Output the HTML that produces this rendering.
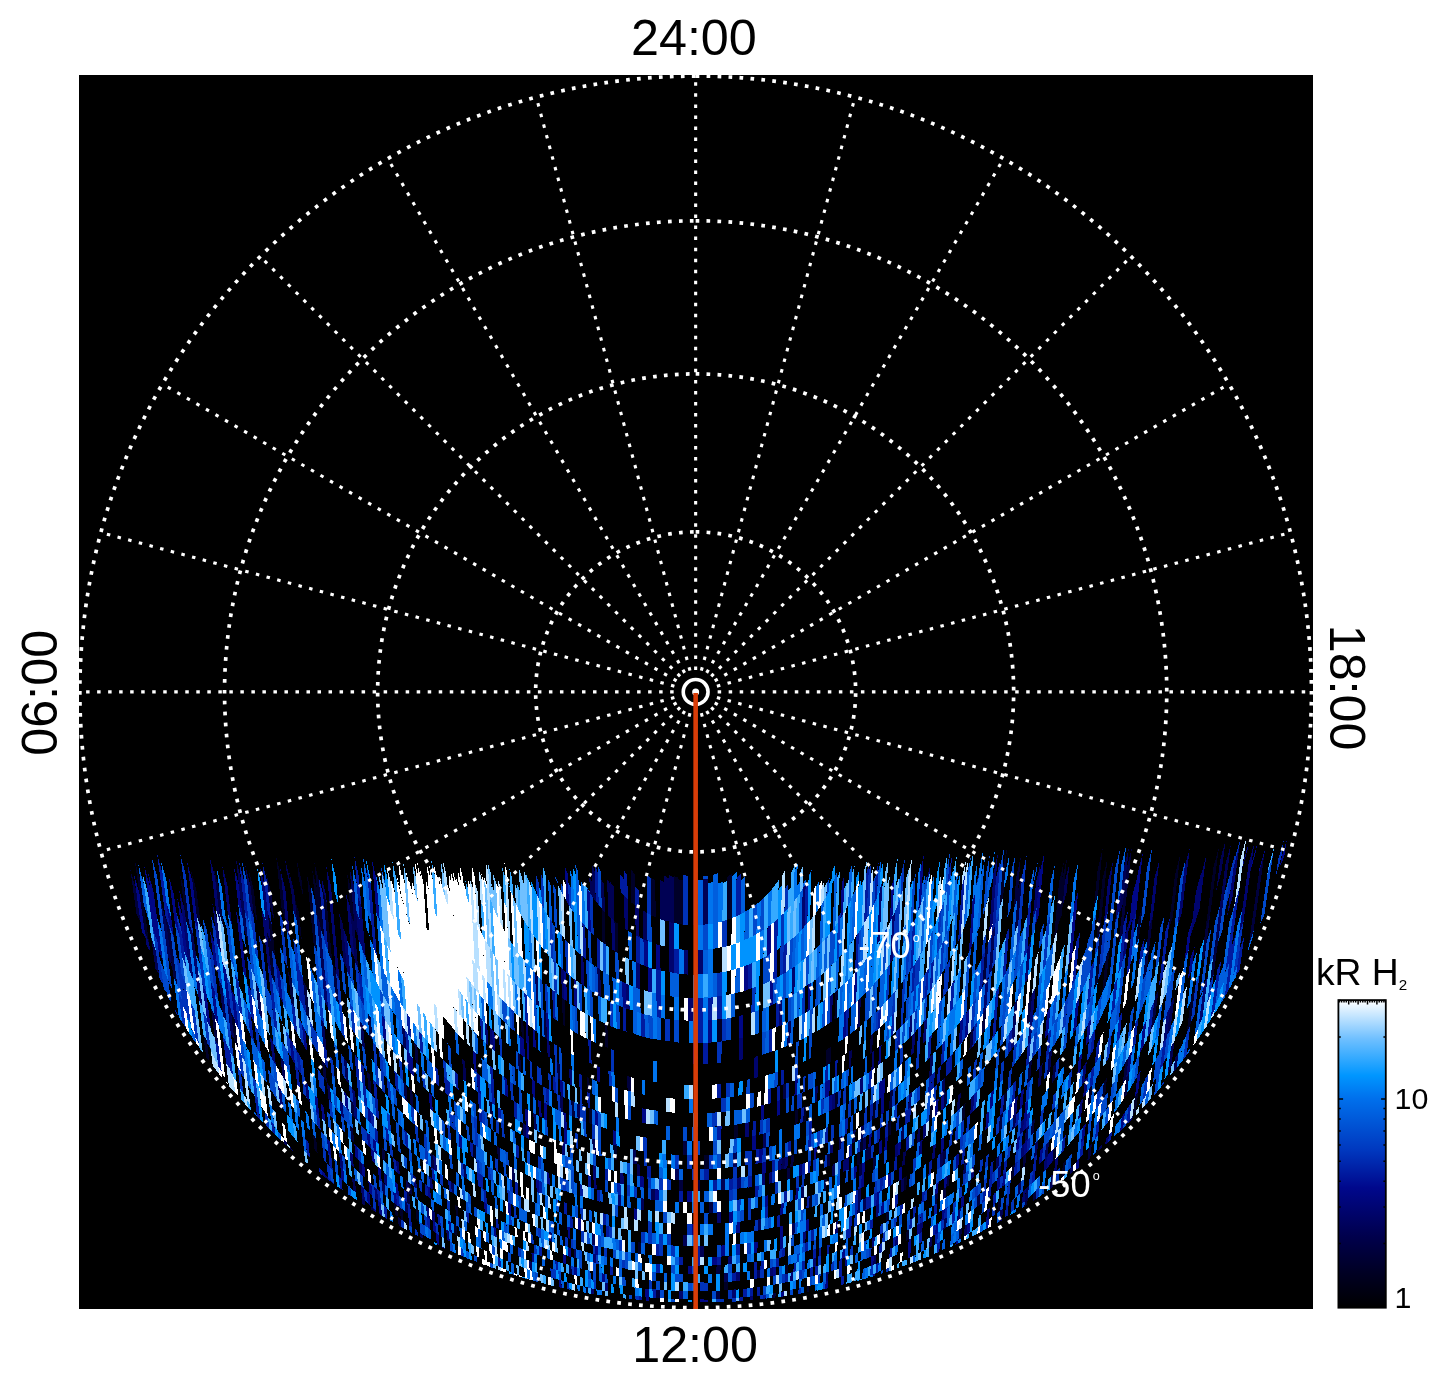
<!DOCTYPE html>
<html lang="en"><head><meta charset="utf-8"><title>Polar projection - kR H2</title>
<style>
html,body{margin:0;padding:0;background:#fff}
body{width:1447px;height:1384px;overflow:hidden}
svg{display:block}
text{font-family:"Liberation Sans",Arial,Helvetica,sans-serif}
</style></head><body>
<svg width="1447" height="1384" viewBox="0 0 1447 1384" style="will-change:transform">
<rect width="1447" height="1384" fill="#fff"/>
<rect x="79" y="75" width="1234" height="1234" fill="#000"/>
<defs><clipPath id="pc"><rect x="79" y="75" width="1234" height="1234"/></clipPath>
<linearGradient id="cb" x1="0" y1="1" x2="0" y2="0"><stop offset="0" stop-color="rgb(0,0,0)"/><stop offset="0.12" stop-color="rgb(0,0,38)"/><stop offset="0.23" stop-color="rgb(0,0,76)"/><stop offset="0.39" stop-color="rgb(0,8,140)"/><stop offset="0.51" stop-color="rgb(0,55,190)"/><stop offset="0.68" stop-color="rgb(0,112,236)"/><stop offset="0.755" stop-color="rgb(0,150,255)"/><stop offset="0.875" stop-color="rgb(112,192,255)"/><stop offset="1" stop-color="rgb(255,255,255)"/></linearGradient></defs>
<g clip-path="url(#pc)" stroke="none" shape-rendering="crispEdges">
<path fill="#fff" d="M457.0 955.0L458.3 963.3L458.9 971.3L458.7 979.0L457.7 986.0L456.0 992.3L453.6 997.7L450.6 1002.0L447.0 1005.2L443.0 1007.1L438.6 1007.8L434.2 1007.1L429.6 1005.2L425.0 1002.0L420.5 997.7L416.2 992.3L412.1 986.0L408.5 979.0L405.3 971.3L402.7 963.3L400.7 955.0L399.4 946.7L398.8 938.7L398.9 931.0L399.7 930.0L401.2 930.0L403.4 930.0L406.2 930.0L409.5 930.0L413.3 930.0L417.4 930.0L422.1 930.0L426.9 930.0L431.8 930.0L436.5 930.0L441.1 930.0L445.3 930.0L449.1 931.0L452.4 938.7L455.0 946.7Z"/>
<path fill="#000028" d="M520.89 1018.3L523.26 1020.3L524.1 1039.2L521.75 1037.4ZM561.99 997.7L564.48 999.5L565.38 1026.4L562.92 1024.8ZM586.78 1077.1L589.4 1078.2L589.81 1093.1L587.21 1092.1ZM601.76 908.8L604.85 912L605.59 944.5L602.54 942.3ZM604.44 1023.2L607.4 1024.6L607.93 1048L604.99 1046.8ZM614.47 921L617.8 923.7L618.38 953.3L615.08 951.3ZM630.91 869.4L634.76 874.4L635.23 905.4L631.43 902.5ZM650.97 877.3L655.32 880.7L655.68 917.5L651.39 915.5ZM673.62 876L678.44 877.7L678.63 923.8L673.87 922.9ZM678.45 879.3L683.33 880.5L683.46 924.7L678.63 924.1ZM717.14 1019.4L721.77 1018.8L721.61 1041.4L717.02 1041.9ZM727.45 876.8L732.08 873.6L731.67 918.3L727.1 920ZM826.19 1049.7L828.63 1048.3L828.06 1064.9L825.63 1066.2ZM828.64 1048.1L831.07 1046.6L830.48 1063.2L828.07 1064.5ZM835.41 991.6L837.87 989.5L836.84 1017.7L834.41 1019.4ZM134.84 860.7L140.49 880.7L149.31 944.6L144.56 930.8ZM179.93 873.9L185.36 893.9L190.51 934.4L185.87 920.3ZM203.24 1034.4L206.81 1040.8L209.36 1060.9L206.14 1057.3ZM190.98 870.1L196.36 890.1L201.28 929.6L196.62 915.1ZM231.1 1012.7L234.68 1019.4L238.01 1047.5L234.56 1041.7ZM248.65 869.5L253.74 889.5L257.36 922.4L252.98 908.6ZM266.85 931.2L270.86 942.1L275.35 983.9L271.72 976.3ZM267.7 912.6L271.93 925.5L275.33 957.5L271.51 948.2ZM276.25 857.3L281.21 877.3L285.74 921.3L281.53 908.3ZM313.1 1134.9L316.12 1138.2L317.63 1153.1L314.63 1150ZM294.96 899.6L299.21 913.5L301.8 939.6L297.94 929.4ZM296.85 860.7L301.7 880.7L303.32 897.1L298.68 879.2ZM306.78 873.6L311.49 892.7L317.21 952.5L313.55 943.8ZM312.1 868.9L316.88 888.9L320.11 923.3L316.16 911.6ZM314.31 861.7L319.08 881.7L324.4 938.6L320.64 928.9ZM322.59 888.6L326.84 903.6L332.22 962L328.68 954.2ZM347.1 873L351.49 890.6L354.31 923.5L350.56 913.1ZM394.15 1203.1L396.97 1205.2L397.89 1216.7L395.09 1214.6ZM399.8 1207.5L402.6 1209.5L403.51 1220.9L400.72 1219ZM415.76 1208.7L418.55 1210.6L419.4 1222.1L416.63 1220.2ZM453.77 1223.9L456.5 1225.4L457.18 1235.9L454.46 1234.4ZM455.16 1204.8L457.91 1206.4L458.59 1216.9L455.84 1215.3ZM472.7 1143.3L475.5 1145.2L476.31 1159.2L473.53 1157.4ZM585.49 1287L588.21 1287.6L588.37 1293L585.65 1292.6ZM588.64 1108.1L591.57 1109.2L591.98 1124.1L589.06 1123.1ZM613.4 1144.8L616.54 1145.6L616.84 1160.1L613.72 1159.3ZM637.86 1242.2L641.28 1242.7L641.45 1254.2L638.04 1253.7ZM704.47 1154.9L708.74 1154.8L708.69 1168.8L704.43 1168.9ZM724.4 1281.7L728.29 1281.4L728.22 1289.9L724.33 1290.2ZM733.73 1124.8L737.65 1124.3L737.5 1138.3L733.58 1138.8ZM785.06 1265.1L787.96 1264.5L787.73 1273.5L784.84 1274.1ZM794.89 1110.1L797.87 1109.1L797.46 1124.1L794.49 1125.1ZM803.76 1106.8L806.67 1105.7L806.22 1121.2L803.31 1122.3ZM809.59 1196L812.38 1195.1L812.02 1206.6L809.23 1207.4ZM806.79 1286.4L809.51 1285.7L809.32 1291.8L806.61 1292.3ZM835.19 1092.8L838.01 1091.4L837.4 1107.4L834.6 1108.8ZM857.31 1153.1L860.06 1151.7L859.51 1164.3L856.77 1165.6ZM860.61 1139.3L863.38 1137.8L862.82 1150.4L860.06 1151.8ZM873.12 1102.9L875.93 1101.1L875.11 1118.2L872.32 1119.8ZM888.43 1122.8L891.23 1121L890.52 1134.6L887.74 1136.3ZM886.48 1212.5L889.19 1211.2L888.69 1220.7L885.99 1222ZM904.29 1177.6L907.05 1176L906.28 1189.5L903.53 1191ZM906.54 1231L909.25 1229.6L908.67 1239.6L905.97 1241ZM930.06 1105.9L932.92 1103.6L931.98 1118.6L929.14 1120.8ZM962.66 1106L965.57 1103.4L964.42 1119.4L961.54 1121.9ZM967.98 1181.6L970.79 1179.6L969.94 1191.1L967.14 1193.1ZM1002.51 868.5L1006.94 848.5L1003.18 897.4L999.45 908.7ZM1004.4 1094L1007.39 1090.8L1005.86 1109.4L1002.91 1112.3ZM998.33 1201.2L1001.16 1199.1L1000.2 1210.6L997.39 1212.7ZM1011.84 1166.9L1014.72 1164.4L1013.65 1177L1010.78 1179.4ZM1059.04 882L1063.75 862L1059.9 904.1L1055.94 916.3ZM1055.94 916.3L1059.9 904.1L1057.5 930.4L1053.82 939.7ZM1062.26 878.3L1066.98 858.3L1061.78 914.8L1057.93 925.7ZM1053.7 1148.6L1056.68 1145.6L1055.32 1159.6L1052.37 1162.5ZM1062.97 1163.6L1065.94 1160.6L1064.54 1174.7L1061.6 1177.5ZM1097.8 868.5L1102.7 848.5L1098.1 894.2L1093.74 909.2ZM1102.56 878.5L1107.49 858.5L1099.82 933.6L1095.96 943.7ZM1098.96 942L1102.85 931.7L1097.59 982.9L1094.08 989.9ZM1089.44 1088.8L1092.6 1084.6L1090.76 1102.3L1087.65 1106.1ZM1105.9 957L1109.69 947.9L1105.74 985.4L1102.21 992.4ZM1103.82 1082L1107.02 1077.6L1104.96 1096.8L1101.8 1100.8ZM1096.43 1151L1099.48 1147.6L1099.21 1150.1L1096.27 1152.5ZM1138.23 920.3L1142.7 905.9L1139.19 937.2L1135.16 947.9ZM1134.97 1096.3L1138.22 1091.8L1135.93 1111.5L1132.74 1115.6ZM1175.07 874.3L1180.35 854.3L1172.91 916.3L1168.41 930.1ZM1191.26 996.5L1195.12 988.1L1190.28 1025.9L1186.66 1032.6ZM1213.47 867.2L1218.94 847.2L1210.35 913.6L1205.55 928.8Z"/>
<path fill="#00003d" d="M517.92 1052.6L520.25 1054.4L521.07 1072.3L518.75 1070.7ZM543.53 1010.2L545.93 1012.1L546.96 1039L544.59 1037.3ZM557.12 1062.2L559.52 1063.5L560.08 1079.5L557.7 1078.2ZM627.31 1076.1L630.72 1077L630.96 1091.5L627.56 1090.7ZM693.23 880.2L698.22 880.2L698.18 925.2L693.25 925.2ZM783.51 1084.4L786.43 1083.4L786.07 1098.4L783.16 1099.4ZM870.7 1035.3L873.06 1033.4L872.18 1052.4L869.84 1054.2ZM130.28 869.4L135.96 889.4L140.49 921.9L136.66 914.9ZM165.23 915.2L170.12 930.5L177.45 985.9L173.4 976.6ZM211.08 1008.5L214.76 1015.7L218.52 1046.1L215.01 1040ZM213.9 868.6L219.16 888.6L223.79 927.6L219.26 913.5ZM266.49 874.4L271.49 894.4L274.17 919.8L269.86 906ZM288.08 971.5L291.68 979.1L294.69 1008.4L291.26 1002.2ZM302.95 979.5L306.45 986.5L309.81 1020.3L306.47 1014.7ZM322.01 1060.1L325.18 1064.4L326.9 1082.2L323.78 1078.3ZM332.42 964.1L335.89 971.2L338.97 1005L335.66 999.3ZM350.03 1125.9L353.01 1129L354.27 1142.9L351.31 1140ZM350.36 1099.8L353.39 1103.2L354.73 1118.1L351.73 1114.9ZM370.58 1206L373.42 1208.2L373.65 1210.9L370.86 1209.3ZM366.97 1071.2L370.02 1074.8L371.7 1094.7L368.69 1091.4ZM367.51 1012.6L370.69 1017.3L372.67 1041L369.56 1036.9ZM381.53 1147L384.43 1149.6L385.46 1162.1L382.58 1159.6ZM397.9 1216.8L400.7 1218.7L401.36 1227L398.61 1225.5ZM406.47 1191.2L409.28 1193.3L410.17 1204.8L407.37 1202.8ZM408.41 1182L411.24 1184.1L412.11 1195.6L409.3 1193.5ZM403.38 1081.2L406.34 1084.3L407.7 1102.1L404.76 1099.3ZM409.35 1088L412.3 1090.9L413.56 1107.8L410.64 1105.1ZM414.25 1042.7L417.27 1046.2L418.62 1065L415.64 1061.8ZM430.33 1152.9L433.16 1155.1L434.17 1169.5L431.35 1167.5ZM489.23 1100.8L492.06 1102.8L492.83 1117.3L490.02 1115.4ZM497.07 1146.2L499.84 1147.8L500.52 1160.8L497.75 1159.2ZM568.74 1265.2L571.42 1265.9L571.71 1274.4L569.03 1273.7ZM571.38 1100.6L574.22 1101.8L574.72 1117.3L571.88 1116.1ZM656.14 1289.7L659.86 1290L659.94 1298.5L656.24 1298.2ZM678.93 1179.8L683.12 1179.9L683.15 1190.9L678.97 1190.8ZM682.99 1140.9L687.27 1141L687.29 1155L683.04 1154.9ZM695.87 1180.4L700.14 1180.4L700.13 1191.4L695.87 1191.4ZM708.57 1202.2L712.76 1202L712.71 1213L708.53 1213.2ZM716.53 1265.5L720.56 1265.3L720.5 1273.8L716.48 1274ZM716.38 1291L720.38 1290.8L720.32 1299.3L716.33 1299.5ZM772.55 1293.4L775.57 1292.9L775.47 1297.5L772.46 1297.8ZM787.46 1168.2L790.45 1167.4L790.15 1178.9L787.18 1179.7ZM790.74 1155.8L793.71 1155L793.4 1166.5L790.45 1167.3ZM823.85 1179.6L826.61 1178.6L826.18 1190.6L823.44 1191.5ZM827.46 1154.5L830.23 1153.4L829.8 1165.4L827.04 1166.5ZM859.51 1164.2L862.26 1162.9L861.7 1175.4L858.97 1176.7ZM865.56 1149.2L868.32 1147.8L867.74 1160.3L865 1161.7ZM868.34 1147.4L871.1 1145.9L870.49 1158.9L867.74 1160.3ZM873.25 1157.3L876 1155.8L875.37 1168.8L872.63 1170.2ZM890.03 1091.4L892.87 1089.4L891.93 1107.5L889.12 1109.4ZM935.19 1194.4L937.96 1192.7L937.27 1203.2L934.51 1204.9ZM944.5 1092.8L947.4 1090.3L946.33 1106.4L943.46 1108.8ZM943.34 1151.5L946.16 1149.5L945.19 1164L942.38 1166ZM943.52 1188.9L946.3 1187.1L945.59 1197.6L942.82 1199.4ZM947.04 1176.3L949.84 1174.3L949.08 1185.4L946.3 1187.2ZM970.74 1030.8L973.78 1027.1L972.33 1047.3L969.32 1050.6ZM959.21 1229.5L961.96 1227.7L961.2 1238.3L958.45 1240ZM984.95 950.5L988.28 943.7L985.43 982.1L982.26 987.2ZM983.13 1013.2L986.24 1008.8L984.61 1030.6L981.56 1034.4ZM977.57 1195.6L980.38 1193.5L979.49 1205.1L976.69 1207ZM1016.31 876.5L1020.81 856.5L1017.49 897.7L1013.69 909.4ZM1018.17 889.3L1022.4 872.5L1018.22 923.9L1014.66 932.8ZM999.95 1115.4L1002.9 1112.5L1001.51 1129.6L998.59 1132.3ZM1028.8 1000L1032.06 994.5L1029.7 1021.9L1026.52 1026.6ZM1028.91 1062.9L1032.01 1059L1030.15 1080.1L1027.1 1083.7ZM1023.53 1155.6L1026.45 1152.9L1025.29 1165.9L1022.39 1168.5ZM1031.89 1122L1034.87 1118.9L1033.61 1133L1030.65 1135.9ZM1024.83 1201.1L1027.69 1198.8L1027.12 1205.1L1024.33 1206.8ZM1033.52 1193L1036.4 1190.5L1035.59 1199.4L1032.78 1201.2ZM1053.32 1066.3L1056.46 1062.2L1054.8 1079.9L1051.7 1083.7ZM1088.84 1146.5L1091.88 1143.2L1090.29 1158.3L1087.37 1160.5ZM1126.75 867.8L1131.8 847.8L1122.56 933.5L1118.58 944.1ZM1125.14 1062.5L1128.46 1057.5L1126.01 1079.2L1122.76 1083.8ZM1126.16 1077.9L1129.43 1073.1L1127.08 1093.8L1123.87 1098.1ZM1148.7 928.5L1153.08 915.1L1146.47 972.6L1142.7 981ZM1154.72 998.1L1158.42 990.4L1154.55 1023.1L1151.03 1029.4ZM1205.55 928.8L1210.35 913.6L1205.09 954.4L1200.89 965ZM1215.15 942.3L1219.76 928.8L1213.76 974.3L1209.71 983.7ZM1258.87 873L1264.57 853L1253.61 930.8L1248.81 944.8Z"/>
<path fill="#000154" d="M535.08 973.2L537.51 975.7L538.74 1006.4L536.35 1004.4ZM589.39 877.3L592.37 882.7L592.74 897.1L589.8 892.9ZM591.91 864.9L594.97 871.7L595.7 901.2L592.74 897.3ZM597.35 967.7L600.27 969.6L600.92 996.9L598.04 995.3ZM601.08 879.4L604.23 884.4L604.85 912L601.76 908.8ZM607.22 879.3L610.49 884.1L611.2 918.2L608 915.2ZM610.45 882.2L613.78 886.7L614.47 920.9L611.2 918.1ZM643.1 910.6L647.19 912.9L647.53 941.1L643.47 939.4ZM659.74 879.5L664.29 882.1L664.59 920.6L660.08 919ZM664.24 875.7L668.9 878.3L669.18 921.7L664.58 920.3ZM668.88 874.9L673.63 877.1L673.87 923.1L669.18 922ZM703.2 879.5L708.17 878.5L708.02 924.2L703.11 924.7ZM787.9 1022L790.82 1020.6L790.23 1044.7L787.33 1045.9ZM815.28 1086.8L817.76 1085.7L817.26 1101.2L814.79 1102.3ZM849.51 1051.3L851.87 1049.7L851.15 1067.3L848.81 1068.7ZM858.54 999.5L860.94 997.3L859.7 1026.5L857.33 1028.4ZM151.18 937.5L155.78 950.4L159.02 974.2L155.47 968.8ZM160.47 900.9L165.71 918.8L172.21 967.7L167.96 956.9ZM189.05 922.9L193.63 936.6L196.66 960.5L192.45 949.7ZM218.64 978.9L222.47 987.4L226.71 1022.5L223.12 1015.8ZM227.09 1002.5L230.74 1009.7L234.31 1039.6L230.82 1033.6ZM235.85 858.5L241 878.5L248.1 941.4L243.96 929.8ZM255.4 981.1L259.06 988.8L262.49 1019.6L259.01 1013.3ZM245.32 865.5L250.42 885.5L254.14 919.1L249.66 904.5ZM283.9 1139.1L286.97 1142.6L287.35 1146.1L284.39 1143.7ZM280.34 1056.2L283.61 1061.1L285.78 1081.3L282.57 1076.9ZM285.22 860L290.12 880L291.13 890L286.23 870ZM289.35 872.3L294.23 892.3L297.21 922.1L293.1 909.5ZM320.75 1018.5L324.04 1023.8L326.59 1050.4L323.39 1045.9ZM326.94 1082.7L330.05 1086.6L331.61 1102.9L328.55 1099.4ZM316.16 911.6L320.11 923.3L324.85 973.5L321.35 966.3ZM352.06 1177.4L354.97 1179.9L356.15 1192.9L353.27 1190.4ZM343.81 1057.9L346.93 1062L348.91 1083.8L345.84 1080.1ZM358.5 1160L361.42 1162.6L362.57 1175.6L359.67 1173ZM361.93 1198.1L364.79 1200.5L365.26 1205.7L362.46 1204ZM339.14 913L342.95 923.8L346.98 969.4L343.55 962.4ZM350.56 913.1L354.31 923.5L358.1 967.7L354.69 960.9ZM359.88 1021L363.06 1025.6L365.09 1049.4L361.98 1045.2ZM349.51 867.5L354.02 886.5L358.26 936.5L354.66 927.5ZM379.11 1213L381.93 1215.1L381.99 1215.8L379.22 1214.2ZM381.77 1181.8L384.62 1184.1L385.62 1196.1L382.78 1193.8ZM404.56 1200.7L407.37 1202.8L408.22 1213.7L405.42 1211.8ZM405.57 1179.7L408.4 1181.9L409.28 1193.3L406.47 1191.2ZM401.91 1025.7L404.99 1029.7L406.54 1050.5L403.52 1046.9ZM420.23 1233L422.98 1234.8L423.26 1238.6L420.54 1237.3ZM451 1181.7L453.78 1183.5L454.46 1194L451.69 1192.3ZM463.19 1163.6L465.98 1165.5L466.81 1178.9L464.03 1177.2ZM462.21 1059.2L465.13 1061.9L466.35 1082.2L463.46 1079.8ZM511.55 1167.2L514.29 1168.6L514.9 1181.1L512.16 1179.8ZM522.92 1123.1L525.7 1124.7L526.28 1137.6L523.51 1136.2ZM529.2 1260.9L531.85 1261.9L532.26 1270.9L529.61 1269.9ZM533.34 1113.1L536.12 1114.6L536.79 1130.5L534.02 1129.1ZM560.06 1095.3L562.88 1096.6L563.44 1112.6L560.63 1111.3ZM573.51 1248.7L576.22 1249.4L576.51 1258.4L573.81 1257.7ZM577.09 1103.5L579.96 1104.6L580.41 1119.6L577.56 1118.5ZM592.15 1233.3L594.97 1234L595.29 1245.5L592.48 1244.8ZM592.37 1138.7L595.3 1139.6L595.69 1154.6L592.78 1153.7ZM632.96 1149.3L636.42 1149.9L636.64 1164.4L633.2 1163.8ZM636.64 1164.2L640.14 1164.7L640.31 1176.2L636.82 1175.7ZM640.63 1198.1L644.16 1198.6L644.32 1210.1L640.8 1209.6ZM651.31 1188.5L655.06 1189L655.18 1200L651.44 1199.5ZM674.72 1168.8L678.88 1169L678.93 1180L674.78 1179.8ZM683.29 1234.9L687.46 1235L687.48 1246L683.33 1245.9ZM700.05 1246L704.24 1245.9L704.21 1256.9L700.04 1257ZM721.17 1179.1L725.24 1178.8L725.15 1189.8L721.09 1190.1ZM724.47 1273.2L728.37 1272.9L728.29 1281.4L724.4 1281.7ZM733.44 1152.8L737.34 1152.3L737.17 1166.8L733.29 1167.3ZM758.02 1219.5L761.36 1218.9L761.16 1229.9L757.83 1230.5ZM757.15 1269.9L760.45 1269.5L760.3 1278L757.01 1278.4ZM762.9 1133.7L766.27 1132.9L765.99 1147.5L762.64 1148.2ZM781.67 1158L784.73 1157.2L784.45 1168.7L781.4 1169.4ZM791.9 1223.5L794.78 1222.8L794.47 1234.3L791.6 1235ZM801.45 1187.2L804.3 1186.3L803.96 1197.8L801.12 1198.6ZM832.54 1164.7L835.3 1163.6L834.85 1175.6L832.1 1176.6ZM839 1137.5L841.77 1136.2L841.28 1148.8L838.52 1150ZM852.85 1131L855.62 1129.6L855.09 1142.1L852.33 1143.5ZM861.18 1126.3L863.96 1124.8L863.38 1137.8L860.61 1139.3ZM858.42 1189.2L861.14 1188L860.57 1200.5L857.87 1201.6ZM857.87 1201.6L860.57 1200.5L860.04 1212.5L857.34 1213.6ZM863.38 1137.9L866.14 1136.4L865.57 1149L862.82 1150.4ZM863.29 1199.1L866.01 1197.9L865.43 1210.4L862.73 1211.6ZM873.8 1255.4L876.47 1254.3L876 1263.8L873.34 1264.9ZM901.71 1127.4L904.51 1125.5L903.76 1139L900.97 1140.8ZM903.01 1152.6L905.79 1150.9L905.03 1164.4L902.26 1166.1ZM901.51 1179.5L904.27 1178L903.54 1191L900.8 1192.5ZM917.8 1129.5L920.62 1127.5L919.78 1141.5L916.97 1143.4ZM930.36 1056.6L933.29 1053.8L932.01 1074.4L929.11 1077ZM929.77 1237.6L932.49 1236.1L931.84 1246.1L929.13 1247.5ZM942.65 1079.4L945.56 1076.7L944.47 1093.3L941.58 1095.8ZM940.52 1153.6L943.34 1151.5L942.38 1166.1L939.58 1168ZM944.14 1219.1L946.89 1217.4L946.17 1228L943.43 1229.6ZM957.97 1095.2L960.88 1092.5L959.73 1109.1L956.84 1111.6ZM963.98 1163.2L966.81 1161L965.97 1172.6L963.16 1174.6ZM964.72 1226L967.48 1224.2L966.7 1234.8L963.95 1236.5ZM991.94 932.6L995.41 924.4L991.98 969.7L988.75 975.3ZM996.54 1157.6L999.42 1155.2L998.4 1167.7L995.54 1170.1ZM1014.57 1003.2L1017.78 998.1L1015.64 1023.9L1012.51 1028.4ZM1000.2 1210.6L1003.02 1208.5L1002.04 1220.3L999.28 1221.8ZM1013.35 1117.2L1016.31 1114.2L1015.16 1127.8L1012.22 1130.6ZM1018.36 1184.1L1021.24 1181.7L1020.18 1193.7L1017.32 1196.1ZM1025.89 1128.7L1028.85 1125.7L1027.65 1139.3L1024.71 1142.1ZM1025.94 1188.7L1028.82 1186.2L1027.69 1198.8L1024.83 1201.1ZM1039.52 1067.2L1042.63 1063.2L1040.71 1084.4L1037.65 1088ZM1035.35 1143.5L1038.31 1140.6L1037.07 1154.1L1034.14 1156.9ZM1064.71 882.9L1069.44 862.9L1066.72 892.3L1062.54 906.6ZM1049.09 1052.6L1052.25 1048.3L1050.1 1071.5L1047 1075.4ZM1046.04 1144.3L1049.01 1141.3L1047.69 1155.4L1044.74 1158.2ZM1051.08 1175.9L1054.01 1173.2L1052.71 1186.8L1049.8 1189.4ZM1070.58 1167.7L1073.55 1164.8L1072.8 1172.2L1069.92 1174.3ZM1123.9 867.4L1128.93 847.4L1122.94 903.4L1118.56 917.6ZM1099.55 1146.9L1102.61 1143.5L1102.17 1147.5L1099.23 1149.9ZM1170.87 1003.1L1174.6 995.5L1170.47 1029.1L1166.92 1035.5ZM1171.04 1046.9L1174.55 1040.9L1171.28 1067.2L1167.88 1072.6ZM1175.19 1057.9L1178.66 1052.2L1176.63 1068.3L1173.45 1071.8ZM1220.2 859.8L1225.71 839.8L1221.67 870.7L1216.19 890.7ZM1225.43 864L1230.97 844L1225.38 886.3L1219.88 906.3ZM1219.88 906.3L1225.38 886.3L1219.76 928.8L1215.15 942.3Z"/>
<path fill="#00046d" d="M484.82 1022.1L487.21 1024.5L488.33 1045.4L485.96 1043.2ZM489.62 1027.4L492 1029.6L493.04 1049.5L490.69 1047.5ZM525.64 1022.5L528 1024.4L528.8 1042.8L526.45 1041.1ZM546.97 1039.2L549.35 1040.8L549.99 1057.7L547.63 1056.3ZM560.98 968L563.5 970.2L564.48 999.5L561.99 997.7ZM569.18 1068.5L571.63 1069.7L572.15 1085.7L569.71 1084.5ZM580.69 954.9L583.39 957.2L584.22 986.4L581.55 984.6ZM611.2 918.1L614.47 920.9L615.09 951.5L611.86 949.4ZM624.12 895.9L627.73 899.3L628.26 930.7L624.69 928.4ZM625.66 983.4L629.17 984.8L629.59 1009.7L626.11 1008.5ZM635.22 905.2L639.11 908L639.52 937.1L635.67 935.1ZM636.08 962.3L639.89 963.9L640.25 989.2L636.46 987.9ZM669.18 922L673.87 923.1L674 948.5L669.35 947.6ZM669.35 947.6L674 948.5L674.13 972.9L669.51 972.2ZM683.53 949.8L688.38 950.1L688.42 974.6L683.61 974.3ZM688.46 997.8L693.28 997.9L693.3 1020.9L688.5 1020.8ZM698.16 950.4L703.06 950.2L703.01 974.2L698.14 974.4ZM739.09 1038.2L743.2 1037.4L742.92 1059.4L738.84 1060.2ZM754.53 1056.8L758.2 1055.8L757.84 1077.4L754.2 1078.2ZM779.32 1001.5L782.44 1000L781.88 1025.1L778.78 1026.4ZM792.12 968.3L795.04 966.3L794.34 993.9L791.44 995.6ZM802.73 888.7L805.66 883.7L804.47 926.7L801.63 929.6ZM830.45 995.8L832.93 993.9L831.95 1021.5L829.5 1023.2ZM879.7 889.2L882.39 881.9L879.64 940.7L877.16 944.3ZM872.18 1052.4L874.52 1050.6L873.68 1068.7L871.35 1070.4ZM892.41 916.7L895 911.6L892.57 960L890.1 963.3ZM910.11 1016.6L912.51 1014.1L911.28 1036.2L908.9 1038.5ZM927.22 876.9L930.26 865L929.81 872.8L926.86 883.1ZM144.56 930.8L149.31 944.6L150.29 951.7L146.63 945.6ZM178.93 888.5L184.36 908.5L193.56 980.4L189.54 971ZM192.45 949.7L196.66 960.5L202.59 1007.5L198.82 999.7ZM212.34 903.5L217.11 919.3L221.24 953.7L217.09 942.8ZM209.51 856.1L214.8 876.1L220.46 923.6L215.82 908.6ZM222.17 865.2L227.39 885.2L232.17 926.3L227.67 912.2ZM269.92 1036.6L273.28 1042L275.76 1064.7L272.48 1059.8ZM278.06 1085.7L281.26 1090L283.3 1108.9L280.15 1104.9ZM261.41 907.3L265.76 921.1L271.34 972.8L267.63 964.5ZM259.89 866.6L264.92 886.6L270.86 942.1L266.85 931.2ZM290.13 1147L293.17 1150.3L293.28 1151.3L290.34 1148.9ZM280.33 868.8L285.26 888.8L290.49 940L286.58 929.5ZM304.83 1080.4L307.98 1084.5L309.74 1101.8L306.63 1098ZM325.09 1174.2L328.03 1177L328.29 1179.6L325.43 1177.6ZM321.35 966.3L324.85 973.5L328.08 1007.8L324.75 1002.1ZM338.99 1152L341.95 1154.9L343.21 1168.3L340.28 1165.6ZM339.46 1099.6L342.51 1103.1L343.93 1118.5L340.92 1115.2ZM321.55 877.3L326.04 894.8L326.84 903.6L322.59 888.6ZM349.61 1150.7L352.55 1153.6L353.78 1167L350.86 1164.3ZM326.31 866.4L331.01 886.4L335.7 938.2L332 928.7ZM332 928.7L335.7 938.2L339.52 980.2L336.11 973.6ZM352.03 1088.1L355.07 1091.6L356.45 1107L353.43 1103.7ZM353.43 1103.7L356.45 1107L357.73 1121.4L354.75 1118.3ZM360.8 1185.6L363.68 1188L364.79 1200.5L361.93 1198.1ZM343.35 928.4L347 937.6L350.53 977.7L347.14 971.2ZM346.02 893.7L350.03 906.9L354.49 958.5L351.02 951.1ZM374.19 1186.6L377.05 1189L378.08 1200.9L375.24 1198.7ZM355.95 909.3L359.72 920.1L362.03 947.5L358.51 939.5ZM357.62 895.2L361.54 907.7L365.66 957.1L362.22 949.8ZM383.62 1172.2L386.49 1174.5L387.48 1186.5L384.63 1184.2ZM396.02 1160.3L398.89 1162.6L399.84 1174.6L396.99 1172.3ZM413.22 1175.1L416.04 1177.2L416.9 1188.7L414.09 1186.6ZM426.14 1206L428.92 1207.9L429.71 1218.8L426.94 1217.1ZM429.33 1176.6L432.14 1178.6L432.92 1189.6L430.12 1187.7ZM431.69 1209.7L434.46 1211.5L435.24 1222.5L432.48 1220.8ZM433.17 1155.2L436 1157.3L437 1171.8L434.18 1169.8ZM442.17 1246.6L444.9 1248.2L444.95 1249L442.26 1247.8ZM446.24 1229.4L448.98 1231L449.68 1241.5L446.95 1239.9ZM548.97 1231.9L551.65 1232.8L552 1241.8L549.33 1240.9ZM561.73 1142.4L564.51 1143.5L564.93 1155.5L562.16 1154.4ZM590.95 1288.3L593.71 1288.9L593.86 1294.3L591.11 1293.8ZM592.73 1253.8L595.53 1254.5L595.76 1263L592.97 1262.3ZM593.1 1165.2L596 1166.1L596.3 1177.6L593.41 1176.8ZM593.41 1176.8L596.3 1177.6L596.61 1189.1L593.73 1188.3ZM604.73 1282.4L607.61 1283L607.81 1291.5L604.94 1290.9ZM617.56 1194.5L620.7 1195.1L620.92 1206.1L617.79 1205.5ZM620.25 1172.5L623.46 1173.2L623.67 1184.2L620.47 1183.5ZM679.41 1290.8L683.47 1290.9L683.5 1299.4L679.44 1299.3ZM716.84 1212.5L720.93 1212.2L720.86 1223.2L716.78 1223.5ZM728.53 1255.8L732.39 1255.5L732.3 1264L728.45 1264.3ZM732.04 1289.7L735.79 1289.4L735.69 1297.9L731.95 1298.2ZM737.05 1177.7L740.85 1177.3L740.71 1188.3L736.93 1188.7ZM735.98 1272.2L739.68 1271.8L739.57 1280.8L735.88 1281.2ZM745.29 1123L749 1122.3L748.79 1136.8L745.1 1137.5ZM749.97 1296.4L753.38 1296L753.31 1300L749.91 1300.3ZM762.18 1173.7L765.51 1173L765.29 1184.5L761.97 1185.1ZM768.78 1172.8L772 1172.1L771.77 1183.1L768.56 1183.7ZM770.02 1267.9L773.11 1267.4L772.93 1275.9L769.85 1276.4ZM778.56 1159.2L781.66 1158.4L781.4 1169.4L778.32 1170.2ZM784.72 1157.4L787.75 1156.6L787.46 1168.1L784.45 1168.9ZM790.61 1272.4L793.45 1271.8L793.21 1280.8L790.37 1281.4ZM799.24 1164.7L802.12 1163.8L801.79 1175.3L798.92 1176.2ZM802.95 1232.1L805.74 1231.3L805.4 1242.8L802.61 1243.6ZM813.07 1258.7L815.78 1258L815.5 1266.5L812.79 1267.2ZM832.37 1094.2L835.19 1092.8L834.6 1108.8L831.79 1110.1ZM830.66 1141.6L833.44 1140.4L832.99 1152.4L830.23 1153.5ZM825.94 1272.4L828.61 1271.6L828.27 1280.6L825.61 1281.3ZM835.77 1221.9L838.47 1220.9L838 1232.9L835.31 1233.8ZM843.56 1159.8L846.3 1158.5L845.82 1170.6L843.08 1171.7ZM846.31 1158.3L849.06 1157.1L848.55 1169.6L845.81 1170.8ZM860.57 1077.8L863.4 1076L862.65 1093.1L859.84 1094.8ZM872.03 1238L874.71 1236.9L874.24 1246.4L871.57 1247.5ZM876.25 1205.5L878.96 1204.2L878.36 1216.2L875.66 1217.4ZM895.38 1144.7L898.16 1143L897.46 1156L894.69 1157.7ZM895.72 1236.6L898.42 1235.3L897.89 1244.8L895.21 1246.1ZM912.32 1034.7L915.26 1031.8L914.05 1053L911.15 1055.6ZM908.97 1094.4L911.82 1092.2L910.96 1107.2L908.13 1109.3ZM924.17 1021.6L927.15 1018.3L925.79 1041L922.85 1043.9ZM919.77 1141.6L922.58 1139.6L921.73 1153.7L918.94 1155.5ZM923.46 1125.2L926.29 1123.1L925.4 1137.7L922.58 1139.7ZM920.14 1223.5L922.87 1222L922.25 1232L919.53 1233.5ZM932.98 1145.6L935.8 1143.6L934.9 1157.6L932.1 1159.5ZM957.98 1209.9L960.75 1208L959.96 1219.1L957.2 1220.8ZM971.44 1097.4L974.37 1094.6L973.15 1111.2L970.25 1113.8ZM993.52 873L997.9 853L992.58 924.1L989.13 932.2ZM985.47 981.6L988.67 976.3L986.24 1008.8L983.13 1013.2ZM971.65 1168.1L974.48 1165.9L973.62 1177.4L970.8 1179.5ZM987.05 1209.8L989.86 1207.8L988.94 1219.3L986.15 1221.3ZM998.42 1167.6L1001.29 1165.2L1000.3 1177.2L997.45 1179.5ZM1012.51 1028.4L1015.64 1023.9L1013.76 1046.7L1010.68 1050.6ZM1027.54 948.6L1031.04 940.7L1027.86 978.2L1024.55 984.1ZM1014.9 1098.8L1017.89 1095.6L1016.31 1114.2L1013.35 1117.2ZM1035.96 882.7L1040.55 862.7L1036.67 908L1032.88 918.9ZM1032.17 993.3L1035.47 987.6L1032.99 1016L1029.79 1020.9ZM1029.79 1020.9L1032.99 1016L1030.83 1040.8L1027.7 1045.1ZM1021.11 1121.4L1024.08 1118.4L1022.9 1132L1019.95 1134.9ZM1021.74 1145.3L1024.67 1142.5L1023.48 1156.1L1020.57 1158.7ZM1023.06 1191.1L1025.93 1188.7L1024.82 1201.3L1021.96 1203.6ZM1044.74 1158.2L1047.69 1155.4L1046.41 1168.9L1043.48 1171.6ZM1055.36 1159.2L1058.32 1156.3L1056.95 1170.4L1054.02 1173.2ZM1083.54 1066.2L1086.74 1061.7L1084.78 1080.9L1081.63 1085ZM1079.87 1102.4L1082.98 1098.6L1081.23 1115.7L1078.16 1119.3ZM1084.88 1080L1088.05 1075.8L1086.18 1093.9L1083.06 1097.8ZM1108.09 880.8L1113.03 860.8L1107.79 911.5L1103.63 924.1ZM1117.01 905.4L1121.67 888.4L1119.43 909.5L1115.17 922.7ZM1125.52 932.4L1129.69 920.3L1126.17 952.4L1122.35 961.6ZM1105.81 1138.8L1108.9 1135.3L1108.12 1142.3L1105.16 1144.8ZM1128.61 1056.1L1131.96 1050.9L1129.43 1073.1L1126.16 1077.9ZM1154.37 878.8L1159.55 858.8L1153.08 915.1L1148.7 928.5ZM1129.49 1120.3L1132.66 1116.3L1132.36 1118.9L1129.33 1121.7ZM1184.52 867.7L1189.85 847.7L1181.92 912.7L1177.29 927.2ZM1166.79 1013.8L1170.44 1006.6L1166.65 1037.7L1163.15 1043.7ZM1195.91 892.1L1201.29 872.1L1194.93 922.8L1190.39 936.3ZM1200.83 875.8L1206.24 855.8L1199.58 908.5L1194.75 924.2ZM1203.93 985L1207.94 975.7L1202.32 1018.8L1198.61 1025.9ZM1233.83 866.1L1239.41 846.1L1232.56 897L1227.19 915.8ZM1248.71 863L1254.35 843L1243.61 920.9L1238.7 936Z"/>
<path fill="#000786" d="M491.99 1029.6L494.36 1031.8L495.4 1051.7L493.05 1049.7ZM519.4 1035.5L521.75 1037.4L522.57 1055.8L520.24 1054.1ZM521.75 1037.4L524.1 1039.2L524.91 1057.6L522.58 1055.9ZM526.45 1041.1L528.8 1042.8L529.57 1060.8L527.24 1059.2ZM532.75 1028.5L535.11 1030.3L535.85 1048.2L533.5 1046.6ZM545.93 1012.1L548.34 1013.9L549.35 1040.8L546.97 1039.2ZM560.08 1079.5L562.47 1080.7L563.02 1096.7L560.65 1095.6ZM563.49 970L566.02 972.2L566.98 1001.5L564.48 999.7ZM565.1 867L567.89 874.2L568.87 905.2L566.2 901ZM573.7 978.7L576.3 980.7L577.14 1008.5L574.57 1006.9ZM586.9 888.4L589.8 892.9L590.83 932L588 929.3ZM597.06 1066.2L599.83 1067.3L600.2 1082.3L597.44 1081.2ZM622.24 981.9L625.67 983.4L626.11 1008.3L622.71 1007ZM641.92 1108.3L645.68 1109L645.87 1123.5L642.12 1122.8ZM643.47 939.4L647.53 941.1L647.84 967L643.81 965.6ZM647.84 967L651.96 968.3L652.23 992.7L648.13 991.6ZM655.95 944.3L660.32 945.6L660.54 970.5L656.2 969.4ZM693.3 1043.2L698.09 1043.2L698.07 1064.2L693.31 1064.2ZM707.7 1020.3L712.45 1019.9L712.35 1042.4L707.63 1042.8ZM739.34 1015.8L743.48 1014.8L743.2 1037.4L739.09 1038.2ZM744.08 966.3L748.17 964.8L747.83 989.9L743.77 991.2ZM760.88 1105.4L764.31 1104.6L764.04 1119.1L760.63 1119.9ZM767.55 927.1L771.07 924.5L770.51 953.8L767.02 955.8ZM769.99 981.1L773.36 979.4L772.86 1004.6L769.51 1006ZM777.16 1101.2L780.19 1100.3L779.87 1114.9L776.85 1115.7ZM794.89 1080.2L797.62 1079.1L797.2 1094.7L794.48 1095.7ZM808.21 984.7L810.88 982.8L810.08 1010L807.43 1011.6ZM825.09 1082.1L827.5 1080.9L826.94 1097L824.54 1098.1ZM827.5 1081L829.9 1079.7L829.33 1095.8L826.94 1096.9ZM841.78 882.5L844.47 875.8L843.05 914.2L840.48 918.1ZM844.1 1012.2L846.51 1010.3L845.45 1037.5L843.07 1039.1ZM854.99 973.1L857.43 970.5L856.12 1002.2L853.72 1004.3ZM879.22 1046.6L881.56 1044.7L880.66 1063.3L878.34 1065ZM891.61 885.5L894.36 877.3L892.37 917.5L889.81 922.3ZM920.61 869.5L923.76 855.2L920.99 904.2L918.31 910.5ZM972.34 902L975.29 893L971.52 947L968.87 952.1ZM133.7 873.2L139.35 893.2L145.56 937.9L141.82 931.5ZM144.24 865.9L149.84 885.9L157.51 942.3L152.78 928.5ZM147.82 871L153.41 891L162.91 961.3L158.52 949.8ZM166.36 902.1L171.53 919.6L173.96 938.1L169.27 924.1ZM168.55 875.1L174.03 895.1L179.26 935.2L174.55 921ZM177.24 897.7L182.43 915.7L188.44 962.4L184.21 951.6ZM186.99 861.2L192.38 881.2L198.83 932.8L194.22 918.7ZM202.43 984L206.29 992.4L210.81 1028.6L207.19 1021.9ZM210.5 981.2L214.35 989.7L218.73 1025.3L215.12 1018.6ZM209.93 930.6L214.26 942.9L217.96 973.3L214 963.9ZM222.15 961.4L226.1 970.8L230.74 1009.7L227.09 1002.5ZM231.02 988.6L234.73 996.3L238.54 1028.6L235.02 1022.3ZM236.12 911.1L240.57 925.1L246.83 979.8L243.05 971.4ZM233.82 866L238.98 886L242.72 919L238.15 903.9ZM275.84 962.2L279.54 970.6L282.94 1002.7L279.44 996.1ZM289.37 1037.3L292.68 1042.5L294.89 1063.8L291.65 1059.1ZM301.88 1024.3L305.2 1029.7L307.39 1051.4L304.14 1046.6ZM314.46 1094.6L317.56 1098.4L319.19 1114.8L316.12 1111.2ZM322.11 1171.1L325.06 1173.9L325.42 1177.5L322.55 1175.5ZM320.78 1103.4L323.85 1107L325.36 1122.4L322.31 1119ZM326.92 1138.4L329.92 1141.5L331.32 1155.9L328.35 1152.9ZM340.28 1165.6L343.21 1168.3L344.48 1181.8L341.57 1179.1ZM344.19 1091.9L347.24 1095.4L348.65 1110.8L345.63 1107.5ZM354.33 1143.6L357.28 1146.4L358.49 1159.8L355.56 1157.1ZM361.41 1162.6L364.32 1165.2L365.47 1178.2L362.58 1175.7ZM366.58 1190.8L369.45 1193.2L370.54 1205.6L367.7 1203.3ZM368.42 1181.4L371.29 1183.8L372.33 1195.8L369.47 1193.4ZM366.76 1131.9L369.71 1134.7L370.87 1148.1L367.95 1145.4ZM373.41 1208.2L376.25 1210.4L376.44 1212.6L373.66 1211ZM367.29 1106.7L370.28 1109.9L371.51 1124.3L368.55 1121.3ZM370.9 1148.5L373.81 1151.1L374.88 1163.6L371.98 1161ZM372.7 1138.1L375.63 1140.9L376.73 1153.8L373.82 1151.2ZM378.08 1200.9L380.92 1203.1L381.93 1215.1L379.11 1213ZM377.82 1166.7L380.7 1169.2L381.75 1181.6L378.89 1179.3ZM393.21 1191.6L396.05 1193.7L396.97 1205.2L394.15 1203.1ZM381.59 1014.5L384.73 1019L386.55 1041.8L383.46 1037.8ZM395.11 1182.1L397.95 1184.4L398.87 1195.8L396.04 1193.7ZM371.98 859.5L376.45 879.5L379.81 921.9L376.18 912ZM406.56 1050.7L409.58 1054.2L410.97 1073L408 1069.8ZM409.6 1054.5L412.6 1057.9L413.95 1076.2L410.98 1073.1ZM427.34 1186L430.14 1187.9L430.92 1198.9L428.13 1197ZM432.48 1220.8L435.24 1222.5L435.98 1233L433.23 1231.3ZM435.99 1233.2L438.74 1234.8L439.47 1245.3L436.74 1243.7ZM428.78 1092.4L431.69 1095.1L432.79 1111L429.9 1108.5ZM448.29 1220.7L451.03 1222.3L451.73 1232.8L448.99 1231.2ZM458.61 1133.2L461.43 1135.2L462.3 1149.2L459.49 1147.2ZM472.69 1050.1L475.6 1052.8L476.74 1072.7L473.86 1070.2ZM476.75 1072.8L479.62 1075.2L480.69 1094.1L477.84 1091.9ZM484.13 1202.3L486.86 1203.7L487.42 1213.7L484.7 1212.3ZM493.42 1226.7L496.12 1228L496.63 1237.5L493.94 1236.2ZM507.97 1202.4L510.69 1203.7L511.31 1216.1L508.61 1214.9ZM504.39 1077.3L507.23 1079.4L508.11 1097.3L505.29 1095.4ZM524.97 1108.3L527.76 1109.9L528.48 1126.4L525.71 1124.9ZM525.71 1124.9L528.48 1126.4L529.03 1138.8L526.27 1137.4ZM531.44 1252.6L534.1 1253.6L534.5 1262.6L531.84 1261.6ZM531.9 1079.5L534.72 1081.2L535.43 1098.1L532.63 1096.5ZM536.16 1179.2L538.89 1180.4L539.41 1192.9L536.7 1191.8ZM538.24 1099.8L541.04 1101.4L541.68 1117.3L538.9 1115.9ZM543.82 1102.6L546.62 1104.1L547.26 1120.5L544.48 1119.1ZM546.58 1171.8L549.31 1172.9L549.78 1184.9L547.05 1183.8ZM558.72 1279.8L561.37 1280.5L561.64 1287.9L559.01 1287.3ZM563.05 1254.3L565.73 1255.2L566.05 1264.1L563.38 1263.4ZM563.43 1112.4L566.24 1113.7L566.77 1129.2L563.97 1128ZM563.97 1128L566.77 1129.2L567.29 1144.6L564.51 1143.5ZM567.4 1226.6L570.11 1227.5L570.5 1239L567.8 1238.2ZM568.11 1247.2L570.81 1248L571.11 1257L568.42 1256.2ZM574.11 1266.7L576.81 1267.4L577.08 1275.9L574.39 1275.2ZM577.92 1218L580.67 1218.8L581.05 1230.8L578.3 1230ZM595.3 1245.8L598.13 1246.5L598.35 1255L595.53 1254.3ZM594.52 1110.2L597.49 1111.2L597.86 1125.7L594.9 1124.8ZM601.66 1273.3L604.52 1273.9L604.73 1282.4L601.88 1281.8ZM613.09 1130.3L616.24 1131.1L616.54 1145.6L613.4 1144.8ZM633.94 1208.3L637.34 1208.9L637.51 1219.9L634.12 1219.4ZM640.31 1176.1L643.86 1176.6L644.01 1187.6L640.47 1187.1ZM645.4 1288.7L648.91 1289.1L649.02 1297.6L645.52 1297.2ZM645.52 1297.2L649.02 1297.6L649.07 1301L645.57 1300.8ZM655.06 1189.2L658.88 1189.6L658.99 1200.5L655.18 1200.2ZM687.37 1191.4L691.61 1191.5L691.62 1202.5L687.39 1202.4ZM687.52 1265.9L691.68 1266L691.69 1274.5L687.54 1274.4ZM691.64 1224.4L695.86 1224.4L695.86 1235.4L691.65 1235.4ZM699.98 1299.5L704.1 1299.4L704.1 1302.4L699.97 1302.5ZM704.1 1299.9L708.21 1299.8L708.2 1302.3L704.1 1302.4ZM712.5 1256.8L716.58 1256.6L716.53 1265.1L712.46 1265.3ZM720.7 1245.6L724.69 1245.3L724.61 1256.3L720.62 1256.6ZM728.93 1211.8L732.84 1211.4L732.73 1222.4L728.83 1222.8ZM736.55 1222.2L740.3 1221.8L740.16 1232.8L736.42 1233.2ZM752.42 1136L755.98 1135.3L755.74 1149.9L752.2 1150.5ZM754.25 1242L757.64 1241.5L757.45 1252.5L754.07 1253ZM759.22 1149L762.64 1148.3L762.38 1162.4L758.98 1163ZM762.38 1162.7L765.72 1162L765.51 1173L762.18 1173.7ZM765.08 1195.9L768.33 1195.3L768.11 1206.3L764.87 1206.9ZM773.11 1267.4L776.16 1266.9L775.97 1275.4L772.93 1275.9ZM780.61 1203.9L783.63 1203.2L783.36 1214.2L780.35 1214.9ZM780.09 1226.4L783.09 1225.7L782.81 1237.2L779.82 1237.9ZM779.82 1237.9L782.81 1237.2L782.55 1248.3L779.56 1248.9ZM781.5 1291.8L784.41 1291.3L784.29 1296.3L781.38 1296.7ZM795.71 1188.4L798.6 1187.6L798.28 1199.1L795.4 1199.9ZM806.09 1219.7L808.88 1219L808.52 1230.5L805.75 1231.2ZM813.87 1148L816.69 1147L816.3 1159L813.49 1160ZM829.54 1095.6L832.37 1094.2L831.79 1110.3L828.98 1111.6ZM825.61 1281.3L828.27 1280.6L828 1288.2L825.35 1288.8ZM842.64 1249.1L845.31 1248.2L844.92 1257.7L842.26 1258.6ZM844.93 1257.4L847.59 1256.5L847.22 1265.5L844.56 1266.4ZM854.02 1167.2L856.76 1165.9L856.24 1178L853.51 1179.2ZM862.24 1163.3L864.98 1162L864.41 1174.5L861.68 1175.8ZM861.68 1175.8L864.41 1174.5L863.86 1186.6L861.14 1187.8ZM868.91 1134.9L871.69 1133.4L871.1 1145.9L868.34 1147.4ZM879.57 1082L882.41 1080L881.55 1097.5L878.73 1099.4ZM871.14 1256.5L873.8 1255.4L873.33 1264.9L870.68 1266ZM882.41 1079.8L885.25 1077.8L884.38 1095.4L881.56 1097.3ZM881.56 1097.3L884.38 1095.4L883.51 1112.9L880.7 1114.7ZM879.38 1141.6L882.16 1140L881.51 1153.1L878.75 1154.6ZM876.89 1192.5L879.61 1191.2L878.96 1204.2L876.25 1205.5ZM872.87 1274.3L875.52 1273.3L875.42 1275.4L872.78 1276.2ZM884.94 1138.2L887.72 1136.6L887.05 1149.6L884.29 1151.2ZM881.69 1202.6L884.41 1201.2L883.77 1213.8L881.06 1215ZM888.47 1174.1L891.22 1172.6L890.54 1185.6L887.8 1187ZM898.16 1143L900.94 1141.3L900.23 1154.4L897.46 1156ZM899.5 1167.7L902.26 1166.1L901.51 1179.7L898.76 1181.2ZM908.68 1239.4L911.38 1238.1L910.79 1248.1L908.1 1249.4ZM908.1 1249.4L910.79 1248.1L910.23 1257.6L907.54 1258.9ZM917.42 1224.9L920.14 1223.4L919.53 1233.5L916.82 1234.9ZM935.82 1100.8L938.69 1098.4L937.7 1113.9L934.84 1116.2ZM941.58 1095.8L944.47 1093.3L943.45 1108.9L940.58 1111.2ZM935.87 1184L938.65 1182.2L937.96 1192.7L935.19 1194.4ZM941.47 1139.1L944.3 1137L943.34 1151.5L940.52 1153.6ZM935.88 1224.4L938.62 1222.8L937.96 1232.8L935.23 1234.3ZM944.26 1178L947.05 1176.1L946.3 1187.1L943.52 1188.9ZM942.09 1210.4L944.84 1208.7L944.13 1219.2L941.38 1220.8ZM960.31 1021.2L963.35 1017.4L961.61 1042.6L958.62 1046ZM966.46 1012.6L969.54 1008.6L967.65 1035.3L964.63 1038.9ZM956.51 1155.2L959.34 1153L958.32 1167.6L955.5 1169.6ZM955.7 1241.8L958.44 1240.1L958.21 1243.3L955.5 1244.6ZM961.54 1197.1L964.33 1195.2L963.53 1206.2L960.75 1208ZM967.51 1223.9L970.28 1222.1L969.45 1233.1L966.7 1234.9ZM986.55 1113.4L989.48 1110.6L988.15 1127.7L985.25 1130.3ZM990.85 1092.9L993.82 1089.9L992.44 1107.5L989.5 1110.3ZM997.45 1179.5L1000.3 1177.2L999.31 1189.3L996.47 1191.5ZM1003.17 1174.7L1006.04 1172.4L1005.03 1184.4L1002.18 1186.7ZM1039.69 872.8L1044.3 852.8L1038.91 915.1L1035.18 925.4ZM1020.97 1091.5L1023.99 1088.1L1022.34 1107.2L1019.36 1110.3ZM1016.97 1138.2L1019.91 1135.4L1018.78 1148.4L1015.87 1151.1ZM1025.37 1103.5L1028.38 1100.3L1027.1 1114.9L1024.12 1117.9ZM1024.12 1117.9L1027.1 1114.9L1025.86 1129L1022.91 1131.9ZM1024.71 1142.1L1027.65 1139.3L1026.45 1152.9L1023.53 1155.6ZM1047.25 1012.2L1050.52 1006.8L1048.02 1034.2L1044.84 1038.8ZM1040.05 1150.9L1043 1148L1041.74 1161.6L1038.81 1164.3ZM1047.73 1154.9L1050.69 1152L1049.35 1166L1046.42 1168.8ZM1074.16 904.6L1078.48 889.4L1072 957.1L1068.44 964.9ZM1050.69 1152L1053.65 1149.1L1052.35 1162.6L1049.41 1165.4ZM1055.68 1183.5L1058.6 1180.8L1058.37 1183.2L1055.52 1185.2ZM1075.91 1003.8L1079.3 997.8L1076.24 1028.8L1072.97 1033.9ZM1078.89 1057.8L1082.1 1053.2L1080.17 1072.4L1077.01 1076.6ZM1087.79 1024.3L1091.13 1018.7L1088.81 1041.5L1085.54 1046.5ZM1076.57 1161.4L1079.56 1158.3L1078.59 1167.8L1075.7 1169.9ZM1082.78 1127.1L1085.84 1123.6L1084.23 1139.2L1081.19 1142.5ZM1132.31 896.2L1137.38 876.2L1132.69 918.9L1128.48 931.3ZM1137.71 873.2L1142.81 853.2L1136.3 912L1131.97 925.4ZM1121.8 1116.5L1124.97 1112.5L1123.18 1128.2L1120.19 1130.8ZM1143.02 1026.7L1146.53 1020.4L1143.46 1046.8L1140.06 1052.3ZM1137.38 1075.5L1140.69 1070.6L1138.22 1091.8L1134.97 1096.3ZM1187.85 933.9L1192.41 920.1L1188.71 949.7L1184.55 960.4ZM1190.59 957.3L1194.81 946.2L1191.72 970.7L1187.75 979.9ZM1242.91 863.1L1248.53 843.1L1247.78 848.6L1242.16 868.6ZM1251.45 864.1L1257.11 844.1L1256.21 850.6L1250.55 870.6ZM1259.57 868L1265.27 848L1264.57 853L1258.87 873ZM1281 859.6L1286.81 839.6L1284.33 856.6L1279.99 866.6Z"/>
<path fill="#001ba0" d="M480.03 1017.2L482.43 1019.7L483.6 1041L481.22 1038.8ZM524.34 992.8L526.74 995.1L528 1024.4L525.64 1022.5ZM552.98 1076L555.35 1077.3L555.93 1093.3L553.58 1092.1ZM552.13 989.4L554.58 991.5L555.6 1019.8L553.18 1018.1ZM579.11 1073.4L581.64 1074.6L582.1 1090.1L579.58 1089ZM582.43 923.1L585.19 926.1L586.11 959.2L583.38 957ZM587.21 1092.1L589.81 1093.1L590.24 1108.6L587.65 1107.6ZM588.32 1039.3L591 1040.6L591.63 1064L588.97 1062.8ZM594.83 865.8L597.92 872.4L598.71 904.9L595.71 901.3ZM596.6 937.4L599.55 939.8L600.27 969.6L597.35 967.7ZM620.24 874.2L623.82 879.1L624.12 896L620.58 892.3ZM622.71 1007L626.11 1008.3L626.52 1031.7L623.15 1030.6ZM623.66 870L627.33 875.2L627.73 899.3L624.12 895.9ZM634.95 886.8L638.86 890.4L639.11 908L635.22 905.2ZM635.67 935.1L639.52 937.1L639.89 963.9L636.08 962.3ZM640.58 1013.1L644.45 1014.2L644.75 1037.1L640.91 1036.2ZM656.2 969.4L660.54 970.5L660.75 994.4L656.43 993.5ZM656.43 993.5L660.75 994.4L660.95 1017.8L656.67 1017ZM674 948.5L678.74 949.2L678.84 973.7L674.14 973.1ZM698.12 997.9L702.96 997.7L702.91 1020.7L698.11 1020.9ZM698.11 1020.9L702.91 1020.7L702.87 1042.7L698.09 1042.9ZM702.87 1043.1L707.63 1042.9L707.56 1063.9L702.83 1064.1ZM707.78 997.8L712.55 997.4L712.45 1019.9L707.7 1020.3ZM717.28 996.5L721.93 995.8L721.77 1018.8L717.14 1019.4ZM716.77 1084.3L721.32 1083.9L721.22 1097.9L716.69 1098.3ZM736.54 877.6L740.96 873.8L740.5 914.2L736.14 916.3ZM748.17 964.7L752.14 963.2L751.78 988.3L747.83 989.6ZM769.05 1029.9L772.37 1028.7L771.91 1051.7L768.61 1052.8ZM767.92 1089.2L771.18 1088.3L770.88 1103.3L767.63 1104.2ZM774.51 921.8L777.87 919L777.23 949.9L773.91 952ZM773.91 952L777.23 949.9L776.65 977.6L773.36 979.3ZM776.12 1003.4L779.31 1001.9L778.79 1026L775.62 1027.3ZM777.47 1086.8L780.52 1085.8L780.19 1100.3L777.16 1101.2ZM783.67 945.4L786.79 943L786.11 972.3L783.02 974.1ZM780.86 1070.7L783.85 1069.7L783.5 1084.7L780.52 1085.7ZM805.59 886.1L808.5 880.8L807.29 923.4L804.48 926.4ZM825.63 1066.2L828.06 1064.9L827.5 1080.9L825.09 1082.1ZM835.27 1060.9L837.65 1059.5L837.04 1076L834.67 1077.3ZM846.51 1010.3L848.92 1008.3L847.84 1035.5L845.47 1037.1ZM856.52 935.5L859.02 932L857.43 970.5L854.99 973.1ZM866.19 873.8L868.97 864.5L866.62 919.1L864.09 923.2ZM875.72 872.8L878.55 862.8L876.97 897.5L874.37 903.1ZM878.73 1009.1L881.12 1006.8L880.13 1027.5L877.77 1029.5ZM892.04 1015.7L894.43 1013.4L893.37 1034L891.01 1036.1ZM898.11 1029.6L900.49 1027.3L899.42 1047.4L897.07 1049.5ZM912.95 923.4L915.56 918.1L912.83 967.6L910.35 971ZM912.85 967.1L915.34 963.6L913.84 990.4L911.4 993.3ZM926.3 972.1L928.81 968.5L927.18 995.8L924.73 998.8ZM931.38 963.7L933.91 959.8L932.16 988.6L929.69 991.9ZM948.67 871.2L952.01 855.5L950.85 873.9L947.81 884.8ZM961.73 886.4L964.83 875.1L960.71 936.6L958.04 941.9ZM975.81 885.6L979 873.5L978.73 877.4L975.59 888.8ZM174.85 1008.4L178.66 1016.1L178.71 1016.5L175.33 1012.1ZM157.07 853.8L162.61 873.8L170.12 930.5L165.23 915.2ZM177.56 922.2L182.23 936.2L186.26 967.4L182.08 956.9ZM215.01 1040L218.52 1046.1L221.69 1071.7L218.29 1066.4ZM222.88 1036.6L226.39 1042.7L229.5 1068.3L226.11 1063ZM226.64 1044.8L230.1 1050.5L233.08 1075.2L229.72 1070.1ZM234.86 973.5L238.65 982L242.69 1016.6L239.12 1009.9ZM254.74 1096.7L257.96 1101L260.13 1119.9L256.96 1115.8ZM247.18 1007.3L250.73 1014L253.88 1041.5L250.45 1035.7ZM247.27 983.7L250.94 991.3L254.5 1022.7L251 1016.3ZM239.09 861.5L244.22 881.5L248.93 923.5L244.51 909.5ZM271.15 1121.5L274.28 1125.4L275.33 1134.7L272.34 1132.2ZM267.63 964.5L271.34 972.8L274.87 1005.5L271.36 998.8ZM271.36 998.8L274.87 1005.5L277.73 1032L274.34 1026.3ZM262.26 861.8L267.28 881.8L271.93 925.5L267.7 912.6ZM295.01 1064.9L298.23 1069.4L300.17 1088.2L297.01 1084.1ZM291.26 1002.2L294.69 1008.4L297.22 1033L293.89 1027.6ZM296.2 1049.9L299.45 1054.7L301.49 1074.5L298.3 1070.1ZM305.39 1138.6L308.43 1142L310.01 1157.4L307.01 1154.2ZM295.2 958.4L298.84 966.6L302.77 1005.6L299.36 999.4ZM299.14 969.6L302.71 977.1L306.33 1013.3L302.95 1007.4ZM319.11 1167.9L322.08 1170.8L322.54 1175.4L319.66 1173.3ZM316.12 1111.2L319.19 1114.8L320.72 1130.2L317.68 1126.8ZM328.06 1177.3L331 1180.1L331.16 1181.7L328.3 1179.7ZM328.35 1152.9L331.32 1155.9L332.67 1169.8L329.72 1167ZM331.05 1180.6L333.98 1183.3L334.04 1183.9L331.18 1181.9ZM323.39 1045.9L326.59 1050.4L328.39 1069.2L325.24 1065.1ZM338.59 1175.9L341.51 1178.6L342.62 1190.2L339.78 1188.3ZM318.58 876.5L323.12 894.3L328.4 951.2L324.77 942.6ZM354.47 1054L357.58 1058L359.45 1079.3L356.39 1075.6ZM360.76 1062.9L363.83 1066.7L365.59 1087L362.56 1083.5ZM362.56 1083.5L365.59 1087L367.26 1106.4L364.27 1103.2ZM358.24 969.3L361.59 975.7L364.14 1005.6L360.9 1000.4ZM370.33 1110.5L373.31 1113.5L374.49 1127.5L371.54 1124.6ZM377.05 1188.9L379.9 1191.2L380.92 1203.1L378.08 1200.9ZM374.49 1127.5L377.43 1130.4L378.57 1143.8L375.65 1141.1ZM354.36 856.4L358.92 876.4L361.54 907.7L357.62 895.2ZM373.13 1079.2L376.15 1082.7L377.77 1102L374.78 1098.9ZM374.78 1098.9L377.77 1102L379.26 1119.9L376.31 1117ZM383.79 1205.9L386.62 1208L387.56 1219.2L384.79 1217.7ZM385.2 1126.3L388.13 1129.1L389.18 1142L386.27 1139.4ZM366.85 867.6L371.2 885.7L376.81 955.2L373.4 948.1ZM393.13 1157.6L396 1160L396.99 1172.4L394.14 1170.1ZM396.04 1193.7L398.87 1195.8L399.78 1207.3L396.97 1205.2ZM394.34 1070.6L397.34 1073.9L398.77 1092.3L395.8 1089.2ZM403.65 1189.2L406.47 1191.3L407.37 1202.8L404.56 1200.7ZM407.37 1202.8L410.17 1204.8L411.01 1215.7L408.22 1213.8ZM408.22 1213.8L411.01 1215.7L411.9 1227.2L409.12 1225.3ZM404.39 1129.8L407.28 1132.3L408.54 1148.7L405.66 1146.3ZM405.05 1030.5L408.11 1034.3L409.58 1054.2L406.56 1050.7ZM406.53 1013.1L409.62 1017.3L411.15 1038L408.1 1034.3ZM424.5 1183.4L427.3 1185.4L428.13 1196.9L425.34 1195ZM426.94 1217.1L429.71 1218.8L430.46 1229.3L427.71 1227.6ZM418.93 1030.8L421.96 1034.5L423.32 1053.8L420.33 1050.5ZM431.35 1167.5L434.17 1169.5L434.97 1181L432.17 1179ZM437.24 1213.4L440 1215.1L440.76 1226.1L438.01 1224.4ZM435.25 1067.2L438.19 1070.1L439.33 1087L436.41 1084.3ZM448.21 1179.8L451 1181.7L451.72 1192.6L448.94 1190.9ZM444.08 1076.3L447 1079L448.06 1095.4L445.17 1092.9ZM447.01 1079.3L449.92 1081.9L450.94 1097.8L448.06 1095.4ZM454.73 1071.4L457.63 1074L458.62 1089.9L455.74 1087.5ZM466.18 1211.8L468.92 1213.3L469.53 1223.3L466.8 1221.8ZM469.9 1141.5L472.7 1143.4L473.53 1157.3L470.74 1155.5ZM477.09 1172.4L479.85 1174.1L480.63 1187.5L477.88 1186ZM479.86 1174.1L482.62 1175.7L483.39 1189.2L480.64 1187.7ZM477.84 1091.9L480.69 1094.1L481.53 1109L478.69 1107ZM478.69 1107L481.53 1109L482.31 1123L479.5 1121ZM483.39 1189.2L486.13 1190.8L486.86 1203.7L484.13 1202.3ZM495.58 1218.1L498.29 1219.5L498.8 1229L496.1 1227.7ZM497.67 1256.7L500.35 1257.9L500.85 1267.4L498.19 1266.2ZM490.07 1065.6L492.94 1068L493.94 1086.9L491.09 1084.7ZM491.09 1084.7L493.94 1086.9L494.91 1105.3L492.09 1103.3ZM497.72 1107.1L500.54 1109L501.25 1122.9L498.45 1121.2ZM514.92 1181.6L517.65 1182.9L518.24 1195.4L515.52 1194.1ZM513.74 1101L516.55 1102.8L517.34 1119.7L514.55 1118.1ZM515.8 1144.2L518.56 1145.7L519.17 1158.6L516.42 1157.2ZM539.03 1246.3L541.69 1247.3L542.07 1256.3L539.41 1255.4ZM538.89 1180.6L541.62 1181.7L542.11 1193.7L539.4 1192.6ZM545.99 1088L548.8 1089.6L549.42 1105.5L546.62 1104.1ZM555.38 1260.9L558.04 1261.8L558.38 1270.8L555.72 1269.9ZM563.85 1202L566.57 1202.9L566.99 1214.9L564.27 1214ZM569.72 1215.9L572.45 1216.7L572.83 1228.2L570.11 1227.4ZM579.6 1184.1L582.39 1185L582.74 1196.5L579.96 1195.6ZM587.7 1175.1L590.55 1176L590.87 1187.5L588.03 1186.7ZM596.61 1189.4L599.52 1190.1L599.81 1201.6L596.92 1200.9ZM603.01 1213.4L605.94 1214L606.22 1225.5L603.29 1224.9ZM604.84 1168.5L607.85 1169.3L608.12 1180.8L605.12 1180.1ZM606.22 1225.6L609.18 1226.3L609.44 1237.2L606.49 1236.6ZM610.12 1266.4L613.07 1266.9L613.27 1275.4L610.32 1274.9ZM617.32 1183L620.47 1183.6L620.7 1195.1L617.56 1194.5ZM638.7 1296.3L642.08 1296.6L642.13 1300.1L638.76 1299.8ZM647.34 1165.8L651.04 1166.3L651.18 1177.8L647.49 1177.3ZM652.49 1289.1L656.14 1289.4L656.24 1298.4L652.6 1298.1ZM655.65 1244.2L659.42 1244.5L659.53 1256L655.78 1255.7ZM655.87 1264.2L659.61 1264.5L659.7 1273L655.96 1272.7ZM678.97 1190.8L683.15 1190.9L683.19 1201.9L679.02 1201.8ZM679.26 1256.8L683.36 1256.9L683.39 1265.4L679.3 1265.3ZM695.85 1246.4L700.05 1246.4L700.04 1257.4L695.85 1257.4ZM695.85 1257.4L700.04 1257.4L700.02 1265.9L695.85 1265.9ZM704.43 1168.9L708.69 1168.8L708.65 1179.8L704.41 1179.9ZM712.87 1179.8L717.04 1179.6L716.97 1190.6L712.81 1190.8ZM717.35 1126.5L721.54 1126.2L721.44 1140.2L717.27 1140.5ZM716.58 1257L720.62 1256.8L720.56 1265.3L716.53 1265.5ZM729.24 1178.8L733.18 1178.4L733.06 1189.4L729.14 1189.8ZM732.21 1272.7L735.98 1272.4L735.88 1280.9L732.12 1281.2ZM736.3 1244.2L740.03 1243.8L739.89 1254.8L736.18 1255.2ZM739.37 1297.6L742.97 1297.2L742.92 1300.8L739.32 1301ZM743.08 1288.8L746.63 1288.5L746.51 1297L742.97 1297.3ZM748.23 1176.1L751.82 1175.5L751.64 1187L748.07 1187.6ZM752.64 1121.5L756.21 1120.8L755.98 1135.3L752.42 1136ZM750.1 1287.9L753.51 1287.5L753.38 1296L749.97 1296.4ZM755.75 1149.6L759.22 1148.9L758.98 1163.4L755.51 1164ZM755.15 1186.5L758.59 1185.9L758.4 1196.9L754.97 1197.5ZM753.93 1262L757.3 1261.5L757.15 1270L753.79 1270.4ZM753.79 1270.4L757.15 1270L757.01 1278.5L753.65 1278.9ZM756.86 1286.9L760.15 1286.5L759.98 1295.5L756.71 1295.9ZM760.6 1261.1L763.85 1260.6L763.69 1269.1L760.45 1269.6ZM764.87 1206.9L768.11 1206.3L767.9 1217.3L764.66 1217.9ZM763.21 1294.8L766.37 1294.4L766.29 1298.4L763.13 1298.8ZM772.24 1160.5L775.42 1159.8L775.18 1171.3L772 1172ZM777.3 1215.6L780.35 1215L780.08 1226.5L777.04 1227.1ZM776.35 1258.1L779.36 1257.5L779.16 1266.5L776.15 1267.1ZM783.91 1191.4L786.91 1190.7L786.62 1202.2L783.63 1202.9ZM782.54 1248.3L785.49 1247.7L785.28 1256.2L782.34 1256.8ZM788.12 1141.7L791.13 1140.8L790.74 1155.8L787.75 1156.7ZM784.84 1274.1L787.73 1273.5L787.52 1282L784.63 1282.5ZM793.68 1263.3L796.51 1262.7L796.27 1271.2L793.45 1271.8ZM800.81 1108.3L803.75 1107.2L803.32 1122.2L800.4 1123.3ZM802.13 1163.7L804.99 1162.8L804.65 1174.3L801.8 1175.2ZM802.09 1261.5L804.85 1260.9L804.6 1269.4L801.84 1270ZM809.11 1119.9L811.98 1118.8L811.51 1133.8L808.66 1134.9ZM808.66 1134.9L811.51 1133.8L811.03 1149.4L808.19 1150.3ZM807.84 1161.8L810.68 1160.9L810.32 1172.4L807.49 1173.3ZM806.79 1196.8L809.59 1195.9L809.23 1207.4L806.44 1208.3ZM805.4 1242.7L808.17 1242L807.89 1251L805.13 1251.7ZM811.28 1229.9L814.03 1229.1L813.66 1240.6L810.91 1241.4ZM810.08 1267.8L812.8 1267.1L812.5 1276.1L809.79 1276.8ZM813.36 1249.7L816.08 1248.9L815.78 1258L813.07 1258.7ZM815.51 1266.4L818.21 1265.6L817.9 1274.6L815.21 1275.4ZM818.8 1248.3L821.5 1247.5L821.21 1256L818.51 1256.7ZM825.63 1128.2L828.43 1126.9L827.89 1142.5L825.1 1143.6ZM826.91 1245.4L829.6 1244.5L829.27 1253.6L826.59 1254.4ZM845.18 1118.9L847.97 1117.4L847.32 1133.5L844.55 1134.8ZM839.61 1259.1L842.27 1258.2L841.89 1267.7L839.24 1268.6ZM839.24 1268.6L841.89 1267.7L841.53 1276.7L838.88 1277.6ZM841.53 1276.6L844.18 1275.7L843.82 1284.4L841.19 1285ZM849.57 1144.6L852.33 1143.3L851.81 1155.8L849.06 1157.1ZM846.06 1230L848.75 1229L848.37 1238L845.69 1238.9ZM849.26 1216.8L851.95 1215.8L851.44 1227.8L848.75 1228.8ZM848.75 1228.8L851.44 1227.8L851.03 1237.3L848.36 1238.3ZM855.69 1190.5L858.41 1189.3L857.88 1201.3L855.17 1202.5ZM855.17 1202.5L857.88 1201.3L857.33 1213.9L854.63 1215ZM858.97 1176.7L861.7 1175.4L861.14 1188L858.42 1189.2ZM869.07 1072L871.91 1070L871.1 1087.6L868.28 1089.4ZM870.3 1105L873.1 1103.3L872.32 1119.8L869.54 1121.4ZM866.01 1197.7L868.72 1196.5L868.14 1209L865.44 1210.2ZM868.72 1196.6L871.44 1195.3L870.84 1207.9L868.14 1209.1ZM870.26 1220.1L872.95 1218.9L872.49 1228.5L869.81 1229.6ZM877.26 1129.8L880.05 1128.1L879.38 1141.7L876.61 1143.2ZM874.15 1194.1L876.87 1192.8L876.26 1205.3L873.55 1206.6ZM880.24 1178.5L882.98 1177.1L882.32 1190.1L879.6 1191.5ZM875.99 1263.9L878.65 1262.8L878.17 1272.3L875.52 1273.4ZM885.62 1124.8L888.42 1123L887.72 1136.6L884.94 1138.2ZM879.6 1244L882.28 1242.8L881.79 1252.3L879.12 1253.5ZM894.69 1157.7L897.46 1156L896.72 1169.6L893.97 1171.1ZM889.84 1248.5L892.52 1247.2L892.01 1256.8L889.34 1257.9ZM895.33 1195.4L898.06 1194L897.35 1207L894.63 1208.4ZM893.03 1237.8L895.73 1236.5L895.2 1246.1L892.52 1247.3ZM905.3 1111.3L908.13 1109.2L907.34 1123.3L904.53 1125.2ZM900.08 1205.5L902.8 1204L902.24 1214.1L899.52 1215.4ZM908.13 1109.3L910.96 1107.2L910.16 1121.3L907.34 1123.2ZM906.56 1137.2L909.36 1135.4L908.56 1149.4L905.78 1151.1ZM909.84 1219.5L912.57 1218L911.97 1228L909.26 1229.4ZM913.17 1207.7L915.91 1206.2L915.28 1216.7L912.55 1218.2ZM928.75 1037.7L931.71 1034.6L930.35 1056.8L927.43 1059.6ZM929.11 1077L932.01 1074.4L931.01 1090.5L928.14 1092.9ZM922.04 1192.6L924.79 1190.9L924.14 1201.4L921.39 1203ZM920.75 1213.5L923.49 1212L922.87 1222L920.14 1223.5ZM919.53 1233.5L922.25 1232L921.63 1242L918.92 1243.4ZM932 1074.5L934.91 1071.9L933.9 1088L931.02 1090.5ZM929.27 1161.9L932.07 1160L931.18 1174L928.4 1175.8ZM937.84 1069L940.76 1066.2L939.73 1082.3L936.83 1084.9ZM942.19 1043.9L945.15 1040.7L943.72 1062.9L940.79 1065.7ZM934.51 1204.9L937.27 1203.2L936.58 1213.7L933.83 1215.4ZM933.16 1225.8L935.89 1224.3L935.23 1234.3L932.51 1235.8ZM951.61 984.4L954.72 979.7L952.84 1008.1L949.8 1012ZM946.68 1059.5L949.63 1056.6L948.5 1073.7L945.58 1076.4ZM935.23 1234.3L937.96 1232.8L937.26 1243.3L934.54 1244.8ZM949.63 1056.5L952.59 1053.5L951.41 1071.1L948.48 1073.9ZM937.26 1243.3L939.98 1241.7L939.3 1251.9L936.61 1253.1ZM944.84 1208.7L947.61 1206.9L946.89 1217.4L944.14 1219.1ZM952.44 1213.5L955.2 1211.7L954.43 1222.7L951.67 1224.5ZM962.2 1150.6L965.05 1148.3L963.97 1163.4L961.14 1165.5ZM973.81 1026.6L976.87 1022.7L975.37 1043.4L972.35 1046.9ZM981.56 958.1L984.85 951.9L982.19 988.1L979.03 992.9ZM974.37 1094.5L977.31 1091.7L976.04 1108.8L973.13 1111.5ZM995.96 878.9L1000.34 859L995.41 924.4L991.94 932.6ZM995.93 991.6L999.13 986.4L997.16 1011.8L994.03 1016.2ZM994.03 1016.2L997.16 1011.8L995.39 1034.5L992.32 1038.4ZM983.2 1191.4L986.02 1189.3L985.11 1200.9L982.3 1202.9ZM1005.98 934.8L1009.49 926.4L1005.78 973.2L1002.52 979ZM990.76 1163L993.62 1160.6L992.66 1172.7L989.81 1175ZM989.81 1175L992.66 1172.7L991.7 1184.7L988.87 1186.9ZM988.87 1186.9L991.7 1184.7L990.78 1196.3L987.96 1198.4ZM986.15 1221.3L988.94 1219.3L988.24 1228.1L985.49 1229.5ZM1001.39 1097.5L1004.37 1094.4L1002.9 1112.5L999.95 1115.4ZM993.61 1194L996.44 1191.8L995.51 1203.4L992.69 1205.5ZM1009.36 1033L1012.47 1028.7L1010.65 1051L1007.59 1054.8ZM1008.89 1105.6L1011.87 1102.5L1010.35 1120.6L1007.41 1123.5ZM1004.2 1162.3L1007.08 1159.8L1006.04 1172.4L1003.17 1174.7ZM1027.91 910.2L1031.78 898.1L1027.33 951.1L1023.9 958.3ZM1013.46 1083.4L1016.48 1080L1014.87 1099.1L1011.89 1102.3ZM1005.9 1205.8L1008.73 1203.6L1007.7 1215.6L1004.89 1217.7ZM1016.35 1113.7L1019.33 1110.7L1018.12 1124.8L1015.17 1127.6ZM1014.76 1164L1017.65 1161.5L1016.57 1174L1013.69 1176.5ZM1027.7 1045.1L1030.83 1040.8L1028.86 1063.5L1025.78 1067.3ZM1027.15 1114.3L1030.14 1111.1L1028.85 1125.7L1025.89 1128.7ZM1027.64 1139.4L1030.59 1136.5L1029.38 1150.1L1026.45 1152.8ZM1034.14 1156.9L1037.07 1154.1L1035.83 1167.7L1032.92 1170.3ZM1032.92 1170.3L1035.83 1167.7L1034.64 1180.7L1031.75 1183.3ZM1048.12 1033.2L1051.33 1028.4L1049.04 1053.2L1045.9 1057.4ZM1076.37 941.2L1080.15 931.4L1075.54 978.9L1072.08 985.6ZM1062.75 1138.4L1065.76 1135.2L1064.32 1149.8L1061.34 1152.8ZM1090.7 967.8L1094.33 959.7L1090.18 1000.7L1086.77 1006.8ZM1092.34 1034L1095.67 1028.6L1093.41 1050.4L1090.16 1055.2ZM1081.19 1142.5L1084.23 1139.2L1082.61 1154.7L1079.61 1157.9ZM1091.39 1069.9L1094.6 1065.4L1092.6 1084.6L1089.44 1088.8ZM1096.89 1043.5L1100.19 1038.4L1097.96 1059.6L1094.73 1064.3ZM1096.74 1122.8L1099.84 1119.1L1098.07 1135.7L1095 1139.2ZM1114.19 985.1L1117.81 977.5L1114.45 1008.7L1111 1014.9ZM1123.54 924.4L1127.83 911.1L1121.91 965.6L1118.21 973.9ZM1119.05 1017.7L1122.51 1011.4L1119.61 1037.8L1116.25 1043.2ZM1131.97 925.4L1136.3 912L1130.1 968L1126.37 976.3ZM1108.98 1134.5L1112.08 1130.9L1111.13 1139.4L1108.17 1141.9ZM1140.74 948.6L1144.78 937.9L1142.69 956.4L1138.82 965.6ZM1135.04 1023.7L1138.53 1017.5L1135.52 1043.9L1132.13 1049.3ZM1128.32 1106.9L1131.52 1102.7L1129.3 1121.9L1126.29 1124.6ZM1150.72 1008.4L1154.34 1001.3L1150.74 1031.8L1147.27 1037.8ZM1165.39 931.7L1169.84 918.2L1162.73 977.8L1158.94 986.1ZM1163.15 1043.7L1166.65 1037.7L1163.43 1064.1L1160.04 1069.4ZM1217.11 970.2L1221.34 959.6L1214.6 1010.1L1210.8 1017.7ZM1234.05 907.3L1239.63 887.3L1229.47 962.1L1225.22 972.7ZM1231.56 946.7L1236.2 933.4L1228.33 991.1L1224.86 996ZM1239.71 949.2L1244.37 936L1239.68 969.8L1236.11 975.3Z"/>
<path fill="#0033ba" d="M499.12 1036.6L501.48 1038.7L502.45 1058.1L500.11 1056.2ZM511.37 1009.3L513.75 1011.5L514.68 1031.4L512.32 1029.4ZM529.57 1060.8L531.9 1062.4L532.64 1079.8L530.33 1078.4ZM536.57 1065.6L538.9 1067L539.59 1084L537.27 1082.6ZM538.9 1067.2L541.24 1068.6L541.92 1085.6L539.6 1084.2ZM535.84 874.5L538.52 881.6L539.23 899.6L536.63 894.4ZM540.57 872.4L543.27 879.6L544.4 909.7L541.84 905.3ZM544.81 982.9L547.25 985.1L548.34 1013.9L545.93 1012.1ZM548.28 1073.3L550.63 1074.7L551.23 1090.6L548.9 1089.4ZM549.55 918.6L552.1 922.3L553.46 960.2L550.97 957.7ZM554.12 1043.7L556.51 1045.2L557.12 1062.1L554.74 1060.8ZM554.74 1060.8L557.12 1062.1L557.71 1078.6L555.34 1077.3ZM555.34 1077.3L557.71 1078.6L558.29 1094.5L555.93 1093.3ZM553.46 960.1L555.95 962.6L557.05 993.9L554.6 991.9ZM564.94 939.2L567.52 942L568.57 974.6L566.03 972.5ZM568.14 882L570.88 887.4L571.55 909.1L568.87 905.2ZM579.58 1089L582.1 1090.1L582.55 1105.5L580.05 1104.5ZM589.8 892.9L592.74 897.1L593.7 934.9L590.83 932.2ZM608.44 1070.5L611.41 1071.5L611.74 1086.5L608.78 1085.5ZM609.88 1001.5L612.99 1002.9L613.5 1027.3L610.42 1026.1ZM610.92 1049.2L613.98 1050.3L614.46 1072.7L611.42 1071.7ZM646.72 874.3L650.98 878.1L651.38 915.2L647.19 913.1ZM665.34 1018.7L669.82 1019.3L669.96 1041.3L665.5 1040.7ZM683.32 875L688.26 875.9L688.26 879.9L683.33 879.1ZM683.33 879.1L688.26 879.9L688.34 925.2L683.46 924.8ZM712.03 1112.7L716.61 1112.4L716.53 1126.4L711.97 1126.7ZM717.41 973L722.09 972.2L721.93 995.8L717.28 996.5ZM717.02 1041.9L721.61 1041.4L721.46 1062.9L716.89 1063.3ZM722.44 921.4L727.1 920L726.89 946.2L722.26 947.3ZM721.77 1019.1L726.31 1018.4L726.12 1040.9L721.61 1041.5ZM721.22 1098L725.67 1097.5L725.55 1111.5L721.12 1111.9ZM725.78 1083.5L730.15 1082.9L730.02 1096.9L725.67 1097.4ZM751.78 988.3L755.62 986.9L755.23 1011.5L751.42 1012.7ZM781.17 915.8L784.4 912.7L783.67 945.2L780.49 947.4ZM780.49 947.4L783.67 945.2L783.03 973.9L779.88 975.7ZM784.94 888.5L788.16 883.9L787.58 909.1L784.41 912.4ZM786.43 1083.3L789.3 1082.3L788.93 1097.3L786.07 1098.3ZM795.28 1065.2L798.02 1064.1L797.62 1079.1L794.89 1080.2ZM797.2 1094.7L799.87 1093.7L799.46 1108.7L796.8 1109.7ZM802.78 988.3L805.51 986.5L804.76 1013.2L802.05 1014.7ZM799.88 1093.4L802.52 1092.4L802.1 1107.4L799.47 1108.4ZM802.95 1077L805.57 1075.9L805.12 1091.5L802.52 1092.5ZM838.09 917L840.66 913.1L840.46 918.7L837.9 922.4ZM837.9 922.4L840.46 918.7L839.03 957.8L836.53 960.3ZM868.62 872.6L871.42 862.9L869.16 914.6L866.62 919ZM876.33 1011.8L878.71 1009.5L877.76 1029.6L875.4 1031.6ZM887.62 967L890.08 963.8L888.32 999.2L885.92 1001.7ZM895.03 910.8L897.65 905.2L895.06 956.3L892.58 959.7ZM897.7 904.2L900.35 897.9L897.54 952.8L895.05 956.3ZM893.17 993.4L895.59 990.7L894.43 1013.4L892.04 1015.7ZM901.73 871L904.72 858.7L903.11 889.8L900.4 896.9ZM895.74 1031.7L898.12 1029.5L897.06 1049.6L894.71 1051.6ZM902.94 981.1L905.39 978L904.09 1002.2L901.68 1004.9ZM901.68 1004.9L904.09 1002.2L902.9 1024.4L900.52 1026.7ZM907.73 934.3L910.3 929.7L907.84 974.9L905.39 978.1ZM915.36 963.2L917.87 959.5L916.32 986.8L913.87 989.9ZM913.87 989.9L916.32 986.8L914.92 1011.5L912.51 1014.2ZM917.9 958.8L920.42 954.9L918.8 983.3L916.34 986.4ZM914.94 1011.2L917.36 1008.5L916.07 1031.2L913.68 1033.5ZM923.8 975.7L926.3 972.2L924.72 999L922.28 1002ZM938.96 914.8L941.69 908.2L939.12 949.8L936.55 954.2ZM941.78 944.1L944.39 939.2L942.24 973.2L939.72 977ZM944.85 968.2L947.4 964.1L945.49 994L943 997.3ZM947.43 963.7L950 959.4L948 990.3L945.5 993.7ZM152.78 928.5L157.51 942.3L163.23 984.5L159.72 979.3ZM178.3 992.4L182.2 1000.8L185.68 1027.2L182.34 1023ZM176.07 954.1L180.31 965L186.64 1013.4L182.85 1005.7ZM181.48 973.9L185.5 983.3L190.89 1024.7L187.18 1017.5ZM176.26 912.2L181.12 927.7L182.23 936.2L177.56 922.2ZM190.82 1002.6L194.6 1010.4L198.89 1043.7L195.3 1037.3ZM180.42 855.1L185.85 875.1L193.63 936.6L189.05 922.9ZM203.1 1011.5L206.79 1018.6L210.62 1049.1L207.09 1043ZM194.22 918.7L198.83 932.8L203.66 971.4L199.61 961.6ZM199.61 961.6L203.66 971.4L206.29 992.4L202.43 984ZM208.85 944.9L213.01 955.8L218.62 1001.7L214.88 994ZM210.89 915.1L215.45 929.2L222.47 987.4L218.64 978.9ZM227.03 1025.1L230.57 1031.5L233.76 1058.1L230.34 1052.5ZM226.76 976.4L230.57 984.8L234.68 1019.4L231.1 1012.7ZM237.52 1066.5L240.87 1071.6L243.46 1093.4L240.17 1088.8ZM238.21 1049.2L241.62 1054.7L244.41 1078.4L241.09 1073.5ZM235.13 999.7L238.77 1006.9L242.28 1036.8L238.8 1030.8ZM252.34 1076L255.63 1080.7L257.96 1101L254.74 1096.7ZM254.71 1024.5L258.16 1030.5L260.94 1055.1L257.59 1049.8ZM264.65 1112L267.82 1116L269.26 1128.8L266.26 1126.2ZM249.66 904.5L254.14 919.1L258.86 961.7L254.99 952.3ZM258.56 933.4L262.59 944.2L267.17 986.1L263.52 978.5ZM271.51 948.2L275.33 957.5L279.21 993.9L275.65 986.8ZM285.92 1030.8L289.25 1036.3L291.54 1058L288.27 1053.1ZM278.67 908.2L282.89 921.4L287.75 968.3L284.07 960ZM292.8 1043.7L296.08 1048.7L298.23 1069.4L295.01 1064.9ZM299.58 1055.9L302.81 1060.6L304.73 1079.4L301.56 1075.1ZM301.56 1075.1L304.73 1079.4L306.6 1097.7L303.48 1093.8ZM298.42 1017.6L301.77 1023.2L304.02 1045.4L300.75 1040.4ZM293.16 938.3L296.96 947.9L298.84 966.6L295.2 958.4ZM309.92 1021.4L313.23 1026.8L315.32 1048L312.08 1043.2ZM322.29 1146.1L325.29 1149.1L326.66 1163.1L323.69 1160.1ZM313.36 1028.1L316.63 1033.2L318.66 1054L315.45 1049.4ZM317.35 1068.6L320.5 1072.8L322.2 1090.1L319.09 1086.2ZM326.73 1163.7L329.68 1166.6L331 1180.1L328.06 1177.3ZM320.56 1073.4L323.7 1077.5L325.38 1094.8L322.29 1091ZM317.66 986.5L321.07 992.8L324.04 1023.8L320.75 1018.5ZM328.55 1099.4L331.61 1102.9L333.13 1118.8L330.1 1115.5ZM329.9 1056.3L333.06 1060.6L334.74 1078.4L331.63 1074.5ZM325.03 975.4L328.47 982.1L331.49 1014.5L328.2 1009ZM340.61 1053L343.75 1057.3L345.74 1079.1L342.66 1075.2ZM336.11 973.6L339.52 980.2L342.37 1011.6L339.09 1006.3ZM339.09 1006.3L342.37 1011.6L344.78 1038.2L341.59 1033.6ZM348.95 1084.2L352 1087.8L353.39 1103.2L350.36 1099.8ZM357.28 1146.4L360.22 1149.2L361.42 1162.6L358.5 1160ZM363.7 1188.2L366.57 1190.6L367.67 1203.1L364.82 1200.8ZM349.99 1003.3L353.24 1008.6L355.54 1034.8L352.37 1030.2ZM356.39 1075.6L359.45 1079.3L361.19 1099.2L358.17 1095.8ZM360.76 1125L363.72 1128L364.95 1141.9L362 1139.1ZM363.78 1128.6L366.74 1131.6L367.91 1145L364.97 1142.2ZM371.27 1183.6L374.14 1186L375.21 1198.4L372.36 1196.1ZM372.36 1196.1L375.21 1198.4L376.25 1210.4L373.41 1208.2ZM354.69 960.9L358.1 967.7L360.82 999.5L357.56 994.1ZM372.74 1041.8L375.84 1045.9L377.56 1066.7L374.51 1063ZM374.51 1063L377.56 1066.7L379.2 1086.5L376.19 1083.2ZM379 1050.8L382.07 1054.6L383.68 1074.4L380.66 1071ZM380.66 1071L383.68 1074.4L385.26 1093.8L382.27 1090.6ZM386.76 1112.2L389.7 1115.1L391.07 1132L388.15 1129.3ZM389.21 1142.4L392.11 1144.9L393.11 1157.4L390.23 1154.9ZM386.76 1078.6L389.76 1081.9L391.23 1100.3L388.26 1097.2ZM400.72 1219L403.51 1220.9L404.12 1228.7L401.38 1227.2ZM398.92 1058.8L401.93 1062.3L403.37 1081.1L400.39 1078ZM414.65 1228.8L417.42 1230.6L417.81 1235.9L415.09 1234.5ZM410.64 1105.1L413.56 1107.8L414.81 1124.7L411.92 1122.1ZM414.79 1124.4L417.68 1126.9L418.85 1142.9L415.98 1140.5ZM418.85 1179.1L421.67 1181.2L422.51 1192.7L419.71 1190.7ZM424.15 1215L426.92 1216.8L427.69 1227.3L424.93 1225.5ZM423.5 1132.8L426.37 1135.1L427.44 1150.1L424.59 1147.8ZM424.59 1147.8L427.44 1150.1L428.5 1165L425.67 1162.9ZM421.63 1068.6L424.58 1071.7L425.81 1089L422.88 1086.2ZM435.21 1222.1L437.97 1223.9L438.74 1234.8L435.99 1233.2ZM439.8 1173.8L442.6 1175.7L443.35 1186.7L440.56 1184.8ZM446.88 1199.7L449.64 1201.4L450.34 1211.9L447.58 1210.2ZM442.99 1059.7L445.93 1062.6L447 1079L444.08 1076.3ZM447.22 1124L450.06 1126.3L451 1140.7L448.17 1138.6ZM449.07 1110.9L451.93 1113.3L452.89 1128.2L450.05 1126ZM451.94 1113.3L454.79 1115.6L455.74 1130.5L452.9 1128.4ZM460.56 1247.7L463.27 1249.2L463.77 1257L461.09 1255.9ZM460.4 1161.8L463.19 1163.6L464.03 1177.1L461.25 1175.3ZM473.83 1116.7L476.66 1118.8L477.49 1133.2L474.68 1131.3ZM474.68 1131.3L477.49 1133.2L478.3 1147.2L475.5 1145.3ZM476.3 1158.9L479.08 1160.6L479.85 1174.1L477.09 1172.4ZM481.53 1109.1L484.36 1111.1L485.14 1125.1L482.32 1123.2ZM487.41 1166L490.18 1167.6L490.89 1180.6L488.14 1179.1ZM495.01 1158L497.77 1159.6L498.46 1172.6L495.7 1171ZM495.64 1119.1L498.44 1120.9L499.14 1134.4L496.35 1132.7ZM501.24 1122.7L504.03 1124.4L504.71 1137.9L501.93 1136.2ZM507.34 1189.8L510.07 1191.2L510.69 1203.7L507.97 1202.4ZM508.61 1214.9L511.31 1216.1L511.78 1225.6L509.09 1224.4ZM509.44 1178.6L512.18 1180L512.79 1192.5L510.07 1191.2ZM513.42 1205.3L516.13 1206.6L516.71 1218.5L514.01 1217.3ZM510.08 1081.8L512.91 1083.7L513.74 1101.1L510.93 1099.3ZM518.1 1247.2L520.77 1248.3L521.22 1257.8L518.56 1256.7ZM530.61 1234.1L533.28 1235.1L533.68 1244.1L531.01 1243.1ZM533.7 1244.5L536.37 1245.5L536.76 1254.5L534.1 1253.6ZM538.24 1227.8L540.92 1228.8L541.32 1238.3L538.64 1237.3ZM537.86 1156L540.61 1157.3L541.1 1169.3L538.37 1168ZM543.18 1086.5L546 1088.1L546.62 1104.1L543.82 1102.6ZM550.42 1268.4L553.08 1269.3L553.43 1278.2L550.78 1277.4ZM553.06 1268.9L555.72 1269.7L556.08 1279.2L553.43 1278.4ZM557.25 1094.1L560.07 1095.5L560.63 1111.4L557.83 1110.1ZM563.01 1178.4L565.76 1179.4L566.17 1191.4L563.44 1190.5ZM565.09 1237L567.79 1237.9L568.1 1246.9L565.41 1246ZM566.69 1282.1L569.35 1282.8L569.59 1289.7L566.94 1289.2ZM570.5 1238.9L573.21 1239.7L573.51 1248.7L570.81 1247.9ZM571.42 1265.9L574.11 1266.7L574.39 1275.2L571.71 1274.5ZM575.21 1132.8L578.04 1133.9L578.5 1148.9L575.69 1147.9ZM580.33 1207.6L583.11 1208.5L583.45 1219.9L580.69 1219.2ZM581.04 1230.7L583.8 1231.4L584.15 1242.9L581.4 1242.2ZM579.96 1104.7L582.84 1105.9L583.28 1120.8L580.42 1119.8ZM582.83 1105.5L585.72 1106.6L586.17 1122L583.29 1121ZM592.48 1244.8L595.29 1245.5L595.53 1254.5L592.73 1253.8ZM593.46 1279.8L596.24 1280.4L596.49 1289.4L593.71 1288.8ZM591.98 1124.2L594.91 1125.2L595.3 1139.6L592.37 1138.7ZM595.53 1254.3L598.35 1255L598.59 1264L595.77 1263.4ZM603.85 1247.4L606.76 1248L606.98 1257L604.08 1256.4ZM609.18 1226.3L612.17 1227L612.42 1238L609.44 1237.3ZM618.5 1239.5L621.6 1240.1L621.82 1251.1L618.73 1250.5ZM622 1259.6L625.13 1260.1L625.29 1268.6L622.17 1268.1ZM626.92 1184.9L630.22 1185.5L630.41 1196.5L627.12 1195.9ZM633.58 1186.3L636.99 1186.9L637.16 1197.9L633.76 1197.3ZM635.39 1295.9L638.7 1296.3L638.76 1299.8L635.45 1299.4ZM641.12 1231.6L644.62 1232.1L644.77 1243.1L641.28 1242.6ZM643.32 1137.1L646.98 1137.7L647.16 1151.7L643.51 1151.1ZM643.51 1151.1L647.16 1151.7L647.35 1166.2L643.71 1165.6ZM647.49 1177.3L651.18 1177.8L651.31 1188.7L647.63 1188.3ZM648.05 1221.3L651.7 1221.7L651.83 1233.2L648.2 1232.8ZM648.2 1232.8L651.83 1233.2L651.96 1244.2L648.34 1243.8ZM648.8 1280.3L652.39 1280.7L652.49 1289.2L648.91 1288.8ZM658.77 1178.2L662.68 1178.6L662.78 1190.1L658.89 1189.7ZM659.31 1233.7L663.16 1234.1L663.26 1245.1L659.42 1244.8ZM659.42 1244.8L663.26 1245.1L663.35 1256.1L659.53 1255.8ZM666.65 1179.3L670.69 1179.6L670.76 1190.5L666.74 1190.3ZM667.07 1234.3L671.05 1234.5L671.12 1245.5L667.15 1245.3ZM671.12 1245.4L675.14 1245.6L675.2 1256.6L671.19 1256.4ZM674.64 1154.8L678.82 1155L678.88 1169L674.72 1168.8ZM687.3 1155.4L691.58 1155.5L691.59 1169.5L687.32 1169.4ZM687.44 1224.4L691.64 1224.5L691.65 1235.5L687.46 1235.4ZM691.59 1169.4L695.87 1169.4L695.87 1180.4L691.6 1180.4ZM700 1282.5L704.15 1282.4L704.13 1290.9L699.99 1291ZM704.15 1282.9L708.27 1282.8L708.24 1291.3L704.12 1291.4ZM708.74 1155.2L712.98 1155L712.92 1169L708.69 1169.2ZM716.33 1299.5L720.32 1299.3L720.3 1302.3L716.31 1302.4ZM720.32 1299.1L724.26 1298.8L724.24 1301.9L720.3 1302ZM729.14 1189.8L733.06 1189.4L732.95 1200.4L729.04 1200.8ZM728.21 1290.3L732.03 1290L731.95 1298.5L728.13 1298.8ZM733.29 1167.3L737.17 1166.8L737.05 1177.9L733.18 1178.3ZM733.18 1178.3L737.05 1177.9L736.92 1188.9L733.07 1189.3ZM731.95 1298.2L735.69 1297.9L735.65 1301.5L731.91 1301.7ZM736.8 1199.7L740.58 1199.3L740.44 1210.8L736.67 1211.2ZM744.91 1151.4L748.59 1150.9L748.39 1164.9L744.73 1165.4ZM748.59 1151.1L752.2 1150.5L751.99 1164.5L748.39 1165.1ZM748.39 1165.1L751.99 1164.5L751.82 1175.5L748.23 1176.1ZM747.91 1198.6L751.48 1198L751.31 1209.1L747.75 1209.6ZM747.75 1209.6L751.31 1209.1L751.14 1220.1L747.6 1220.5ZM747.28 1243L750.8 1242.6L750.63 1253.6L747.12 1254ZM754.61 1220L758.02 1219.5L757.83 1230.5L754.43 1231ZM759.72 1120.1L763.16 1119.3L762.9 1133.8L759.47 1134.6ZM762.64 1148.2L765.99 1147.5L765.72 1162L762.38 1162.7ZM760.45 1269.6L763.69 1269.1L763.53 1277.6L760.3 1278.1ZM759.99 1295.1L763.21 1294.6L763.12 1299.2L759.91 1299.5ZM766.54 1118.5L769.87 1117.7L769.58 1132.2L766.27 1133ZM772 1172L775.18 1171.3L774.94 1182.3L771.78 1183ZM774.94 1182.5L778.06 1181.8L777.8 1193.3L774.69 1194ZM779.56 1248.9L782.55 1248.3L782.33 1257.3L779.36 1257.9ZM781.92 1274.3L784.85 1273.7L784.62 1282.7L781.71 1283.3ZM796.03 1176.9L798.92 1176.1L798.6 1187.6L795.71 1188.4ZM796.75 1254.1L799.55 1253.4L799.31 1261.9L796.51 1262.6ZM801.8 1175.2L804.65 1174.3L804.3 1186.3L801.45 1187.2ZM799.06 1270.6L801.84 1269.9L801.57 1278.9L798.81 1279.6ZM798.55 1288.5L801.31 1287.9L801.15 1293.5L798.39 1294ZM813.49 1160L816.3 1159L815.93 1170.5L813.13 1171.5ZM817.18 1131.9L820 1130.8L819.5 1145.8L816.7 1146.9ZM821.03 1099.7L823.88 1098.4L823.35 1113.9L820.52 1115.1ZM818.51 1256.7L821.21 1256L820.89 1265L818.2 1265.7ZM817.9 1274.7L820.58 1274L820.27 1283L817.59 1283.7ZM824.68 1155.6L827.46 1154.5L827.04 1166.5L824.27 1167.6ZM831.24 1125.6L834.03 1124.3L833.44 1140.4L830.66 1141.6ZM838.01 1091.4L840.82 1089.9L840.21 1105.9L837.41 1107.3ZM831.6 1262L834.27 1261.2L833.92 1270.2L831.26 1271ZM838.52 1150L841.28 1148.8L840.81 1160.8L838.07 1162ZM843.65 1088.1L846.47 1086.5L845.81 1103.1L843.01 1104.5ZM841.76 1136.5L844.53 1135.2L844.04 1147.7L841.28 1148.9ZM841.28 1148.9L844.04 1147.7L843.56 1159.7L840.81 1160.9ZM848.61 1101.4L851.41 1099.9L850.73 1116.5L847.95 1117.9ZM850.64 1246.6L853.31 1245.6L852.92 1254.6L850.25 1255.5ZM857.85 1140.6L860.62 1139.2L860.06 1151.7L857.31 1153.1ZM854.63 1215L857.33 1213.9L856.8 1225.9L854.11 1226.9ZM864.69 1108.5L867.49 1106.9L866.74 1123.4L863.96 1124.9ZM871.08 1146.2L873.85 1144.7L873.25 1157.3L870.5 1158.7ZM875.91 1101.4L878.72 1099.6L877.9 1116.7L875.1 1118.4ZM868.9 1248.6L871.57 1247.5L871.14 1256.5L868.47 1257.6ZM874.76 1181.6L877.49 1180.3L876.87 1192.8L874.15 1194.1ZM870.68 1266L873.33 1264.9L872.87 1274.5L870.22 1275.5ZM880.7 1114.7L883.51 1112.9L882.83 1126.5L880.04 1128.2ZM882.98 1177.1L885.72 1175.7L885.05 1188.7L882.32 1190.1ZM880.59 1224.5L883.28 1223.3L882.77 1233.3L880.08 1234.5ZM882.78 1233L885.47 1231.8L884.98 1241.3L882.3 1242.5ZM892.87 1089.3L895.71 1087.3L894.76 1105.4L891.94 1107.3ZM894.77 1105.2L897.59 1103.3L896.84 1117.3L894.03 1119.2ZM886.15 1268.8L888.82 1267.7L888.62 1271.3L885.98 1272.2ZM900.64 1046.2L903.54 1043.6L902.45 1063.7L899.58 1066ZM896.84 1117.3L899.65 1115.4L898.89 1129.5L896.1 1131.3ZM894.09 1218.4L896.8 1217L896.28 1226.5L893.57 1227.8ZM918.23 1028.3L921.18 1025.3L919.89 1047.4L916.97 1050.2ZM916.97 1050.2L919.89 1047.4L918.68 1068.1L915.79 1070.6ZM917.55 1087.4L920.42 1085.1L919.53 1100.1L916.68 1102.3ZM913.37 1159.1L916.15 1157.4L915.35 1170.9L912.58 1172.6ZM918.03 1214.9L920.76 1213.4L920.14 1223.4L917.42 1224.9ZM924.78 1191.1L927.55 1189.4L926.89 1199.9L924.13 1201.5ZM933.92 1087.7L936.81 1085.2L935.82 1100.8L932.95 1103.1ZM937.71 1155.5L940.52 1153.6L939.57 1168.1L936.77 1170ZM941.38 1220.8L944.13 1219.2L943.42 1229.7L940.68 1231.3ZM950.04 1131.9L952.89 1129.7L951.86 1144.7L949.03 1146.9ZM963.39 1016.9L966.45 1012.9L964.61 1039.2L961.61 1042.6ZM955.77 1127.1L958.64 1124.7L957.55 1140.3L954.7 1142.5ZM953.17 1203L955.95 1201.2L955.2 1211.7L952.44 1213.5ZM961.54 1121.9L964.42 1119.4L963.28 1135.5L960.42 1137.8ZM960.42 1137.8L963.28 1135.5L962.2 1150.6L959.36 1152.8ZM972.71 1003.2L975.82 998.7L973.78 1027.1L970.74 1030.8ZM959.54 1187.9L962.34 1186L961.55 1197L958.76 1198.9ZM967.31 1116.9L970.21 1114.3L969.04 1130.4L966.17 1132.8ZM963.16 1174.6L965.97 1172.6L965.13 1184.1L962.33 1186.1ZM982.8 941.2L986.17 933.9L984.85 951.9L981.56 958.1ZM974 1062.1L976.99 1058.9L975.66 1077L972.7 1080ZM988.39 942.2L991.78 934.8L988.67 976.3L985.47 981.6ZM995.63 921.5L999.19 912.1L995.36 962.3L992.09 968.3ZM975.61 1186.3L978.43 1184.2L977.55 1195.8L974.75 1197.8ZM980.23 1160.7L983.08 1158.4L982.16 1170.4L979.32 1172.6ZM985.94 1156.1L988.81 1153.7L987.87 1165.7L985.02 1168ZM984.09 1180L986.92 1177.8L986.02 1189.3L983.2 1191.4ZM1001.4 1063.3L1004.43 1059.7L1002.85 1079.4L999.85 1082.6ZM997 1118.4L999.93 1115.6L998.55 1132.7L995.64 1135.3ZM992.66 1172.7L995.52 1170.4L994.55 1182.4L991.71 1184.6ZM992.69 1205.5L995.51 1203.4L994.57 1214.9L991.77 1216.9ZM1022.21 874.9L1026.73 854.9L1022.47 906.8L1018.75 917.5ZM1018.75 917.5L1022.47 906.8L1019.79 939.5L1016.33 947.2ZM999.43 1155.1L1002.32 1152.6L1001.29 1165.2L998.42 1167.6ZM1008.98 1071.4L1012.01 1067.9L1010.38 1087.5L1007.39 1090.8ZM1000.29 1177.3L1003.15 1175L1002.15 1187L999.31 1189.3ZM1013.81 1046.1L1016.91 1042L1015.1 1063.7L1012.05 1067.4ZM1008.15 1147L1011.06 1144.4L1010.01 1156.9L1007.11 1159.4ZM1007.91 1181.8L1010.77 1179.5L1009.75 1191.5L1006.9 1193.8ZM1006.9 1193.8L1009.75 1191.5L1008.73 1203.6L1005.9 1205.8ZM1015.87 1151.1L1018.78 1148.4L1017.65 1161.5L1014.76 1164ZM1011.6 1200.9L1014.45 1198.6L1013.41 1210.7L1010.58 1212.8ZM1019.95 1134.9L1022.9 1132L1021.72 1145.6L1018.79 1148.3ZM1017.68 1161.2L1020.58 1158.6L1019.44 1171.7L1016.56 1174.2ZM1027.1 1083.7L1030.15 1080.1L1028.38 1100.3L1025.37 1103.5ZM1034.11 1035L1037.28 1030.4L1035.18 1054.2L1032.07 1058.2ZM1046.54 925.7L1050.33 915.2L1046.02 963.5L1042.59 970.4ZM1038.39 1049.1L1041.53 1044.8L1039.49 1067.5L1036.4 1071.4ZM1030.01 1173L1032.91 1170.4L1031.73 1183.4L1028.85 1185.9ZM1045.9 1057.4L1049.04 1053.2L1046.95 1075.9L1043.87 1079.7ZM1040.97 1111.4L1043.99 1108.1L1042.64 1122.7L1039.65 1125.8ZM1036.43 1190.2L1039.32 1187.7L1038.41 1197.6L1035.59 1199.3ZM1043.06 1147.4L1046.02 1144.5L1044.71 1158.5L1041.77 1161.3ZM1056.52 1061.5L1059.67 1057.3L1058 1074.9L1054.89 1078.9ZM1053.3 1095.7L1056.37 1092.1L1054.89 1107.7L1051.85 1111.1ZM1064.97 1001.5L1068.33 995.5L1065.46 1025.5L1062.21 1030.5ZM1056.98 1170.1L1059.93 1167.3L1058.6 1180.8L1055.68 1183.5ZM1069.11 1073.4L1072.26 1069.2L1070.52 1086.9L1067.41 1090.7ZM1095.96 943.7L1099.82 933.6L1098.45 947L1094.71 956ZM1088.92 1040.4L1092.21 1035.3L1090.02 1056.6L1086.8 1061.2ZM1103.63 924.1L1107.79 911.5L1101.47 972.6L1097.88 980.1ZM1097.27 1092.2L1100.44 1088L1098.51 1106.2L1095.38 1110ZM1108.31 1040L1111.66 1034.6L1109.2 1057.4L1105.93 1062.2ZM1145.22 1078.7L1148.54 1073.8L1145.97 1095.5L1142.71 1100ZM1160.78 1085.8L1164.12 1080.8L1163.71 1084.2L1160.58 1087.4ZM1186.66 1032.6L1190.28 1025.9L1186.51 1055.4L1183.29 1059.1ZM1195.83 982.6L1199.82 973.3L1194.42 1015.4L1190.72 1022.5ZM1209.71 983.7L1213.76 974.3L1211.17 993.9L1207.28 1002.2ZM1230.17 871.9L1235.73 851.9L1230.66 889.9L1225.13 909.9ZM1234.9 858.1L1240.48 838.1L1239.41 846.1L1233.83 866.1ZM1238.7 936L1243.61 920.9L1237.57 964.7L1233.31 975.2ZM1278.04 860.1L1283.83 840.1L1281.37 857.1L1275.58 877.1Z"/>
<path fill="#0049cc" d="M501.78 999.3L504.18 1001.8L505.2 1022.6L502.83 1020.4ZM504.18 1001.8L506.58 1004.2L507.59 1025.1L505.22 1023ZM508.98 1006.9L511.37 1009.2L512.33 1029.6L509.97 1027.5ZM515.57 1050.6L517.91 1052.4L518.73 1070.3L516.42 1068.7ZM533.95 1002.3L536.34 1004.3L537.48 1032.2L535.11 1030.4ZM539.95 978.4L542.38 980.7L543.54 1010.5L541.14 1008.6ZM552.11 922.6L554.66 926.1L555.95 962.6L553.46 960.1ZM553.19 884.4L555.85 889.9L557.21 929.3L554.66 926ZM558.93 1046.9L561.34 1048.4L561.91 1064.8L559.51 1063.5ZM559.51 1063.5L561.91 1064.8L562.47 1080.7L560.08 1079.5ZM555.37 876.3L558.07 882.6L558.13 884.5L555.44 878.4ZM562.47 1080.8L564.87 1082L565.41 1098L563.03 1096.9ZM560.56 882.3L563.25 887.8L563.5 895.5L560.83 890.6ZM574.57 1006.9L577.14 1008.5L577.91 1033.9L575.37 1032.5ZM578.91 982.5L581.55 984.3L582.34 1011.7L579.73 1010.1ZM586.11 959.3L588.87 961.5L589.63 989.8L586.91 988ZM588 929.3L590.83 932L591.66 963.7L588.87 961.6ZM589.63 989.8L592.39 991.5L593.07 1017.4L590.34 1015.9ZM594.49 965.8L597.36 967.7L598.03 995.1L595.2 993.4ZM597.76 865.4L600.9 872L601.75 908.4L598.71 905ZM602.54 942.3L605.59 944.5L606.24 973.3L603.23 971.5ZM614.76 1087L617.85 1087.9L618.15 1102.9L615.07 1102ZM615.08 951.3L618.38 953.3L618.9 980.2L615.63 978.5ZM616.15 1004.1L619.39 1005.5L619.86 1029.4L616.64 1028.2ZM618.9 980.2L622.24 981.8L622.71 1007.2L619.4 1005.8ZM627.82 1105.2L631.21 1106L631.45 1120.5L628.08 1119.7ZM639.52 937.2L643.47 939.1L643.81 965.4L639.89 963.9ZM647.19 913.1L651.38 915.2L651.68 942.5L647.52 940.8ZM648.41 1015.2L652.49 1016.1L652.74 1039.1L648.69 1038.2ZM674.38 1019.6L679.03 1020.1L679.12 1042.6L674.5 1042.2ZM703.21 876.5L708.18 875.5L708.17 878.5L703.2 879.5ZM703.11 924.7L708.02 924.2L707.93 949.8L703.06 950.2ZM726.3 1018.6L730.75 1017.8L730.55 1039.8L726.13 1040.5ZM746.61 1079.9L750.46 1079.1L750.25 1093.6L746.42 1094.3ZM752.96 906.6L756.91 903.7L756.43 934.1L752.53 936.2ZM750.25 1093.5L753.98 1092.7L753.75 1107.3L750.04 1108ZM760.75 900.5L764.5 897.1L763.94 929.6L760.23 931.9ZM763.44 958L767.02 956.1L766.53 982.8L762.99 984.3ZM762.15 1032.6L765.64 1031.5L765.23 1054L761.76 1055ZM767.02 955.8L770.51 953.8L769.99 981L766.53 982.6ZM773.36 979.3L776.65 977.6L776.12 1003.2L772.85 1004.7ZM774.68 1072.6L777.8 1071.6L777.48 1086.7L774.36 1087.6ZM783.02 974.1L786.11 972.3L785.5 998.4L782.44 1000ZM789.85 940.6L792.86 938.1L792.12 968.4L789.14 970.3ZM788.5 997.1L791.44 995.5L790.82 1020.6L787.9 1022ZM786.07 1098.3L788.93 1097.3L788.56 1112.4L785.72 1113.3ZM791.73 1096.5L794.49 1095.5L794.1 1110.5L791.35 1111.5ZM795.88 1042.3L798.64 1041L798.02 1064.1L795.28 1065.2ZM806.34 957.1L809.07 954.8L808.21 984.6L805.51 986.4ZM810.08 1009.9L812.7 1008.2L811.92 1033.9L809.33 1035.3ZM809.33 1035.3L811.92 1033.9L811.2 1057.9L808.62 1059.2ZM808.16 1074.6L810.73 1073.5L810.26 1089L807.71 1090.1ZM810.72 1073.6L813.26 1072.5L812.78 1088L810.25 1089.1ZM816.14 979L818.74 977L817.85 1005.1L815.28 1006.8ZM826.81 883.6L829.54 877.6L829.09 891.2L826.4 896ZM822.94 1001.5L825.46 999.7L824.57 1026.3L822.08 1027.9ZM830.18 932.6L832.76 929.5L831.51 965.4L828.99 967.7ZM827.97 997.5L830.46 995.6L829.5 1023.2L827.04 1024.8ZM832.75 929.5L835.32 926.2L834.03 962.7L831.52 965.1ZM846.46 1070.4L848.81 1069L848.14 1085.5L845.81 1086.8ZM859.04 931.7L861.54 928L859.89 967.5L857.45 970.1ZM865.76 992.5L868.16 990.1L866.82 1020.3L864.45 1022.3ZM872.91 883L875.62 875.2L874.35 903.5L871.77 908.7ZM868.15 990.3L870.56 987.9L869.21 1018.1L866.83 1020.1ZM872.98 985.1L875.4 982.5L873.96 1013.7L871.58 1015.9ZM873.97 1013.6L876.35 1011.4L875.41 1031.6L873.05 1033.5ZM884.71 931.8L887.23 927.6L885.17 970.2L882.73 973.2ZM888.34 998.9L890.74 996.4L889.66 1018L887.28 1020.3ZM887.28 1020.3L889.66 1018L888.62 1038.6L886.27 1040.7ZM890.75 996.3L893.16 993.7L892.03 1015.8L889.65 1018.2ZM902.89 1024.7L905.27 1022.3L904.16 1042.9L901.79 1045.1ZM912.81 883.3L915.68 873.7L912.92 924L910.34 928.9ZM910.34 928.9L912.92 924L910.33 971.3L907.86 974.6ZM906.52 999.4L908.94 996.6L907.67 1019.8L905.28 1022.2ZM924.47 884L927.39 874L926.71 885.8L923.9 894.1ZM918.81 983.1L921.28 979.8L919.79 1005.6L917.37 1008.4ZM924.73 998.8L927.18 995.8L925.74 1020L923.33 1022.6ZM930.82 934.6L933.44 929.5L931.36 964.2L928.84 968ZM941.79 906.6L944.58 899.2L941.74 944.6L939.15 949.2ZM946.44 869.4L949.82 852.9L947.59 888.3L944.72 896.9ZM947.81 884.8L950.85 873.9L947.07 933.2L944.43 938.4ZM947.15 932L949.82 926.3L947.4 964.1L944.85 968.2ZM986.07 873L989.7 855.4L985.92 907.3L983.03 915.1ZM159.79 959.2L164.07 969.9L167.26 993.5L163.78 988.6ZM164.18 970.7L168.32 980.6L169.37 988.4L165.31 979.1ZM165.31 979.1L169.37 988.4L171.22 1002.2L167.78 997.4ZM151.69 856.8L157.25 876.8L165.74 940.3L161.03 926.4ZM161.03 926.4L165.74 940.3L172.4 990.2L168.37 981ZM169.27 924.1L173.96 938.1L182.2 1000.8L178.3 992.4ZM174.55 921L179.26 935.2L185.5 983.3L181.48 973.9ZM202.55 916.9L207.13 931L214.35 989.7L210.5 981.2ZM222.96 991.4L226.69 999.1L230.57 1031.5L227.03 1025.1ZM225.2 915.5L229.66 929.2L234.27 968.5L230.35 959.1ZM238.8 1030.8L242.28 1036.8L245.22 1061.9L241.85 1056.6ZM246.79 954.8L250.68 964.2L254.9 1001.6L251.29 994.4ZM244.51 909.5L248.93 923.5L254.96 977.2L251.2 968.8ZM241.92 861L247.04 881L252.43 929.3L248.14 916.4ZM268.01 1069.1L271.28 1073.9L273.47 1093.7L270.27 1089.3ZM271.38 1074.7L274.62 1079.3L276.8 1099.1L273.61 1094.9ZM263.52 978.5L267.17 986.1L270.54 1016.9L267.07 1010.6ZM272.48 1059.8L275.76 1064.7L277.98 1085L274.76 1080.6ZM267.52 989.3L271.09 996.4L274.18 1024.8L270.75 1018.9ZM281.43 1040.7L284.75 1045.9L287.01 1067.2L283.76 1062.5ZM284.85 1046.9L288.14 1051.9L290.34 1072.7L287.11 1068.1ZM279.88 973.7L283.49 981.4L286.62 1011.2L283.18 1004.9ZM320.8 1131L323.82 1134.2L325.29 1149.1L322.29 1146.1ZM329.72 1167L332.67 1169.8L333.98 1183.3L331.05 1180.6ZM327.01 1111.5L330.05 1115L331.49 1129.9L328.47 1126.6ZM313.55 943.8L317.21 952.5L321.07 992.8L317.66 986.5ZM334.32 1159.2L337.27 1162.1L338.6 1176L335.67 1173.3ZM310.72 884.6L315.13 900.8L319.7 948.9L316.02 940ZM333.25 1091.6L336.33 1095.3L337.82 1111.1L334.79 1107.7ZM320.64 928.9L324.4 938.6L328.47 982.1L325.03 975.4ZM341.94 1154.8L344.89 1157.7L346.19 1171.6L343.27 1168.9ZM340.92 1115.2L343.93 1118.5L345.27 1132.9L342.28 1129.8ZM347.41 1184.6L350.31 1187.1L351.15 1196.3L348.33 1194.5ZM342.53 1103.4L345.56 1106.8L346.98 1122.2L343.98 1119ZM345.63 1107.5L348.65 1110.8L350.01 1125.7L347.02 1122.6ZM339.83 952.5L343.34 960.1L346.47 995.2L343.15 989.4ZM348.08 1044.2L351.22 1048.5L353.21 1070.7L350.12 1066.9ZM359.67 1173L362.57 1175.6L363.68 1188L360.8 1185.6ZM347.26 940.5L350.81 948.7L354.03 985.6L350.69 979.5ZM364.27 1103.2L367.26 1106.4L368.51 1120.8L365.54 1117.8ZM361.98 1045.2L365.09 1049.4L366.96 1071.1L363.9 1067.4ZM369.73 1134.9L372.66 1137.7L373.81 1151.1L370.9 1148.5ZM373.11 1174.1L375.99 1176.5L377.05 1189L374.19 1186.6ZM360.9 1000.4L364.14 1005.6L366.31 1031.3L363.16 1026.8ZM378.89 1179.3L381.75 1181.6L382.76 1193.6L379.91 1191.3ZM383.35 1136.6L386.26 1139.3L387.33 1152.2L384.43 1149.6ZM382.08 1054.8L385.14 1058.5L386.74 1078.3L383.73 1075ZM379.5 988.6L382.72 993.9L384.73 1019L381.59 1014.5ZM398.87 1195.9L401.69 1198L402.6 1209.5L399.8 1207.5ZM392.83 1086.1L395.8 1089.2L397.21 1107.1L394.26 1104.2ZM395.62 1121.3L398.53 1124L399.82 1140.4L396.93 1137.9ZM396.93 1137.9L399.82 1140.4L400.8 1152.9L397.92 1150.4ZM381.19 866.3L385.46 884.2L385.71 887.5L381.56 871ZM401.47 1127L404.37 1129.6L405.64 1146L402.76 1143.6ZM403.7 1155.6L406.56 1157.9L407.48 1169.9L404.63 1167.7ZM409.12 1225.3L411.9 1227.2L412.34 1233L409.61 1231.6ZM408.52 1148.5L411.39 1150.9L412.29 1162.8L409.44 1160.6ZM410.36 1172.6L413.19 1174.8L414.06 1186.3L411.24 1184.2ZM414.09 1186.6L416.9 1188.7L417.72 1199.7L414.92 1197.7ZM419.4 1222L422.17 1223.8L422.98 1234.8L420.23 1233ZM420.53 1201.7L423.32 1203.6L424.12 1214.6L421.35 1212.8ZM422.17 1223.8L424.93 1225.6L425.74 1236.5L422.98 1234.8ZM426.51 1174.4L429.32 1176.5L430.14 1187.9L427.34 1186ZM440.02 1215.5L442.78 1217.2L443.5 1227.7L440.75 1226ZM440.75 1226L443.5 1227.7L444.21 1238.2L441.48 1236.6ZM441.46 1118.9L444.32 1121.2L445.35 1136.6L442.5 1134.4ZM449.67 1241.3L452.39 1242.8L453.01 1252.1L450.32 1251ZM449.16 1153.7L451.97 1155.6L452.88 1169.6L450.08 1167.7ZM455.84 1215.3L458.59 1216.9L459.26 1227.4L456.53 1225.8ZM447.45 1043.4L450.41 1046.5L451.79 1068.3L448.87 1065.5ZM453.84 1100.6L456.71 1102.9L457.68 1118.4L454.83 1116.1ZM462.13 1189.3L464.89 1191L465.51 1201L462.76 1199.4ZM465.53 1201.3L468.28 1202.9L468.92 1213.3L466.18 1211.8ZM467.64 1192.6L470.4 1194.2L471.03 1204.7L468.29 1203.1ZM466.2 1125L469.03 1127L469.9 1141.5L467.09 1139.5ZM474.07 1254.8L476.76 1256.2L477.11 1262L474.45 1261ZM473.77 1206.2L476.51 1207.7L477.1 1217.7L474.37 1216.2ZM471 1114.7L473.84 1116.8L474.68 1131.2L471.87 1129.3ZM471.87 1129.3L474.68 1131.2L475.5 1145.2L472.7 1143.3ZM472.98 1102.2L475.83 1104.3L476.66 1118.8L473.83 1116.7ZM473.86 1070.2L476.74 1072.7L477.84 1092.1L474.99 1089.8ZM479.1 1161.1L481.88 1162.8L482.62 1175.7L479.86 1174.1ZM480.64 1187.7L483.39 1189.2L484.12 1202.2L481.39 1200.7ZM490.17 1262.5L492.84 1263.7L493.09 1268.1L490.43 1267.2ZM484.34 1110.8L487.17 1112.8L487.96 1127.3L485.15 1125.4ZM491.79 1244.7L494.47 1246L494.99 1255.4L492.32 1254.2ZM490.17 1167.6L492.93 1169.2L493.66 1182.6L490.91 1181.1ZM488.25 1082.7L491.1 1084.9L492.06 1102.8L489.23 1100.8ZM490.02 1115.4L492.83 1117.3L493.55 1130.7L490.75 1128.9ZM503.69 1221.9L506.39 1223.2L506.9 1233.2L504.21 1231.9ZM500.54 1109.2L503.35 1111L504.03 1124.4L501.24 1122.7ZM503.3 1162.8L506.05 1164.3L506.68 1176.8L503.94 1175.4ZM507.87 1252L510.54 1253.1L511.02 1262.6L508.36 1261.5ZM505.39 1151.2L508.15 1152.8L508.8 1165.8L506.05 1164.3ZM511.5 1272L514.15 1273L514.24 1274.9L511.6 1274.1ZM510.07 1191.2L512.79 1192.5L513.4 1205L510.69 1203.7ZM512.04 1065.4L514.89 1067.5L515.73 1085.4L512.9 1083.5ZM518.24 1195.3L520.95 1196.5L521.54 1209L518.84 1207.8ZM518.57 1087.7L521.39 1089.5L522.16 1106.4L519.36 1104.7ZM519.36 1104.7L522.16 1106.4L522.91 1122.9L520.13 1121.3ZM526.85 1150.4L529.61 1151.8L530.16 1164.3L527.42 1163ZM534.91 1272.1L537.56 1273L537.94 1281.9L535.32 1281.2ZM535.56 1226.9L538.24 1227.9L538.62 1236.9L535.95 1235.9ZM541.11 1169.5L543.85 1170.7L544.33 1182.7L541.61 1181.5ZM544.48 1119.1L547.26 1120.5L547.87 1136L545.1 1134.7ZM551.18 1220.8L553.88 1221.8L554.34 1233.8L551.65 1232.8ZM555.69 1199.2L558.4 1200.1L558.85 1212.1L556.14 1211.2ZM558.38 1270.7L561.04 1271.5L561.37 1280.5L558.72 1279.8ZM560.26 1177.2L563 1178.3L563.43 1190.2L560.69 1189.3ZM564.93 1155.5L567.7 1156.6L568.11 1168.6L565.35 1167.6ZM565.76 1179.6L568.52 1180.6L568.91 1192L566.16 1191.1ZM568.54 1099.4L571.38 1100.7L571.88 1116.1L569.06 1114.9ZM570.09 1146L572.89 1147.1L573.26 1158.5L570.48 1157.5ZM570.88 1169.5L573.65 1170.5L574.04 1182.5L571.28 1181.6ZM571.28 1181.6L574.04 1182.5L574.42 1194L571.66 1193.1ZM573.21 1239.6L575.93 1240.4L576.22 1249.4L573.51 1248.7ZM574.8 1205.8L577.56 1206.6L577.92 1218.1L575.18 1217.3ZM578.94 1250L581.67 1250.7L581.95 1259.7L579.22 1259ZM579.22 1259L581.95 1259.7L582.23 1268.7L579.51 1268ZM583.29 1121L586.17 1122L586.6 1137L583.73 1136ZM586.57 1232.2L589.36 1232.9L589.69 1244.4L586.91 1243.7ZM587.7 1270.2L590.45 1270.8L590.7 1279.3L587.95 1278.7ZM592.97 1262.3L595.76 1263L596.01 1272L593.22 1271.3ZM593.22 1271.3L596.01 1272L596.24 1280.4L593.46 1279.8ZM592.78 1153.7L595.69 1154.6L596 1166.1L593.1 1165.2ZM597.82 1234.9L600.69 1235.6L600.98 1247.1L598.13 1246.4ZM597.48 1111.1L600.48 1112.1L600.85 1127.1L597.87 1126.1ZM597.87 1126.1L600.85 1127.1L601.21 1141.6L598.24 1140.7ZM598.24 1140.7L601.21 1141.6L601.59 1156.5L598.63 1155.7ZM599.51 1189.7L602.43 1190.5L602.72 1202L599.8 1201.2ZM600.4 1224.3L603.29 1224.9L603.58 1236.4L600.69 1235.8ZM604.52 1273.9L607.4 1274.5L607.61 1283L604.73 1282.4ZM605.12 1180.1L608.12 1180.8L608.39 1192.3L605.4 1191.6ZM605.94 1214.1L608.91 1214.8L609.18 1226.3L606.22 1225.6ZM612.68 1249.5L615.69 1250.1L615.87 1258.6L612.87 1258ZM614.71 1204.9L617.79 1205.5L618.03 1217L614.96 1216.4ZM622.35 1277.1L625.46 1277.6L625.62 1286.1L622.52 1285.6ZM624.96 1251.7L628.15 1252.2L628.31 1260.7L625.13 1260.2ZM625.13 1260.2L628.31 1260.7L628.46 1269.2L625.29 1268.7ZM626.5 1162.4L629.82 1163L630.02 1174L626.71 1173.4ZM628.93 1295L632.13 1295.4L632.2 1299.4L629.01 1299ZM631.19 1241.6L634.5 1242.1L634.68 1253.1L631.39 1252.6ZM647.63 1188.3L651.31 1188.7L651.44 1199.7L647.77 1199.3ZM652.29 1272.1L655.96 1272.4L656.05 1280.9L652.39 1280.6ZM656.05 1281.2L659.78 1281.5L659.86 1290L656.14 1289.7ZM659.86 1289.8L663.65 1290L663.72 1298.5L659.94 1298.3ZM662.97 1212L666.9 1212.3L666.99 1223.3L663.06 1223ZM671.24 1264.9L675.24 1265.1L675.29 1273.6L671.3 1273.4ZM671.47 1299.4L675.43 1299.6L675.45 1302.1L671.49 1301.9ZM675.29 1273.8L679.33 1274L679.37 1282.5L675.34 1282.3ZM679.33 1273.8L683.42 1273.9L683.45 1282.4L679.37 1282.3ZM682.95 1126.9L687.24 1127L687.27 1141L682.99 1140.9ZM687.56 1282.9L691.69 1283L691.7 1291.5L687.58 1291.4ZM691.68 1265.9L695.85 1265.9L695.85 1274.4L691.69 1274.4ZM695.88 1141.4L700.2 1141.4L700.18 1155.4L695.88 1155.4ZM700.16 1169L704.43 1168.9L704.41 1179.9L700.14 1180ZM704.32 1213.4L708.53 1213.3L708.49 1224.3L704.29 1224.4ZM713.05 1140.8L717.27 1140.6L717.19 1154.6L712.99 1154.8ZM712.76 1201.8L716.91 1201.6L716.84 1212.6L712.71 1212.8ZM712.33 1290.8L716.38 1290.6L716.33 1299.1L712.29 1299.3ZM717.19 1154.5L721.34 1154.2L721.24 1168.2L717.11 1168.5ZM716.65 1245.5L720.7 1245.3L720.62 1256.8L716.58 1257ZM728.45 1264.3L732.3 1264L732.21 1273L728.37 1273.3ZM733.58 1138.8L737.5 1138.3L737.34 1152.3L733.44 1152.8ZM733.07 1189.3L736.92 1188.9L736.8 1199.9L732.95 1200.3ZM740.85 1177.1L744.58 1176.6L744.42 1188.1L740.71 1188.6ZM740.44 1210.6L744.13 1210.2L743.98 1221.2L740.3 1221.6ZM766.27 1133L769.58 1132.2L769.29 1146.7L765.99 1147.5ZM763.37 1286.3L766.54 1285.9L766.37 1294.4L763.21 1294.8ZM769.29 1146.8L772.54 1146L772.24 1160.5L769.01 1161.3ZM767.89 1217.7L771.07 1217.1L770.84 1228.1L767.67 1228.7ZM770.2 1259.4L773.29 1258.9L773.11 1267.4L770.02 1267.9ZM772.93 1275.9L775.97 1275.4L775.76 1284.4L772.73 1284.9ZM785.07 1143L788.11 1142.1L787.75 1156.6L784.72 1157.4ZM794.1 1140.1L797.05 1139.2L796.66 1153.7L793.72 1154.6ZM791.6 1235L794.47 1234.3L794.16 1245.8L791.3 1246.5ZM790.15 1289.9L792.98 1289.3L792.82 1294.9L790.01 1295.3ZM794.78 1222.9L797.64 1222.1L797.32 1233.6L794.47 1234.3ZM798.28 1199.1L801.13 1198.3L800.8 1209.9L797.96 1210.6ZM800.8 1210.1L803.62 1209.3L803.28 1220.9L800.47 1221.6ZM806.21 1121.2L809.1 1120.2L808.65 1135.2L805.77 1136.2ZM802.61 1243.6L805.4 1242.8L805.12 1251.9L802.35 1252.6ZM801.84 1270L804.6 1269.4L804.32 1278.4L801.57 1279ZM808.19 1150.3L811.03 1149.4L810.68 1160.9L807.84 1161.8ZM811.5 1134.1L814.35 1133L813.87 1148L811.04 1149ZM809.79 1276.8L812.5 1276.1L812.21 1285.2L809.51 1285.8ZM815.16 1194.3L817.93 1193.4L817.54 1204.9L814.79 1205.8ZM813.65 1240.7L816.38 1239.9L816.08 1248.9L813.36 1249.7ZM822.94 1282.3L825.61 1281.6L825.35 1288.7L822.7 1289.2ZM838.07 1162L840.81 1160.8L840.33 1173.3L837.59 1174.4ZM837.59 1174.4L840.33 1173.3L839.86 1185.3L837.13 1186.4ZM845.81 1170.8L848.55 1169.6L848.05 1181.6L845.33 1182.7ZM844.82 1195.2L847.54 1194.1L847.04 1206.2L844.34 1207.2ZM850.74 1116.2L853.53 1114.7L852.86 1130.8L850.09 1132.1ZM863.96 1124.9L866.74 1123.4L866.14 1136.4L863.38 1137.9ZM871.1 1087.6L873.92 1085.7L873.1 1103.3L870.3 1105ZM869.54 1121.4L872.32 1119.8L871.69 1133.4L868.91 1134.9ZM864.01 1241.2L866.68 1240.1L866.23 1249.6L863.57 1250.7ZM866.24 1249.5L868.91 1248.4L868.45 1258L865.79 1259ZM874.49 1131.3L877.27 1129.7L876.61 1143.3L873.84 1144.8ZM872.63 1170.2L875.37 1168.8L874.77 1181.4L872.04 1182.7ZM877.5 1180L880.24 1178.6L879.61 1191.2L876.89 1192.5ZM886.3 1111.3L889.11 1109.5L888.42 1123L885.62 1124.8ZM884.29 1151.2L887.05 1149.6L886.39 1162.7L883.63 1164.2ZM880.84 1271L883.5 1269.9L883.33 1273L880.69 1273.9ZM887.13 1200L889.85 1198.6L889.19 1211.2L886.48 1212.5ZM891.22 1172.5L893.98 1171L893.28 1184L890.54 1185.5ZM906.11 1096.8L908.95 1094.7L908.13 1109.2L905.3 1111.3ZM899.52 1215.4L902.24 1214.1L901.68 1224.1L898.97 1225.4ZM912.18 1133.3L914.99 1131.3L914.17 1145.4L911.37 1147.2ZM909.79 1174.6L912.56 1173L911.8 1186L909.04 1187.6ZM907.12 1221L909.84 1219.6L909.25 1229.6L906.54 1231ZM928.14 1092.9L931.01 1090.5L930.05 1106.1L927.19 1108.4ZM927.19 1108.4L930.05 1106.1L929.15 1120.7L926.31 1122.8ZM939.23 1002.9L942.27 999L940.67 1024.2L937.68 1027.6ZM936.77 1170L939.57 1168.1L938.65 1182.2L935.87 1184ZM939.58 1168L942.38 1166.1L941.45 1180.1L938.66 1182ZM937.96 1232.8L940.69 1231.2L939.98 1241.7L937.26 1243.3ZM967.7 954.5L970.96 948.3L968.46 984L965.33 988.7ZM965.33 988.7L968.46 984L966.45 1012.9L963.39 1016.9ZM956.84 1111.6L959.73 1109.1L958.64 1124.7L955.77 1127.1ZM953.67 1157.4L956.5 1155.3L955.48 1169.9L952.67 1171.9ZM974.98 971.2L978.2 965.7L975.82 998.7L972.71 1003.2ZM963.3 1135.1L966.17 1132.8L965.05 1148.3L962.2 1150.6ZM965.98 1172.6L968.8 1170.5L967.95 1182L965.14 1184ZM978.65 1073.6L981.63 1070.4L980.27 1088.5L977.33 1091.4ZM972.53 1156.1L975.38 1153.8L974.48 1165.9L971.65 1168.1ZM988.75 975.3L991.98 969.7L989.45 1003.2L986.32 1007.8ZM972.79 1188.5L975.6 1186.5L974.73 1198L971.93 1200ZM999.68 867.8L1004.1 847.8L999.19 912.1L995.63 921.5ZM974.75 1197.8L977.55 1195.8L976.67 1207.3L973.88 1209.3ZM978.44 1184.1L981.27 1182L980.38 1193.5L977.57 1195.6ZM980.38 1193.5L983.19 1191.5L982.3 1203L979.5 1205ZM982.3 1202.9L985.11 1200.9L984.25 1211.9L981.45 1213.9ZM1010.7 874.6L1015.17 854.6L1010.96 907.8L1007.3 918ZM996.87 1051L999.92 1047.2L998.33 1067.4L995.31 1070.8ZM1005.88 971.9L1009.19 965.8L1006.83 995.3L1003.63 1000.3ZM1003.63 1000.3L1006.83 995.3L1004.84 1020.1L1001.72 1024.5ZM1001.72 1024.5L1004.84 1020.1L1003.03 1042.9L999.96 1046.7ZM1006.19 1038L1009.29 1033.9L1007.52 1055.6L1004.47 1059.3ZM1016.33 947.2L1019.79 939.5L1016.85 975.4L1013.56 981.3ZM1020.41 966.4L1023.78 959.7L1021.1 991.9L1017.86 997.2ZM1001.19 1198.6L1004.03 1196.4L1003.02 1208.5L1000.2 1210.6ZM1033.13 882.2L1037.7 862.2L1037.13 869L1032.69 887.4ZM1020.11 1036.8L1023.25 1032.5L1021.32 1055.2L1018.24 1059.1ZM1032.88 918.9L1036.67 908L1034.85 929.3L1031.26 938.1ZM1018.16 1124.2L1021.12 1121.3L1019.91 1135.4L1016.97 1138.2ZM1018.79 1148.3L1021.72 1145.6L1020.58 1158.6L1017.68 1161.2ZM1040.28 932.2L1043.97 922.6L1042.28 941.9L1038.74 950ZM1036.36 1009.3L1039.61 1004.1L1037.28 1030.4L1034.11 1035ZM1021.26 1181.4L1024.14 1179L1023.03 1191.5L1020.17 1193.9ZM1021.96 1203.6L1024.82 1201.3L1024.34 1206.6L1021.55 1208.3ZM1054.04 998.9L1057.38 993L1054.65 1022.5L1051.41 1027.4ZM1054.74 1021.5L1058 1016.3L1055.49 1043.2L1052.31 1047.7ZM1044.35 1133.5L1047.34 1130.4L1046.02 1144.5L1043.06 1147.4ZM1047.39 1129.8L1050.38 1126.7L1049.01 1141.3L1046.04 1144.3ZM1042.23 1185.1L1045.13 1182.5L1044.11 1193.4L1041.28 1195.2ZM1053.47 1122.7L1056.49 1119.4L1055.05 1134.5L1052.05 1137.6ZM1068.5 993.7L1071.91 987.4L1068.82 1019.4L1065.54 1024.7ZM1065.54 1024.7L1068.82 1019.4L1066.19 1046.8L1063 1051.3ZM1072.08 985.6L1075.54 978.9L1072.27 1012.5L1068.96 1018ZM1083.51 955L1087.21 946.2L1082.87 989.9L1079.44 996.3ZM1087.64 941.8L1091.48 931.8L1086.57 980.9L1083.09 987.7ZM1092.2 924.6L1096.27 912.4L1091.74 957.5L1088.1 965.6ZM1088.1 965.6L1091.74 957.5L1090.39 970.8L1086.84 978.2ZM1068.97 1157L1071.96 1154L1070.55 1168.1L1067.58 1171ZM1090.38 998.7L1093.84 992.2L1091.13 1018.7L1087.79 1024.3ZM1105.71 931.6L1109.76 919.9L1105.48 961.1L1101.81 969.3ZM1098.53 1001L1102.01 994.4L1099.19 1021.4L1095.84 1027ZM1115.19 867.9L1120.17 847.9L1113.6 910.5L1109.4 923.4ZM1109.4 923.4L1113.6 910.5L1109.69 947.9L1105.9 957ZM1089.05 1118.8L1092.14 1115.1L1090.4 1131.7L1087.34 1135.2ZM1115.17 922.7L1119.43 909.5L1113.68 963.5L1110 971.7ZM1100.54 1087.1L1103.73 1082.8L1101.73 1101.5L1098.59 1105.4ZM1093.36 1154.6L1096.4 1151.3L1096.24 1152.8L1093.31 1155.1ZM1101.8 1100.8L1104.96 1096.8L1103.06 1114.4L1099.94 1118.2ZM1105.06 1095.8L1108.24 1091.6L1106.27 1109.8L1103.14 1113.7ZM1122.35 961.6L1126.17 952.4L1122.02 990.5L1118.45 997.5ZM1118.45 997.5L1122.02 990.5L1118.84 1019.5L1115.42 1025.5ZM1106.36 1109L1109.51 1105L1107.58 1122.6L1104.47 1126.3ZM1111.61 1085.7L1114.83 1081.3L1112.72 1100.5L1109.55 1104.6ZM1146.89 868.5L1152.03 848.5L1144.66 913.8L1140.31 927.2ZM1130.77 1012.3L1134.3 1005.7L1131.2 1033.1L1127.8 1038.8ZM1125.06 1111.7L1128.24 1107.5L1126.22 1125.3L1123.21 1127.9ZM1142.7 981L1146.47 972.6L1142.35 1008.5L1138.8 1015.1ZM1136.49 1059.5L1139.85 1054.2L1137.21 1077L1133.93 1081.7ZM1160.05 928.7L1164.52 914.9L1159.07 961.2L1155.16 970.4ZM1155.81 1058.9L1159.22 1053.4L1156.29 1077.7L1152.96 1082.6ZM1180.18 879.7L1185.49 859.7L1178.24 919.5L1173.75 933ZM1167.01 988.9L1170.82 980.6L1166.41 1016.9L1162.82 1023.6ZM1159.44 1051.6L1162.89 1045.9L1159.88 1070.7L1156.52 1075.8ZM1156.52 1075.8L1159.88 1070.7L1157.33 1091.7L1154.23 1094.8ZM1171.51 974.8L1175.46 965.6L1170.44 1006.6L1166.79 1013.8ZM1166.92 1035.5L1170.47 1029.1L1167.04 1057L1163.61 1062.6ZM1206.89 940.4L1211.47 927L1203.41 989L1199.52 997.4ZM1214.95 922.1L1220.01 905.3L1213.22 957L1209.01 967.6ZM1224.29 894.6L1229.82 874.6L1222.47 929.9L1217.86 943.2ZM1267.28 874.7L1273.02 854.7L1264.31 915.7L1260.44 922.8Z"/>
<path fill="#005edd" d="M481.17 996.8L483.6 999.6L484.81 1021.9L482.41 1019.5ZM522.58 1055.9L524.91 1057.6L525.71 1075.5L523.39 1074ZM532.64 970.5L535.07 973.1L536.34 1004.3L533.95 1002.3ZM541.14 1008.6L543.54 1010.5L544.59 1037.4L542.22 1035.7ZM548.09 878.8L550.76 885.1L552.1 922.3L549.55 918.6ZM554.6 991.9L557.05 993.9L558.02 1021.2L555.59 1019.5ZM559.79 933.1L562.36 936.1L563.5 970.2L560.98 968ZM568.57 974.6L571.13 976.6L572.02 1004.9L569.49 1003.2ZM572.02 1004.8L574.56 1006.5L575.36 1032.4L572.84 1030.9ZM575.44 865.3L578.3 872.5L579.68 920L576.96 916.8ZM576.96 916.8L579.68 920L580.68 954.6L578.01 952.2ZM592.04 1079.1L594.72 1080.2L595.11 1095.2L592.44 1094.2ZM591.66 963.5L594.48 965.5L595.19 993.4L592.4 991.7ZM598.04 995.3L600.92 996.9L601.52 1021.8L598.66 1020.4ZM603.23 971.5L606.24 973.3L606.83 999.7L603.85 998.1ZM606.25 973.6L609.31 975.4L609.88 1001.3L606.84 999.8ZM612.44 977.1L615.64 978.8L616.15 1004.2L612.98 1002.8ZM627.56 1090.7L630.96 1091.5L631.21 1106L627.82 1105.2ZM628.26 930.9L631.92 933.1L632.36 960.9L628.74 959.2ZM632.77 986.3L636.46 987.6L636.82 1012L633.16 1010.9ZM633.16 1010.9L636.82 1012L637.16 1035L633.52 1033.9ZM636.46 987.9L640.25 989.2L640.58 1013.1L636.82 1012ZM644.45 1014.3L648.42 1015.3L648.69 1038.2L644.75 1037.3ZM653.52 1110.2L657.59 1110.8L657.73 1124.8L653.67 1124.2ZM656.67 1017L660.95 1017.8L661.15 1040.3L656.89 1039.6ZM669.51 972.2L674.13 972.9L674.26 996.8L669.67 996.2ZM674.14 973.1L678.84 973.7L678.93 997.1L674.26 996.6ZM693.29 1020.7L698.11 1020.7L698.09 1043.2L693.3 1043.2ZM698.22 880.1L703.2 879.5L703.11 925.2L698.18 925.4ZM703.06 950.2L707.93 949.8L707.85 973.8L703.01 974.1ZM707.4 1113.2L712.03 1113L711.97 1127L707.35 1127.2ZM713.1 875.1L717.98 873L717.97 875.1L713.09 877ZM713.09 877L717.97 875.1L717.7 922.5L712.88 923.5ZM712.88 923.5L717.7 922.5L717.55 948.2L712.77 948.9ZM712.66 973.4L717.41 972.7L717.27 996.8L712.55 997.3ZM730.97 994.2L735.34 993.2L735.1 1016.8L730.75 1017.7ZM730.15 1083L734.42 1082.4L734.28 1096.4L730.02 1097ZM735.6 968.9L739.89 967.6L739.61 992.2L735.34 993.3ZM734.13 1110.5L738.27 1109.9L738.1 1124.4L733.98 1125ZM740.89 880.7L745.2 876.9L744.76 912.2L740.5 914.4ZM738.27 1110.1L742.3 1109.5L742.12 1123.5L738.11 1124.1ZM744.76 911.8L748.92 909.3L748.53 938.1L744.41 940ZM746.22 1108.8L750.04 1108.1L749.83 1122.1L746.03 1122.8ZM755.24 1011.4L758.95 1010.2L758.57 1033.3L754.88 1034.3ZM762.56 1008.7L766.08 1007.4L765.64 1031.5L762.15 1032.6ZM765.64 1031.4L769.05 1030.2L768.62 1052.8L765.23 1053.8ZM792.86 938.1L795.83 935.5L795.04 966.3L792.12 968.3ZM791.44 995.6L794.34 993.9L793.69 1019.6L790.82 1021ZM790.82 1021L793.69 1019.6L793.08 1043.6L790.23 1044.9ZM799.77 893.4L802.73 888.9L801.63 929.8L798.75 932.5ZM797.19 992L800 990.3L799.3 1016.4L796.52 1017.9ZM802.85 884.4L805.79 879L805.66 883.7L802.73 888.7ZM801.63 929.6L804.47 926.7L803.57 959.6L800.77 961.8ZM802.05 1014.7L804.76 1013.2L804.05 1038.3L801.36 1039.6ZM808.62 876.2L811.53 869.7L811.5 870.8L808.6 877.2ZM817.12 947.3L819.76 944.7L818.74 977L816.14 979ZM813.25 1072.6L815.76 1071.4L815.27 1086.9L812.77 1088ZM821 905.3L823.69 901.2L822.38 941.9L819.76 944.6ZM818.75 976.8L821.33 974.7L820.4 1003.4L817.85 1005.1ZM824.99 939.1L827.58 936.1L826.45 970L823.9 972.2ZM822.65 1083.6L825.08 1082.4L824.55 1097.9L822.13 1099ZM828.99 967.7L831.51 965.4L830.46 995.6L827.97 997.5ZM834.54 877.9L837.28 870.8L835.32 926.2L832.75 929.5ZM836.53 960.3L839.03 957.8L837.87 989.5L835.41 991.6ZM834.67 1077.3L837.04 1076L836.44 1092.1L834.08 1093.3ZM840.33 987.3L842.78 985.1L841.68 1014.3L839.26 1016.1ZM849.46 872.6L852.21 863.9L850.79 900.4L848.21 905.2ZM841.77 1073L844.12 1071.6L843.48 1088.1L841.14 1089.4ZM847.67 980.5L850.11 978.1L848.92 1008.3L846.51 1010.3ZM853.44 894.1L856.06 888.3L854.02 939.1L851.53 942.3ZM851.33 1006L853.73 1004L852.59 1032.1L850.21 1033.9ZM853.72 1004.3L856.12 1002.2L854.96 1030.4L852.59 1032.2ZM861.55 927.9L864.06 924L862.34 964.6L859.89 967.3ZM864.8 961.2L867.25 958.3L865.75 992.6L863.35 994.9ZM865.18 1057.4L867.51 1055.8L866.7 1073.8L864.39 1075.4ZM878.16 871.2L881.02 860.5L879.65 890.2L877.01 896.5ZM871.58 1015.9L873.96 1013.7L873.06 1033.4L870.7 1035.3ZM875.41 982.4L877.83 979.7L876.35 1011.4L873.97 1013.6ZM880.28 976.4L882.71 973.6L881.12 1006.8L878.73 1009.1ZM882.73 973.2L885.17 970.2L883.51 1004.5L881.12 1006.9ZM903.4 928.8L905.97 924L905.13 939.9L902.6 944ZM905.39 978.1L907.84 974.9L906.5 999.6L904.08 1002.4ZM910.35 971L912.83 967.6L911.4 993.3L908.96 996.2ZM908.96 996.2L911.4 993.3L910.09 1017L907.69 1019.5ZM922.12 884.3L925.02 874.4L923.8 895.8L921.06 902.9ZM923.9 894.1L926.71 885.8L922.98 950.4L920.44 954.5ZM928.84 968L931.36 964.2L929.65 992.5L927.19 995.6ZM936.55 954.2L939.12 949.8L937.18 981.3L934.68 984.7ZM944.43 938.4L947.07 933.2L944.81 968.9L942.27 972.8ZM955.04 881.6L958.17 869.4L955.44 911.2L952.69 917.9ZM955.56 909.4L958.38 901.8L955.29 948.7L952.68 953.5ZM967.32 872.9L970.77 856.8L966.27 922.7L963.53 928.9ZM981.24 875L984.74 858.9L979.94 925.8L977.18 932.1ZM988 878.8L991.43 863.9L989.13 895.3L986.13 904.4ZM138.14 863.6L143.78 883.6L149.03 921.9L143.73 904.1ZM191.31 1027.8L194.95 1034.6L196 1042.7L192.72 1038.7ZM245.37 1063.2L248.71 1068.3L251.25 1090.1L247.97 1085.4ZM253.7 1111.1L256.89 1115.2L257.04 1116.6L254.01 1113.8ZM243.23 997.3L246.85 1004.4L250.24 1033.9L246.77 1027.8ZM250.45 1035.7L253.88 1041.5L256.58 1065.2L253.25 1060.1ZM238.15 903.9L242.72 919L246.01 947.9L241.94 937.1ZM254.02 1042.7L257.41 1048.2L260.05 1071.5L256.74 1066.5ZM255.19 1004.2L258.73 1010.9L261.82 1038.4L258.41 1032.7ZM261.1 1056.5L264.42 1061.6L266.81 1082.8L263.55 1078.2ZM269.02 1053.5L272.34 1058.5L274.62 1079.3L271.38 1074.7ZM277.57 1130.7L280.67 1134.3L281.33 1140.3L278.36 1137.8ZM270.75 1018.9L274.18 1024.8L276.8 1049L273.47 1043.8ZM281.37 1091.1L284.55 1095.3L286.48 1113.1L283.34 1109.2ZM271.72 976.3L275.35 983.9L278.54 1013.8L275.08 1007.5ZM279.81 946.3L283.61 955.6L287.35 991.5L283.81 984.4ZM295.68 1097.5L298.82 1101.4L300.58 1118.3L297.48 1114.6ZM302.32 1135L305.37 1138.4L306.96 1153.8L303.95 1150.6ZM286.58 929.5L290.49 940L295.47 988.8L291.95 981.8ZM311.51 1119.3L314.57 1122.8L316.12 1138.2L313.1 1134.9ZM293.1 909.5L297.21 922.1L302.71 977.1L299.14 969.6ZM302.95 1007.4L306.33 1013.3L308.64 1036.4L305.35 1031.2ZM312.98 1107L316.06 1110.6L317.65 1126.5L314.61 1123.1ZM323.85 1134.6L326.86 1137.8L328.27 1152.2L325.29 1149.2ZM310.22 967.8L313.76 975.1L317.18 1010.3L313.82 1004.5ZM316.02 940L319.7 948.9L321.1 963.7L317.53 955.8ZM317.53 955.8L321.1 963.7L324.58 1000.2L321.21 994.2ZM331.63 1074.5L334.74 1078.4L336.33 1095.3L333.25 1091.6ZM324.77 942.6L328.4 951.2L332.05 990.5L328.66 984.2ZM334.13 1042.6L337.31 1047.1L339.47 1070.4L336.35 1066.4ZM328.68 954.2L332.22 962L335.55 998.1L332.2 992.1ZM347.02 1122.6L350.01 1125.7L351.28 1139.6L348.32 1136.7ZM348.69 1111.3L351.7 1114.6L353.01 1129L350.03 1125.9ZM353.79 1167.1L356.71 1169.8L357.88 1182.7L354.99 1180.2ZM347.14 971.2L350.53 977.7L353.24 1008.6L349.99 1003.3ZM357.56 994.1L360.82 999.5L363.06 1025.6L359.88 1021ZM368.55 1121.3L371.51 1124.3L372.66 1137.7L369.73 1134.9ZM371.54 1124.6L374.49 1127.5L375.63 1140.9L372.7 1138.1ZM352.1 864L356.68 884L359.72 920.1L355.95 909.3ZM371.76 1095.3L374.76 1098.6L376.3 1117L373.34 1114ZM379.91 1191.3L382.76 1193.6L383.77 1205.5L380.94 1203.4ZM362.22 949.8L365.66 957.1L368.39 989.8L365.11 984.1ZM384.63 1184.2L387.48 1186.5L388.47 1198.4L385.64 1196.2ZM385.47 1162.2L388.35 1164.6L389.37 1177.1L386.51 1174.8ZM363.15 857.7L367.67 877.7L371.41 923.7L367.75 913.8ZM390.35 1189.1L393.19 1191.3L394.16 1203.2L391.34 1201.1ZM380.4 964.9L383.71 971L385.96 999.5L382.77 994.4ZM391.28 1101L394.24 1103.9L395.62 1121.3L392.69 1118.6ZM383.81 972.3L387.07 978.1L389.2 1005.1L386.02 1000.2ZM397.22 1107.3L400.16 1110.2L401.48 1127.1L398.57 1124.4ZM393.73 991.6L396.91 996.5L398.76 1020.7L395.65 1016.4ZM400.39 1078L403.37 1081.1L404.74 1099L401.79 1096.1ZM396.97 997.3L400.13 1002.1L401.88 1025.3L398.79 1021.2ZM398.79 1021.2L401.88 1025.3L403.49 1046.6L400.45 1042.9ZM415.26 1094L418.19 1096.8L419.42 1113.7L416.52 1111.1ZM418.88 1143.3L421.74 1145.6L422.83 1160.5L419.99 1158.3ZM420.87 1170.4L423.7 1172.5L424.49 1183.4L421.68 1181.4ZM415.64 1061.8L418.62 1065L419.91 1082.9L416.96 1080ZM421.76 1145.8L424.61 1148.1L425.68 1163L422.85 1160.9ZM427.71 1227.6L430.46 1229.3L431.22 1239.8L428.47 1238.1ZM425.25 1119.4L428.13 1121.9L429.22 1137.3L426.36 1135ZM426.36 1135L429.22 1137.3L430.31 1152.7L427.47 1150.5ZM430.91 1198.7L433.69 1200.6L434.46 1211.5L431.69 1209.7ZM426.31 1057.2L429.28 1060.3L430.52 1078.2L427.58 1075.3ZM429.32 1060.8L432.28 1063.9L433.47 1081.3L430.54 1078.5ZM430.54 1078.5L433.47 1081.3L434.59 1097.7L431.69 1095.1ZM443.35 1186.8L446.14 1188.6L446.87 1199.6L444.1 1197.8ZM442.5 1134.4L445.35 1136.6L446.3 1151.1L443.48 1149ZM448.99 1231.2L451.73 1232.8L452.39 1242.8L449.67 1241.3ZM453.79 1183.7L456.57 1185.5L457.24 1196L454.48 1194.2ZM455.67 1171.5L458.46 1173.3L459.34 1187.3L456.57 1185.6ZM459.24 1227.2L461.97 1228.7L462.64 1239.2L459.92 1237.7ZM454.83 1116.1L457.68 1118.4L458.58 1132.8L455.75 1130.7ZM455.75 1130.7L458.58 1132.8L459.49 1147.2L456.68 1145.3ZM464.08 1220.4L466.81 1222L467.43 1231.9L464.71 1230.4ZM465.97 1250.5L468.67 1251.9L469.12 1259.2L466.45 1258.2ZM454.96 1031L457.93 1034.1L459.27 1056L456.34 1053.1ZM468.29 1203.1L471.03 1204.7L471.64 1214.6L468.9 1213.1ZM477.71 1228.1L480.42 1229.5L480.98 1238.9L478.27 1237.6ZM478.27 1237.6L480.98 1238.9L481.56 1248.9L478.87 1247.6ZM475.5 1145.3L478.3 1147.2L479.08 1160.6L476.3 1158.9ZM477.48 1133L480.29 1134.9L481.08 1148.8L478.29 1147ZM478.29 1147L481.08 1148.8L481.88 1162.8L479.1 1161.1ZM474.39 1031.5L477.33 1034.4L478.5 1055.3L475.6 1052.7ZM479.5 1121L482.31 1123L483.1 1136.9L480.3 1135.1ZM481.1 1149.1L483.88 1150.9L484.64 1164.3L481.87 1162.7ZM481.87 1162.7L484.64 1164.3L485.4 1177.8L482.64 1176.2ZM485.84 1232.3L488.55 1233.7L489.08 1243.1L486.39 1241.8ZM486.87 1203.9L489.6 1205.3L490.15 1215.3L487.43 1213.9ZM481.41 1058.1L484.3 1060.6L485.36 1080L482.5 1077.7ZM490.7 1225.2L493.41 1226.5L493.93 1236L491.23 1234.7ZM484.3 1060.6L487.19 1063.1L488.24 1082.5L485.38 1080.3ZM490.91 1181.1L493.66 1182.6L494.36 1195.6L491.63 1194.1ZM494.36 1195.6L497.09 1197L497.76 1209.5L495.04 1208.1ZM493.56 1130.9L496.35 1132.7L497.06 1146.1L494.28 1144.5ZM501.51 1230.4L504.2 1231.6L504.69 1241.1L502.01 1239.9ZM499.84 1147.7L502.61 1149.3L503.3 1162.8L500.54 1161.3ZM502.6 1149.3L505.37 1150.9L506.05 1164.3L503.3 1162.8ZM506.41 1223.5L509.1 1224.7L509.58 1234.2L506.9 1233ZM501.53 1075L504.38 1077.1L505.29 1095.5L502.47 1093.5ZM510.08 1243.9L512.75 1245.1L513.23 1254.6L510.56 1253.5ZM511.02 1262.5L513.68 1263.6L514.15 1273L511.5 1272ZM509.18 1063.2L512.03 1065.3L512.91 1083.7L510.08 1081.8ZM512.42 1129.9L515.2 1131.5L515.81 1144.5L513.05 1143ZM513.68 1156L516.43 1157.5L517.03 1169.9L514.29 1168.5ZM518.84 1207.8L521.54 1209L522.1 1221L519.41 1219.8ZM520.77 1248.4L523.44 1249.5L523.88 1258.9L521.22 1257.9ZM516.55 1102.9L519.35 1104.6L520.14 1121.6L517.35 1119.9ZM521.52 1208.7L524.22 1209.8L524.8 1222.3L522.11 1221.2ZM524.23 1210L526.93 1211.2L527.5 1223.6L524.81 1222.5ZM532.27 1271.2L534.91 1272.1L535.31 1281L532.68 1280.3ZM534.49 1202.4L537.2 1203.5L537.73 1216L535.04 1214.9ZM532.63 1096.5L535.43 1098.1L536.12 1114.6L533.34 1113.1ZM535.63 1166.7L538.36 1167.9L538.89 1180.4L536.16 1179.2ZM536.7 1191.8L539.41 1192.9L539.91 1204.9L537.21 1203.8ZM541.31 1238.2L543.98 1239.1L544.35 1248.1L541.69 1247.2ZM542.09 1256.7L544.75 1257.6L545.12 1266.6L542.47 1265.7ZM540.59 1157L543.34 1158.2L543.85 1170.7L541.11 1169.5ZM541.61 1181.5L544.33 1182.7L544.84 1195.1L542.12 1194ZM544.83 1195.1L547.55 1196.1L548.02 1208.1L545.32 1207.1ZM547.03 1249.1L549.69 1250L550.05 1259L547.39 1258.2ZM548.49 1219.8L551.18 1220.8L551.65 1232.8L548.97 1231.9ZM552.71 1259.9L555.37 1260.7L555.72 1269.7L553.06 1268.9ZM556.57 1222.7L559.27 1223.6L559.71 1235.6L557.02 1234.7ZM555.02 1108.6L557.82 1109.9L558.4 1125.9L555.61 1124.6ZM558.83 1211.8L561.54 1212.7L561.98 1224.7L559.28 1223.8ZM559.7 1235.3L562.39 1236.2L562.74 1245.7L560.05 1244.8ZM561.37 1280.4L564.02 1281.1L564.29 1288.5L561.65 1288ZM557.83 1110.1L560.63 1111.4L561.18 1126.9L558.39 1125.6ZM566.98 1214.6L569.7 1215.5L570.11 1227.5L567.4 1226.6ZM567.71 1156.8L570.49 1157.8L570.89 1169.8L568.12 1168.8ZM570.48 1157.5L573.26 1158.5L573.65 1170.5L570.88 1169.5ZM574.04 1182.2L576.81 1183.2L577.19 1195.1L574.43 1194.3ZM576.22 1249.3L578.94 1250.1L579.22 1259.1L576.51 1258.3ZM574.24 1102.3L577.09 1103.5L577.56 1118.4L574.72 1117.3ZM587.16 1252.2L589.93 1252.9L590.19 1261.9L587.43 1261.2ZM587.95 1278.7L590.7 1279.3L590.96 1288.3L588.21 1287.7ZM588.69 1209.7L591.51 1210.5L591.83 1221.9L589.02 1221.2ZM590.87 1187.7L593.73 1188.5L594.05 1200L591.2 1199.3ZM591.57 1109.1L594.51 1110.2L594.91 1125.2L591.98 1124.2ZM598.13 1246.4L600.98 1247.1L601.2 1255.6L598.35 1254.9ZM598.82 1272.4L601.65 1273L601.88 1282L599.06 1281.4ZM600.69 1235.8L603.58 1236.4L603.86 1247.4L600.97 1246.8ZM604.08 1256.4L606.98 1257L607.19 1265.5L604.29 1264.9ZM607.58 1157.8L610.63 1158.5L610.89 1170L607.85 1169.3ZM614.22 1182.3L617.32 1183L617.55 1194L614.46 1193.4ZM615.45 1238.9L618.5 1239.5L618.73 1250.5L615.69 1249.9ZM618.91 1259L622 1259.5L622.18 1268.5L619.1 1268ZM619.1 1268L622.18 1268.5L622.35 1277L619.28 1276.5ZM626.71 1173.4L630.02 1174L630.22 1185.5L626.92 1184.9ZM627.12 1195.9L630.41 1196.5L630.61 1208L627.33 1207.4ZM634.68 1252.9L638.03 1253.3L638.17 1262.3L634.83 1261.9ZM636.82 1175.7L640.31 1176.2L640.47 1187.2L636.99 1186.7ZM638.17 1262.2L641.58 1262.7L641.7 1271.2L638.3 1270.7ZM640.47 1187.1L644.01 1187.6L644.16 1198.6L640.63 1198.1ZM641.28 1242.6L644.77 1243.1L644.93 1254.6L641.45 1254.1ZM651.83 1233.1L655.54 1233.4L655.66 1244.4L651.96 1244.1ZM655.18 1200.2L658.99 1200.5L659.1 1211.5L655.3 1211.2ZM658.67 1167.2L662.58 1167.6L662.68 1178.6L658.77 1178.2ZM658.99 1200.7L662.87 1201.1L662.97 1212.1L659.1 1211.7ZM663.5 1273.1L667.37 1273.3L667.43 1281.8L663.57 1281.6ZM666.24 1125.7L670.34 1126.1L670.43 1140.1L666.35 1139.7ZM675.2 1256.8L679.26 1257L679.3 1265.5L675.25 1265.3ZM678.88 1168.8L683.08 1168.9L683.12 1179.9L678.93 1179.8ZM683.47 1290.9L687.57 1291L687.59 1299.5L683.5 1299.4ZM691.55 1127.4L695.88 1127.4L695.88 1141.4L691.56 1141.4ZM691.69 1282.9L695.85 1282.9L695.84 1291.4L691.7 1291.4ZM700.11 1202L704.35 1201.9L704.32 1212.9L700.1 1213ZM704.38 1190.9L708.61 1190.8L708.57 1201.8L704.35 1201.9ZM713.12 1126.9L717.35 1126.6L717.27 1140.6L713.05 1140.8ZM729.47 1153.3L733.44 1152.9L733.3 1166.9L729.34 1167.3ZM728.37 1273.3L732.21 1273L732.12 1281.5L728.29 1281.8ZM736.67 1211.2L740.44 1210.8L740.3 1221.8L736.55 1222.2ZM736.18 1255.2L739.89 1254.8L739.79 1263.3L736.08 1263.7ZM744.57 1176.9L748.23 1176.4L748.07 1187.4L744.43 1187.9ZM747.12 1254L750.63 1253.6L750.5 1262.1L747 1262.5ZM746.63 1288.5L750.1 1288.1L749.97 1296.6L746.5 1297ZM755.33 1175L758.79 1174.4L758.59 1185.9L755.15 1186.5ZM754.97 1197.5L758.4 1196.9L758.21 1207.9L754.79 1208.5ZM758.6 1185.5L761.98 1184.9L761.77 1196.4L758.4 1197ZM763.15 1119.7L766.53 1118.9L766.27 1132.9L762.9 1133.7ZM764.66 1217.9L767.9 1217.3L767.67 1228.8L764.44 1229.4ZM766.37 1294.1L769.49 1293.7L769.4 1298.2L766.29 1298.6ZM775.43 1159.5L778.57 1158.8L778.31 1170.3L775.18 1171ZM773.29 1258.9L776.35 1258.4L776.16 1266.9L773.11 1267.4ZM779.16 1266.3L782.13 1265.8L781.92 1274.3L778.96 1274.8ZM778.96 1274.8L781.92 1274.3L781.71 1283.3L778.75 1283.8ZM789.86 1190.3L792.8 1189.5L792.49 1201L789.57 1201.8ZM788.19 1255.7L791.07 1255.1L790.83 1264.1L787.96 1264.7ZM794.16 1245.8L796.99 1245.2L796.76 1253.7L793.93 1254.3ZM797 1245.1L799.81 1244.4L799.55 1253.4L796.75 1254.1ZM805.77 1136.2L808.65 1135.2L808.19 1150.2L805.33 1151.2ZM801.32 1287.5L804.07 1286.9L803.88 1293L801.15 1293.4ZM809.57 1104.4L812.46 1103.3L811.98 1118.8L809.11 1119.9ZM808.51 1230.9L811.27 1230.1L810.91 1241.7L808.15 1242.4ZM812.39 1194.9L815.16 1194L814.78 1206.1L812.01 1206.9ZM812.5 1276.2L815.2 1275.5L814.91 1284.5L812.21 1285.2ZM820.01 1130.6L822.82 1129.4L822.3 1145L819.5 1146.1ZM818.32 1181.5L821.09 1180.5L820.68 1192.5L817.92 1193.5ZM823.87 1098.5L826.71 1097.2L826.17 1112.7L823.35 1114ZM820.28 1204.3L823.03 1203.4L822.63 1214.9L819.9 1215.8ZM819.1 1239.3L821.81 1238.4L821.5 1247.5L818.8 1248.3ZM826.7 1097.2L829.53 1095.9L828.98 1111.4L826.17 1112.7ZM822.63 1215L825.35 1214.1L824.95 1225.6L822.23 1226.5ZM827.88 1142.5L830.67 1141.4L830.23 1153.4L827.46 1154.5ZM823.26 1273.3L825.93 1272.6L825.61 1281.6L822.94 1282.3ZM829.36 1177.5L832.11 1176.4L831.67 1188.5L828.93 1189.5ZM839.59 1122.1L842.38 1120.7L841.77 1136.2L839 1137.5ZM834.28 1260.8L836.95 1260L836.58 1269.5L833.92 1270.3ZM843.01 1104.5L845.81 1103.1L845.17 1119.1L842.39 1120.5ZM847.3 1133.9L850.07 1132.5L849.56 1145L846.8 1146.3ZM845.69 1238.9L848.37 1238L847.97 1247.5L845.3 1248.4ZM845.3 1248.4L847.97 1247.5L847.59 1256.5L844.93 1257.4ZM854.23 1098.1L857.03 1096.5L856.33 1113L853.54 1114.5ZM851.28 1168.4L854.02 1167.2L853.51 1179.2L850.78 1180.4ZM852.47 1203.6L855.17 1202.5L854.63 1215L851.93 1216.1ZM855.58 1253.6L858.24 1252.6L857.82 1262.1L855.16 1263.1ZM866.74 1123.3L869.52 1121.7L868.92 1134.7L866.15 1136.2ZM860.91 1251.5L863.58 1250.5L863.14 1260L860.48 1261ZM863.57 1250.7L866.23 1249.6L865.81 1258.6L863.15 1259.6ZM862.71 1269.1L865.37 1268.1L864.94 1277.1L862.3 1278.1ZM867.57 1221.1L870.27 1219.9L869.81 1229.4L867.13 1230.5ZM875.38 1168.7L878.13 1167.3L877.49 1180.3L874.76 1181.6ZM878.97 1204L881.69 1202.7L881.06 1215.2L878.35 1216.4ZM890.98 1073L893.83 1070.8L892.87 1089.4L890.03 1091.4ZM885.99 1222L888.69 1220.7L888.16 1230.7L885.47 1231.9ZM891.39 1219.5L894.09 1218.2L893.55 1228.2L890.85 1229.5ZM905.34 1061.2L908.22 1058.7L907.13 1078.3L904.27 1080.6ZM914.67 1089.9L917.54 1087.7L916.66 1102.7L913.81 1104.9ZM907.69 1211L910.42 1209.6L909.84 1219.6L907.12 1221ZM912.58 1172.6L915.35 1170.9L914.55 1184.4L911.79 1186ZM916.97 1143.4L919.78 1141.5L918.94 1155.6L916.15 1157.4ZM912.91 1256.3L915.6 1254.9L915.2 1261.6L912.54 1262.6ZM926.2 1079.9L929.09 1077.4L928.13 1093L925.26 1095.4ZM921.39 1203L924.14 1201.4L923.49 1212L920.75 1213.5ZM923.52 1211.5L926.26 1209.9L925.6 1220.5L922.87 1222ZM921.63 1241.9L924.34 1240.5L923.71 1250.5L921.01 1251.9ZM937.68 1027.6L940.67 1024.2L939.2 1047.4L936.25 1050.4ZM931.99 1118.5L934.83 1116.3L933.91 1130.9L931.08 1133ZM931.08 1217.1L933.82 1215.5L933.14 1226L930.41 1227.6ZM946.19 1149.1L949.02 1147L948 1162L945.19 1164ZM945.59 1197.7L948.36 1195.9L947.61 1206.9L944.84 1208.7ZM942.72 1240.1L945.45 1238.5L944.76 1248.5L942.04 1250.1ZM947.62 1206.7L950.39 1204.9L949.66 1215.4L946.91 1217.2ZM946.91 1217.2L949.66 1215.4L948.94 1226L946.19 1227.6ZM960.34 1060.9L963.31 1057.8L962.08 1075.4L959.14 1078.3ZM950.94 1234.9L953.68 1233.3L952.94 1243.8L950.21 1245.4ZM974.42 939.3L977.78 932.1L974.93 972.1L971.74 977.3ZM954.44 1222.5L957.2 1220.8L956.45 1231.3L953.7 1233ZM968.02 1069L970.98 1065.9L969.72 1083.5L966.78 1086.4ZM956.45 1231.3L959.2 1229.6L958.44 1240.1L955.7 1241.8ZM975.84 998.4L978.97 993.8L976.87 1022.7L973.81 1026.6ZM960.75 1208L963.53 1206.2L962.73 1217.2L959.96 1219ZM969.05 1130.2L971.93 1127.8L970.79 1143.4L967.93 1145.7ZM982.26 987.2L985.43 982.1L983.1 1013.5L980.01 1017.7ZM971.96 1127.4L974.85 1124.9L973.66 1140.9L970.79 1143.3ZM980.05 1054.7L983.06 1051.3L981.63 1070.4L978.65 1073.6ZM981.65 1070.1L984.64 1066.9L983.27 1085L980.31 1088ZM979.45 1135.5L982.34 1133L981.11 1149.1L978.25 1151.5ZM985.02 1168L987.87 1165.7L986.92 1177.8L984.09 1180ZM980.56 1225.3L983.34 1223.4L982.73 1231.2L980 1232.6ZM1000.4 1006L1003.57 1001.2L1001.64 1025.5L998.54 1029.7ZM1013.69 909.4L1017.49 897.7L1012.61 958.2L1009.27 964.8ZM1006.88 994.6L1010.1 989.4L1008.02 1015.3L1004.87 1019.8ZM995.54 1170.1L998.4 1167.7L997.42 1179.8L994.58 1182ZM1002.91 1112.3L1005.86 1109.4L1004.42 1127L1001.49 1129.7ZM1020 937L1023.55 928.3L1020.27 968L1016.94 974.3ZM997.39 1212.7L1000.2 1210.6L999.27 1221.9L996.51 1223.4ZM1010.41 1087.2L1013.42 1083.9L1011.87 1102.5L1008.89 1105.6ZM1005.23 1149.8L1008.13 1147.2L1007.08 1159.8L1004.2 1162.3ZM1029.99 885.3L1034.48 866.1L1031.78 898.1L1027.91 910.2ZM1010.39 1120.1L1013.35 1117.2L1012.2 1130.8L1009.27 1133.6ZM1005.04 1184.3L1007.89 1182L1006.88 1194.1L1004.04 1196.3ZM1019.6 1075.5L1022.64 1071.9L1020.92 1092.1L1017.91 1095.3ZM1019.36 1110.3L1022.34 1107.2L1021.12 1121.3L1018.16 1124.2ZM1025.78 1067.3L1028.86 1063.5L1027.06 1084.2L1024.03 1087.7ZM1015.48 1186.6L1018.35 1184.2L1017.3 1196.3L1014.45 1198.6ZM1033.04 1015.4L1036.27 1010.4L1034.04 1035.7L1030.9 1040.1ZM1039.03 978.9L1042.4 972.5L1039.61 1004.1L1036.36 1009.3ZM1030.16 1080L1033.21 1076.4L1031.43 1096.5L1028.41 1099.9ZM1050.24 883.9L1054.9 863.9L1050.33 915.2L1046.54 925.7ZM1037.34 1029.8L1040.53 1025.1L1038.32 1049.9L1035.19 1054ZM1028.87 1125.5L1031.85 1122.4L1030.59 1136.5L1027.64 1139.4ZM1046.18 961.7L1049.68 954.2L1046.45 990L1043.13 995.8ZM1043.13 995.8L1046.45 990L1043.81 1019.5L1040.59 1024.4ZM1030.65 1135.9L1033.61 1133L1032.34 1147L1029.4 1149.8ZM1049.93 951.3L1053.51 943L1049.93 982.6L1046.57 988.8ZM1032.38 1146.6L1035.33 1143.8L1034.1 1157.3L1031.17 1160ZM1028.85 1185.9L1031.73 1183.4L1030.59 1196L1027.73 1198.4ZM1036.61 1129.5L1039.59 1126.5L1038.31 1140.6L1035.35 1143.5ZM1037.58 1177.8L1040.49 1175.1L1039.32 1187.7L1036.43 1190.2ZM1050.4 1126.5L1053.41 1123.3L1052.02 1137.9L1049.04 1140.9ZM1054.93 1107.3L1057.98 1103.8L1056.49 1119.4L1053.47 1122.7ZM1055.08 1134.1L1058.08 1131L1056.68 1145.6L1053.7 1148.6ZM1059.57 1115.5L1062.62 1112L1061.15 1127.1L1058.14 1130.4ZM1062.67 1111.4L1065.73 1107.9L1064.21 1123.5L1061.18 1126.8ZM1061.18 1126.8L1064.21 1123.5L1062.73 1138.6L1059.73 1141.7ZM1076.34 1027.8L1079.64 1022.4L1077.48 1044.2L1074.25 1049ZM1065.97 1160.3L1068.95 1157.3L1067.54 1171.4L1064.59 1174.2ZM1086.77 1006.8L1090.18 1000.7L1087.66 1025.6L1084.35 1030.9ZM1080.22 1071.9L1083.4 1067.6L1081.56 1085.7L1078.43 1089.7ZM1079.66 1131.1L1082.72 1127.7L1081.11 1143.3L1078.09 1146.5ZM1078.09 1146.5L1081.11 1143.3L1079.56 1158.3L1076.57 1161.4ZM1088.13 1075L1091.32 1070.6L1089.39 1089.3L1086.24 1093.3ZM1094.73 1064.3L1097.96 1059.6L1095.89 1079.3L1092.71 1083.6ZM1092.71 1083.6L1095.89 1079.3L1093.94 1098L1090.8 1101.9ZM1098.05 1058.8L1101.31 1054L1099.17 1074.2L1095.97 1078.6ZM1121.26 865.1L1126.28 845.1L1121.67 888.4L1117.01 905.4ZM1110 971.7L1113.68 963.5L1110.09 997.3L1106.6 1003.9ZM1093.6 1126.9L1096.69 1123.3L1094.97 1139.4L1091.92 1142.8ZM1111 1014.9L1114.45 1008.7L1111.66 1034.6L1108.31 1040ZM1114.68 1006.5L1118.19 999.9L1115.21 1027.4L1111.83 1033.1ZM1114.98 1080L1118.22 1075.4L1116.04 1095.1L1112.85 1099.3ZM1124.2 1046.3L1127.57 1040.8L1125.02 1063.6L1121.73 1068.5ZM1147.01 967.9L1150.89 958.7L1146.31 998.3L1142.7 1005.4ZM1151.68 951.9L1155.75 941.2L1150.33 987.8L1146.65 995.4ZM1141.72 1085.2L1145.02 1080.4L1142.58 1101.1L1139.35 1105.5ZM1146.12 1094.2L1149.39 1089.6L1147.86 1102.4L1144.79 1105.4ZM1158.79 1010.9L1162.43 1003.7L1158.7 1034.8L1155.22 1040.8ZM1184.55 960.4L1188.71 949.7L1182.65 998.2L1178.9 1005.9ZM1186.77 1053.5L1190.3 1047.4L1189.83 1051.1L1186.59 1054.8ZM1199.27 999.4L1203.14 991.1L1198.23 1028.9L1194.59 1035.6ZM1219.17 975.8L1223.35 965.7L1219.15 997L1215.25 1005.2ZM1229.09 922.9L1234.25 905.8L1224.05 981.3L1220.01 990.5ZM1225.22 972.7L1229.47 962.1L1224.66 997.5L1221.22 1002.3ZM1248.81 944.8L1253.61 930.8L1252.54 938.4L1247.87 951.6Z"/>
<path fill="#0074ee" d="M487.19 981.5L489.63 984.5L490.85 1007.8L488.44 1005.2ZM489.64 984.8L492.07 987.6L493.26 1010.5L490.86 1008ZM498.07 1016L500.46 1018.3L501.48 1038.7L499.12 1036.6ZM507.6 1025.3L509.96 1027.4L510.89 1046.8L508.55 1044.9ZM514.7 982.7L517.12 985.3L518.51 1016.1L516.14 1013.9ZM517.04 1033.5L519.4 1035.5L520.25 1054.4L517.92 1052.6ZM525.3 961.7L527.74 964.5L529.15 997.7L526.75 995.5ZM527.74 964.5L530.18 967.2L531.55 999.9L529.15 997.7ZM528.54 928.1L531.04 931.8L532.63 970.2L530.19 967.6ZM537.47 1032.1L539.84 1033.8L540.56 1051.7L538.21 1050.1ZM541.84 905.3L544.4 909.7L546 951.9L543.52 949.1ZM547.26 985.5L549.7 987.6L550.75 1015.9L548.34 1014.1ZM549.99 1057.8L552.36 1059.2L552.97 1075.7L550.62 1074.4ZM569.49 1003.2L572.02 1004.9L572.84 1030.8L570.33 1029.3ZM571.13 1053.9L573.61 1055.2L574.11 1071.2L571.64 1070ZM570.37 871L573.17 877.5L574.25 913L571.56 909.4ZM581.25 881.5L584.11 886.7L585.19 926.1L582.43 923.1ZM586.91 988L589.63 989.8L590.34 1016.2L587.64 1014.7ZM586.86 886.9L589.77 891.5L589.8 892.9L586.9 888.4ZM588.87 961.6L591.66 963.7L592.39 991.5L589.63 989.8ZM593.08 1017.8L595.86 1019.2L596.47 1043.2L593.71 1041.9ZM594.73 1080.5L597.45 1081.6L597.83 1096.5L595.12 1095.5ZM611.42 1071.7L614.46 1072.7L614.76 1087.2L611.73 1086.2ZM632.36 960.6L636.08 962.3L636.46 987.6L632.77 986.3ZM636.82 1012L640.58 1013.1L640.91 1036.1L637.17 1035.1ZM641.52 1079.8L645.31 1080.5L645.5 1095L641.72 1094.3ZM652.23 992.5L656.44 993.5L656.67 1016.9L652.49 1016.1ZM652.49 1016.1L656.67 1016.9L656.89 1039.4L652.73 1038.6ZM652.98 1060.6L657.1 1061.3L657.31 1082.3L653.21 1081.7ZM660.75 994.4L665.16 995.2L665.34 1018.7L660.95 1017.9ZM674.26 996.6L678.93 997.1L679.03 1020.1L674.38 1019.6ZM678.74 949.1L683.53 949.7L683.6 974.1L678.84 973.7ZM688.5 1020.8L693.3 1020.9L693.3 1042.9L688.54 1042.8ZM688.63 1099.3L693.33 1099.4L693.34 1113.4L688.66 1113.3ZM698.18 925.4L703.11 925.2L703.06 950.2L698.16 950.4ZM698.14 974.4L703.01 974.2L702.96 997.7L698.12 997.9ZM702.96 997.6L707.78 997.3L707.7 1020.3L702.91 1020.6ZM702.91 1020.6L707.7 1020.3L707.63 1042.9L702.87 1043.1ZM708.15 883.3L713.07 881.9L712.88 923.7L708.02 924.5ZM707.93 949.4L712.77 948.8L712.66 973.3L707.85 973.8ZM707.85 973.8L712.66 973.3L712.55 997.4L707.78 997.8ZM717.92 883.7L722.71 881.6L722.44 921.5L717.7 922.7ZM725.67 1097.4L730.02 1096.9L729.89 1110.9L725.56 1111.4ZM732.06 876L736.59 872.4L736.14 916.3L731.67 918.2ZM756.9 903.9L760.75 900.7L760.24 931.7L756.44 933.9ZM760.23 931.9L763.94 929.6L763.45 957.9L759.78 959.7ZM768.16 893.3L771.74 889.3L771.07 924.5L767.55 927.1ZM766.08 1007.5L769.51 1006.1L769.05 1030.2L765.64 1031.4ZM768.19 1074.8L771.47 1073.8L771.18 1088.3L767.92 1089.2ZM771.47 1073.9L774.67 1072.9L774.37 1087.5L771.18 1088.4ZM776.66 977.5L779.88 975.8L779.31 1001.9L776.12 1003.4ZM782.44 1000L785.5 998.4L784.92 1023.5L781.88 1024.9ZM786.12 971.9L789.15 970L788.5 997.1L785.5 998.7ZM784.92 1023.6L787.9 1022.2L787.33 1045.8L784.38 1047ZM794.53 870.8L797.65 863.7L796.78 897.8L793.76 901.7ZM797.08 886.1L800.1 881L799.77 893.4L796.79 897.6ZM795.83 935.3L798.75 932.7L797.93 964L795.05 966ZM797.61 1079.2L800.3 1078.1L799.87 1093.7L797.2 1094.7ZM804.48 926.4L807.29 923.4L806.33 957.3L803.57 959.5ZM810.88 983L813.52 981.1L812.7 1008.2L810.08 1009.9ZM816.4 885.8L819.19 880.3L818.28 909.7L815.57 913.4ZM812.77 1088L815.27 1086.9L814.78 1102.5L812.3 1103.5ZM819.76 944.6L822.38 941.9L821.33 974.7L818.75 976.8ZM820.21 1084.7L822.65 1083.5L822.13 1099.1L819.7 1100.2ZM840.48 918.1L843.05 914.2L841.54 954.8L839.04 957.5ZM839.26 1016.1L841.68 1014.3L840.7 1040.4L838.3 1042ZM842.78 985.1L845.23 982.9L844.11 1012.1L841.7 1013.9ZM841.7 1013.9L844.11 1012.1L843.07 1039.2L840.68 1040.8ZM846.54 948.8L849.02 945.8L847.67 980.6L845.23 982.9ZM850.81 899.9L853.41 894.7L851.51 942.8L849.02 945.8ZM844.13 1071.5L846.47 1070.1L845.8 1087.1L843.47 1088.4ZM850.12 977.9L852.56 975.5L851.33 1006.2L848.92 1008.2ZM851.17 1067L853.5 1065.5L852.8 1082.6L850.48 1084ZM859.89 967.3L862.34 964.6L860.94 997.3L858.54 999.5ZM862.33 964.6L864.78 961.7L863.34 995L860.94 997.3ZM864.45 1022.3L866.82 1020.3L865.98 1039.4L863.63 1041.2ZM869.71 955.2L872.17 952L870.56 987.9L868.15 990.3ZM874.37 903.1L876.97 897.5L874.67 948.1L872.2 951.4ZM872.2 951.4L874.67 948.1L872.99 985L870.58 987.5ZM884.9 1022.5L887.28 1020.3L886.28 1040.4L883.93 1042.4ZM898.86 881.2L901.69 871.9L900.35 897.9L897.7 904.2ZM897.56 952.2L900.06 948.5L898.01 988L895.59 990.8ZM905.16 939.2L907.7 934.9L905.39 978L902.94 981.1ZM907.69 1019.5L910.09 1017L908.89 1038.7L906.52 1040.9ZM918.01 874L921.04 861.7L918.26 911.5L915.61 917.2ZM911.4 993.3L913.84 990.4L912.51 1014.1L910.11 1016.6ZM917.37 1008.4L919.79 1005.6L918.49 1028.3L916.09 1030.7ZM931.47 884.4L934.42 874.2L930.77 935.4L928.18 940.2ZM933.5 928.5L936.14 923L933.91 959.8L931.38 963.7ZM974.08 876.9L977.46 862.1L975.29 893L972.34 902ZM975.59 888.8L978.73 877.4L974.25 940.9L971.57 946.3ZM979.27 869.7L982.98 850.6L977.07 933.7L974.35 939.5ZM990.95 870.4L994.76 850.8L992.68 878.8L989.49 890.4ZM156.96 917.3L161.86 932.6L168.32 980.6L164.18 970.7ZM173.4 976.6L177.45 985.9L182.21 1022L178.85 1017.6ZM160.8 860.1L166.33 880.1L171.53 919.6L166.36 902.1ZM185.87 920.3L190.51 934.4L198.23 995.1L194.36 986.7ZM195.79 953.7L199.94 964.2L201.71 978.2L197.71 968.9ZM205.85 966.4L209.83 975.8L214.76 1015.7L211.08 1008.5ZM214.88 994L218.62 1001.7L222.63 1034.6L219.08 1028.2ZM219.09 1005.6L222.75 1012.7L226.39 1042.7L222.88 1036.6ZM216.77 868.4L222.02 888.4L226.8 929L222.32 915.3ZM227.67 912.2L232.17 926.3L238.65 982L234.86 973.5ZM242.52 1038.9L245.95 1044.6L248.71 1068.3L245.37 1063.2ZM248.14 916.4L252.43 929.3L254.28 945.9L250.23 935ZM250.23 935L254.28 945.9L259.06 988.8L255.4 981.1ZM259.01 1013.3L262.49 1019.6L265.35 1045.2L261.97 1039.7ZM269.11 1103.4L272.29 1107.5L274.28 1125.4L271.15 1121.5ZM275.65 986.8L279.21 993.9L282.18 1021.8L278.77 1015.8ZM287.87 1100.8L291.02 1104.8L292.87 1122.2L289.76 1118.5ZM294.3 1110.2L297.41 1113.9L299.13 1130.3L296.06 1126.8ZM283.81 984.4L287.35 991.5L290.21 1018.9L286.81 1013ZM287.55 993.4L291.03 1000L293.73 1026L290.36 1020.3ZM300.64 1118.9L303.72 1122.5L305.37 1138.4L302.32 1135ZM305.24 1110.9L308.33 1114.6L309.95 1130.5L306.9 1127ZM291.04 945.4L294.8 954.5L299.18 997.7L295.72 991.1ZM299.36 999.4L302.77 1005.6L305.2 1029.7L301.88 1024.3ZM312.69 1076.9L315.84 1081L317.56 1098.4L314.46 1094.6ZM313.82 1004.5L317.18 1010.3L320 1039.4L316.75 1034.5ZM317.34 1012L320.66 1017.5L323.32 1045.1L320.1 1040.4ZM331.55 1130.6L334.56 1133.7L335.94 1148.2L332.96 1145.1ZM331.66 1103.5L334.71 1107L336.18 1122.4L333.16 1119.1ZM336.22 1122.8L339.23 1126L340.59 1140.5L337.6 1137.4ZM337.6 1137.4L340.59 1140.5L341.95 1154.9L338.99 1152ZM343.27 1168.9L346.19 1171.6L347.4 1184.5L344.5 1181.9ZM332.2 992.1L335.55 998.1L338.17 1026.6L334.94 1021.6ZM356.48 1107.3L359.48 1110.5L360.75 1124.9L357.78 1121.9ZM360.25 1149.6L363.18 1152.3L364.32 1165.2L361.41 1162.6ZM358.51 939.5L362.03 947.5L365.02 983L361.7 977ZM361.7 977L365.02 983L367.42 1011.5L364.21 1006.5ZM364.21 1006.5L367.42 1011.5L369.49 1036.1L366.36 1031.8ZM368.51 991.1L371.75 996.5L373.91 1022.6L370.75 1018ZM370.75 1018L373.91 1022.6L375.84 1045.9L372.74 1041.8ZM360.89 865.3L365.35 884.5L369.56 935.8L366 927.1ZM382.27 1123.5L385.2 1126.3L386.26 1139.3L383.35 1136.6ZM386.51 1174.8L389.37 1177.1L390.35 1189L387.51 1186.8ZM389.46 1210.4L392.27 1212.5L393.07 1222.2L390.31 1220.7ZM369.76 938.3L373.24 946.1L376.05 980.6L372.76 974.7ZM389.37 1177L392.22 1179.3L393.19 1191.3L390.35 1189.1ZM378.38 1009.3L381.55 1014L383.42 1037.2L380.32 1033.1ZM376.18 912L379.81 921.9L383.71 971L380.4 964.9ZM389.8 1082.4L392.78 1085.6L394.24 1103.9L391.28 1101ZM376.17 875.9L380.27 891.4L383.57 933.4L380.05 924.9ZM399.87 1175L402.72 1177.3L403.62 1188.7L400.79 1186.6ZM401.7 1198.1L404.52 1200.2L405.42 1211.7L402.62 1209.7ZM389.26 1005.9L392.41 1010.6L394.22 1033.8L391.13 1029.7ZM391.13 1029.7L394.22 1033.8L395.84 1054.6L392.8 1050.9ZM390.48 985.7L393.68 990.9L395.58 1015.5L392.45 1011ZM397.36 1074.2L400.35 1077.4L401.77 1095.8L398.81 1092.8ZM400.18 1110.4L403.11 1113.2L404.37 1129.6L401.47 1127ZM395.65 1016.4L398.76 1020.7L400.42 1042.4L397.36 1038.6ZM409.44 1160.6L412.29 1162.8L413.19 1174.8L410.36 1172.6ZM397.61 968.8L400.85 974.5L403.32 1007.4L400.19 1002.9ZM413.12 1138.2L415.99 1140.6L417.14 1156.1L414.29 1153.8ZM417.14 1156.1L419.98 1158.3L420.83 1169.8L418 1167.6ZM424.93 1225.5L427.69 1227.3L428.49 1238.3L425.74 1236.6ZM412.74 1022L415.8 1025.9L417.27 1046.2L414.25 1042.7ZM420.33 1050.5L423.32 1053.8L424.58 1071.7L421.63 1068.6ZM427.47 1150.5L430.31 1152.7L431.33 1167.2L428.51 1165.1ZM435.73 1191.8L438.51 1193.7L439.27 1204.7L436.5 1202.9ZM438.53 1194L441.31 1195.8L442.03 1206.3L439.26 1204.5ZM435.71 1114L438.59 1116.5L439.63 1131.9L436.78 1129.6ZM438.81 1159.2L441.62 1161.3L442.6 1175.7L439.8 1173.8ZM447.58 1210.2L450.34 1211.9L451.03 1222.3L448.29 1220.7ZM451.04 1222.4L453.78 1224L454.43 1234L451.7 1232.5ZM452.4 1243L455.12 1244.5L455.7 1253.3L453.01 1252.2ZM448.06 1095.4L450.94 1097.8L451.93 1113.3L449.07 1110.9ZM462.63 1239L465.34 1240.5L465.97 1250.5L463.26 1249ZM456.71 1103L459.58 1105.3L460.5 1120.3L457.66 1118.1ZM461.25 1175.3L464.03 1177.1L464.89 1191L462.13 1189.3ZM462.44 1107.8L465.29 1110L466.2 1124.9L463.37 1122.8ZM475.57 1236.2L478.28 1237.6L478.87 1247.6L476.17 1246.3ZM470.14 1100.2L472.99 1102.4L473.84 1116.8L471 1114.7ZM483.2 1040.5L486.11 1043.2L487.19 1063.1L484.3 1060.6ZM487.94 1126.9L490.74 1128.8L491.5 1142.7L488.71 1141ZM489.46 1154.5L492.23 1156.2L492.93 1169.2L490.17 1167.6ZM499.32 1238.7L502.01 1239.9L502.51 1249.4L499.83 1248.2ZM498.44 1172.3L501.19 1173.8L501.86 1186.7L499.13 1185.3ZM506.68 1176.8L509.42 1178.2L510.07 1191.2L507.34 1189.8ZM511.31 1216.2L514.02 1217.4L514.48 1226.9L511.79 1225.7ZM515.52 1194.1L518.24 1195.4L518.84 1207.8L516.13 1206.6ZM517.73 1069.6L520.57 1071.6L521.39 1089.5L518.57 1087.7ZM526.97 1269.1L529.61 1270.1L530.02 1279.1L527.38 1278.1ZM534.1 1253.6L536.76 1254.5L537.15 1263.5L534.49 1262.6ZM536.36 1245.4L539.03 1246.4L539.41 1255.4L536.75 1254.4ZM537.21 1203.8L539.91 1204.9L540.42 1216.8L537.72 1215.8ZM536.12 1114.4L538.9 1115.9L539.58 1132.3L536.81 1131ZM538.37 1168L541.1 1169.3L541.62 1181.7L538.89 1180.6ZM540.91 1228.7L543.59 1229.7L543.98 1239.1L541.31 1238.2ZM551.65 1232.8L554.34 1233.8L554.68 1242.8L552.01 1241.9ZM548.81 1089.6L551.62 1091.1L552.22 1107.1L549.42 1105.7ZM552.06 1174.3L554.79 1175.4L555.24 1187.4L552.52 1186.3ZM558.04 1261.7L560.71 1262.6L561.04 1271.5L558.38 1270.7ZM558.39 1125.6L561.18 1126.9L561.73 1142.3L558.95 1141.2ZM562.16 1154.4L564.93 1155.5L565.34 1167.5L562.58 1166.4ZM571.11 1256.9L573.81 1257.7L574.11 1266.7L571.42 1265.9ZM572.06 1205.1L574.81 1206L575.18 1217.5L572.44 1216.6ZM572.83 1228.1L575.55 1228.9L575.93 1240.4L573.21 1239.6ZM574.43 1194.3L577.19 1195.1L577.56 1206.6L574.8 1205.8ZM576.8 1267.3L579.51 1268.1L579.78 1276.5L577.08 1275.9ZM577.37 1284.9L580.07 1285.5L580.25 1291.5L577.57 1290.9ZM579.96 1195.6L582.74 1196.5L583.11 1208.5L580.33 1207.6ZM582.77 1286.2L585.48 1286.9L585.66 1292.8L582.96 1292.3ZM596.48 1289.4L599.28 1290L599.41 1294.9L596.62 1294.4ZM598.59 1263.9L601.43 1264.5L601.65 1273L598.82 1272.4ZM599.28 1290L602.1 1290.5L602.23 1295.5L599.42 1295ZM601.21 1255.8L604.08 1256.4L604.29 1264.9L601.43 1264.3ZM609.91 1257.4L612.87 1257.9L613.07 1266.9L610.12 1266.4ZM612.42 1238L615.44 1238.6L615.69 1250.1L612.68 1249.5ZM613.27 1275.6L616.25 1276.1L616.44 1284.6L613.46 1284.1ZM615.94 1116.9L619.15 1117.7L619.44 1132.2L616.24 1131.4ZM618.73 1250.5L621.82 1251.1L622 1259.5L618.91 1259ZM620.7 1195.1L623.89 1195.7L624.1 1206.7L620.92 1206.1ZM628.15 1252L631.38 1252.5L631.53 1261L628.3 1260.5ZM635.25 1287.4L638.57 1287.8L638.7 1296.3L635.39 1295.9ZM637.16 1197.7L640.63 1198.2L640.8 1209.7L637.34 1209.2ZM644.62 1232.2L648.19 1232.6L648.33 1243.6L644.78 1243.2ZM648.48 1254.8L652.09 1255.2L652.19 1263.7L648.59 1263.3ZM651.18 1177.5L654.94 1178L655.06 1189L651.31 1188.5ZM658.89 1189.7L662.78 1190.1L662.87 1201.1L658.99 1200.7ZM662.46 1153.5L666.46 1153.9L666.57 1167.9L662.58 1167.5ZM667.15 1245.3L671.12 1245.5L671.19 1256.5L667.24 1256.3ZM670.52 1154.4L674.64 1154.7L674.72 1168.6L670.61 1168.4ZM674.9 1201.8L679.02 1202L679.07 1213L674.96 1212.8ZM687.27 1141.4L691.57 1141.5L691.58 1155.5L687.3 1155.4ZM691.62 1202.4L695.86 1202.4L695.86 1213.4L691.63 1213.4ZM691.65 1235.4L695.86 1235.4L695.85 1246.4L691.66 1246.4ZM700.08 1224L704.3 1223.9L704.27 1234.9L700.07 1235ZM708.49 1224.2L712.65 1224L712.6 1235L708.45 1235.2ZM708.31 1274.2L712.41 1274L712.37 1282.5L708.27 1282.7ZM712.99 1154.8L717.19 1154.6L717.1 1168.6L712.92 1168.8ZM717.04 1179.5L721.17 1179.2L721.09 1190.2L716.98 1190.5ZM725.24 1178.8L729.24 1178.4L729.14 1189.9L725.14 1190.3ZM724.87 1223.2L728.83 1222.9L728.73 1233.9L724.78 1234.2ZM724.78 1234.2L728.73 1233.9L728.63 1244.9L724.7 1245.2ZM724.7 1245.2L728.63 1244.9L728.53 1255.9L724.61 1256.2ZM732.73 1222.3L736.55 1221.9L736.42 1233.4L732.61 1233.8ZM740.17 1232.6L743.84 1232.2L743.68 1243.7L740.03 1244.1ZM747.43 1232L750.96 1231.6L750.8 1242.6L747.28 1243ZM746.88 1271L750.37 1270.6L750.23 1279.6L746.75 1280ZM750.97 1231.4L754.43 1230.9L754.25 1241.9L750.8 1242.4ZM750.62 1253.9L754.06 1253.4L753.93 1261.9L750.49 1262.4ZM761.77 1196.1L765.08 1195.5L764.87 1207L761.57 1207.6ZM760.77 1252.1L764.02 1251.6L763.85 1260.6L760.6 1261.1ZM764.24 1240.4L767.45 1239.8L767.22 1251.3L764.02 1251.9ZM766.88 1268.7L770.02 1268.1L769.84 1276.7L766.71 1277.2ZM772.54 1146L775.74 1145.3L775.42 1159.8L772.24 1160.5ZM771.54 1194.5L774.69 1193.8L774.46 1204.8L771.31 1205.5ZM779.22 1129.7L782.34 1128.8L782.01 1143.4L778.9 1144.2ZM778.9 1144.2L782.01 1143.4L781.66 1158.4L778.56 1159.2ZM783.63 1202.9L786.62 1202.2L786.34 1213.7L783.36 1214.4ZM794.49 1125.1L797.46 1124.1L797.05 1139.2L794.1 1140.1ZM791.07 1254.9L793.93 1254.3L793.68 1263.3L790.84 1263.9ZM797.46 1124L800.4 1123L799.98 1138L797.06 1139ZM793.93 1254.3L796.76 1253.7L796.51 1262.7L793.68 1263.3ZM793.21 1280.8L796.02 1280.2L795.78 1288.7L792.98 1289.3ZM800.47 1221.6L803.28 1220.9L802.94 1232.4L800.14 1233.1ZM800.14 1233.1L802.94 1232.4L802.61 1243.9L799.81 1244.6ZM799.31 1262.1L802.09 1261.4L801.84 1269.9L799.06 1270.6ZM798.81 1279.6L801.57 1278.9L801.31 1287.9L798.55 1288.5ZM803.63 1209.1L806.44 1208.3L806.09 1219.8L803.29 1220.6ZM803.29 1220.6L806.09 1219.8L805.74 1231.3L802.95 1232.1ZM802.35 1252.6L805.12 1251.9L804.85 1260.9L802.09 1261.5ZM804.6 1269.2L807.35 1268.5L807.07 1277.5L804.33 1278.2ZM810.32 1172.5L813.13 1171.6L812.75 1183.6L809.94 1184.5ZM808.15 1242.4L810.91 1241.7L810.64 1250.2L807.89 1250.9ZM807.61 1259.9L810.35 1259.2L810.06 1268.2L807.33 1268.9ZM816.31 1158.8L819.11 1157.8L818.71 1169.8L815.92 1170.8ZM815.92 1170.8L818.71 1169.8L818.33 1181.4L815.55 1182.3ZM814.02 1229.2L816.76 1228.4L816.38 1239.9L813.65 1240.7ZM814.91 1284.4L817.59 1283.7L817.37 1290.2L814.7 1290.8ZM819.51 1227.3L822.23 1226.4L821.81 1238.4L819.1 1239.3ZM826.17 1112.7L828.98 1111.4L828.43 1126.9L825.63 1128.2ZM831.24 1200.1L833.96 1199.1L833.51 1211.1L830.8 1212.1ZM834.41 1187.2L837.14 1186.1L836.68 1198.1L833.96 1199.1ZM832.63 1234.6L835.32 1233.7L834.96 1243.2L832.27 1244.1ZM840.2 1106.1L843 1104.7L842.38 1120.7L839.59 1122.1ZM835.31 1233.8L838 1232.9L837.65 1241.9L834.97 1242.8ZM834.63 1251.8L837.3 1250.9L836.95 1260L834.28 1260.8ZM842.39 1120.5L845.17 1119.1L844.53 1135.2L841.76 1136.5ZM852.1 1083.3L854.92 1081.6L854.22 1098.2L851.42 1099.7ZM850.09 1132.1L852.86 1130.8L852.33 1143.3L849.57 1144.6ZM853.51 1179.2L856.24 1178L855.69 1190.5L852.98 1191.6ZM866.23 1074.1L869.06 1072.2L868.26 1089.8L865.45 1091.6ZM860.58 1200.3L863.29 1199.1L862.72 1211.6L860.03 1212.7ZM862.3 1278.1L864.94 1277.1L864.87 1278.8L862.24 1279.5ZM865.37 1268L868.03 1267L867.57 1276.5L864.93 1277.5ZM864.93 1277.5L867.57 1276.5L867.5 1278.1L864.86 1278.9ZM870.22 1275.5L872.87 1274.5L872.76 1276.6L870.13 1277.4ZM879.6 1191.5L882.32 1190.1L881.69 1202.7L878.97 1204ZM878.64 1263L881.31 1261.9L880.85 1270.9L878.19 1271.9ZM884.42 1201.1L887.14 1199.8L886.49 1212.3L883.78 1213.6ZM894.83 1051.5L897.72 1049.1L896.69 1068.7L893.83 1070.9ZM896.7 1068.4L899.57 1066.1L898.55 1085.2L895.71 1087.3ZM898.57 1084.9L901.42 1082.8L900.41 1101.4L897.58 1103.4ZM898.91 1129.1L901.71 1127.3L900.94 1141.3L898.16 1143ZM904.27 1080.6L907.13 1078.3L906.1 1096.9L903.26 1099ZM897.34 1207.1L900.06 1205.7L899.53 1215.2L896.82 1216.6ZM895.21 1246.1L897.89 1244.8L897.36 1254.3L894.69 1255.5ZM904.53 1125.2L907.34 1123.3L906.55 1137.3L903.76 1139.2ZM898.97 1225.4L901.68 1224.1L901.14 1233.6L898.44 1234.9ZM918.63 1205L921.37 1203.4L920.76 1213.4L918.03 1214.9ZM923.68 1165.6L926.47 1163.8L925.63 1177.4L922.86 1179.1ZM942.3 998.6L945.35 994.5L943.7 1020.3L940.7 1023.8ZM940.7 1023.8L943.7 1020.3L942.18 1044L939.22 1047.1ZM929 1208.4L931.75 1206.8L931.07 1217.3L928.33 1218.9ZM939.74 1082.1L942.64 1079.5L941.6 1095.6L938.72 1098ZM932.43 1196.2L935.19 1194.5L934.51 1205L931.75 1206.6ZM945.19 1040.2L948.17 1036.9L946.65 1060.1L943.71 1063ZM949.8 1012L952.84 1008.1L951.17 1033.4L948.18 1036.7ZM952.88 1007.5L955.94 1003.5L954.18 1029.8L951.18 1033.2ZM951.18 1033.2L954.18 1029.8L952.59 1053.5L949.63 1056.5ZM945.32 1121.7L948.18 1119.4L947.17 1134.4L944.33 1136.6ZM940.04 1201.4L942.8 1199.6L942.1 1210.2L939.35 1211.8ZM957.94 973.6L961.1 968.5L959.04 998.9L955.97 1003.1ZM955.59 1049.9L958.57 1046.7L957.36 1064.3L954.41 1067.3ZM953.96 1114L956.84 1111.6L955.77 1127.1L952.91 1129.5ZM948.37 1195.7L951.15 1193.9L950.39 1204.9L947.62 1206.7ZM951.16 1193.8L953.94 1192L953.17 1203L950.4 1204.8ZM951.67 1224.5L954.43 1222.7L953.68 1233.3L950.94 1234.9ZM957.5 1179.2L960.31 1177.2L959.52 1188.2L956.73 1190.1ZM953.7 1233L956.45 1231.3L955.7 1241.9L952.96 1243.5ZM978.24 965L981.49 959.2L978.97 993.8L975.84 998.4ZM966.17 1132.8L969.04 1130.4L967.91 1146L965.06 1148.2ZM958.45 1240L961.2 1238.3L960.93 1242L958.22 1243.2ZM976.92 1022L979.99 1018L978.43 1039.2L975.41 1042.8ZM966.81 1161.1L969.65 1158.9L968.8 1170.5L965.98 1172.6ZM975.68 1076.7L978.65 1073.6L977.31 1091.7L974.37 1094.5ZM970.79 1143.3L973.66 1140.9L972.5 1156.5L969.66 1158.7ZM965.53 1215L968.3 1213.2L967.48 1224.2L964.72 1226ZM969.95 1191L972.76 1189L971.93 1200L969.14 1202ZM971.93 1200L974.73 1198L973.9 1209L971.11 1210.9ZM987.74 1025.8L990.83 1021.7L989.21 1043L986.17 1046.6ZM1004.94 874.5L1009.38 854.5L1007.81 874.7L1003.73 890.3ZM992.32 1038.4L995.39 1034.5L993.78 1055.2L990.76 1058.7ZM989.5 1110.3L992.44 1107.5L991.1 1124.6L988.19 1127.2ZM1002.52 979L1005.78 973.2L1003.57 1001.2L1000.4 1006ZM995.31 1070.8L998.33 1067.4L996.81 1086.5L993.84 1089.6ZM999.85 1082.6L1002.85 1079.4L1001.35 1098L998.38 1101ZM1012.75 956.4L1016.15 949.4L1013.45 982.6L1010.2 988.2ZM997.55 1145.2L1000.44 1142.6L999.42 1155.2L996.54 1157.6ZM1001.49 1129.7L1004.42 1127L1003.35 1140.1L1000.44 1142.7ZM1016.94 974.3L1020.27 968L1017.78 998.1L1014.57 1003.2ZM1006.3 1136.9L1009.22 1134.2L1008.13 1147.2L1005.23 1149.8ZM1016.93 1041.8L1020.05 1037.6L1018.22 1059.3L1015.16 1063.1ZM1013.42 1210.5L1016.25 1208.3L1015.92 1212.1L1013.14 1213.7ZM1017.32 1196.1L1020.18 1193.7L1019.08 1206.3L1016.24 1208.5ZM1039.73 1002.7L1043.02 997.2L1040.53 1025.1L1037.34 1029.8ZM1050.64 1005.6L1053.94 1000L1051.33 1028.4L1048.12 1033.2ZM1042.37 1096L1045.42 1092.5L1043.99 1108.1L1040.97 1111.4ZM1051.41 1027.4L1054.65 1022.5L1052.25 1048.3L1049.09 1052.6ZM1045.49 1091.8L1048.56 1088.1L1047.06 1104.3L1044.03 1107.6ZM1039.32 1187.7L1042.22 1185.2L1041.25 1195.5L1038.43 1197.3ZM1058.12 1015L1061.42 1009.6L1058.79 1037.4L1055.59 1042.1ZM1043.48 1171.6L1046.41 1168.9L1045.13 1182.5L1042.23 1185.1ZM1073.44 881.9L1078.21 861.9L1073.25 914.3L1069.33 925.6ZM1064.72 974.5L1068.21 967.3L1064.87 1002.6L1061.54 1008.3ZM1061.25 1069.6L1064.39 1065.5L1062.69 1083.1L1059.59 1087ZM1062.73 1082.7L1065.84 1078.8L1064.23 1095.4L1061.15 1099.1ZM1070.45 1115.1L1073.52 1111.5L1071.91 1127.6L1068.88 1131ZM1075.08 1123L1078.14 1119.5L1076.56 1135.1L1073.53 1138.4ZM1094.71 956L1098.45 947L1093.84 992.2L1090.38 998.7ZM1102.21 992.4L1105.74 985.4L1102.75 1014L1099.35 1019.9ZM1090.8 1101.9L1093.94 1098L1092.14 1115.1L1089.05 1118.8ZM1106.04 982.6L1109.64 975.1L1106.4 1005.8L1102.96 1012ZM1095.38 1110L1098.51 1106.2L1096.69 1123.3L1093.6 1126.9ZM1095 1139.2L1098.07 1135.7L1096.4 1151.3L1093.36 1154.6ZM1116.25 1043.2L1119.61 1037.8L1117.11 1060.6L1113.83 1065.5ZM1117.26 1059.2L1120.57 1054.2L1118.22 1075.4L1114.98 1080ZM1133.83 934.4L1138.02 922.2L1134.47 954.1L1130.62 963.3ZM1116.12 1094.4L1119.33 1090.1L1117.25 1108.7L1114.09 1112.7ZM1135.16 947.9L1139.19 937.2L1134.14 982.2L1130.49 989.8ZM1115.33 1125.9L1118.46 1122.1L1117.15 1133.8L1114.17 1136.3ZM1118.54 1121.4L1121.68 1117.5L1120.14 1131.2L1117.15 1133.8ZM1143.42 949.9L1147.47 939.3L1142.27 984.8L1138.6 992.4ZM1138.6 992.4L1142.27 984.8L1138.53 1017.5L1135.04 1023.7ZM1132.13 1049.3L1135.52 1043.9L1132.86 1067.2L1129.56 1072ZM1133.01 1065.8L1136.34 1060.8L1133.84 1082.5L1130.58 1087.1ZM1173.75 933L1178.24 919.5L1170.82 980.6L1167.01 988.9ZM1170.81 1026.3L1174.41 1019.6L1170.77 1049.1L1167.31 1054.9ZM1178.9 1050.3L1182.42 1044.3L1179.92 1064L1176.73 1067.6ZM1192.75 962.5L1196.93 951.8L1190.63 1001.4L1186.87 1009ZM1182.72 1041.9L1186.29 1035.5L1183.19 1059.9L1179.99 1063.5ZM1237.22 926L1242.37 909.2L1232.06 984.3L1228.56 989.4ZM1233.31 975.2L1237.57 964.7L1235.83 977.4L1232.3 982.6Z"/>
<path fill="#0093fe" d="M488.44 1005.2L490.85 1007.8L492 1029.6L489.62 1027.4ZM510.47 941.2L512.96 944.8L514.68 982.3L512.27 979.6ZM523.48 919.5L526 923.7L527.74 964.5L525.3 961.7ZM526.01 923.9L528.52 927.8L530.18 967.2L527.74 964.5ZM531.33 881.2L533.98 887.7L536.04 939.1L533.55 935.7ZM536.35 1004.4L538.74 1006.4L539.84 1033.8L537.47 1032.1ZM533.99 888L536.61 893.8L538.53 942.5L536.05 939.3ZM538.53 942.5L541.01 945.6L542.38 980.7L539.95 978.4ZM538.68 885.7L541.31 891.6L541.83 905L539.25 900.3ZM544.41 910L546.97 914.1L548.48 954.9L546 952.2ZM548.34 1014.1L550.75 1015.9L551.73 1042.3L549.35 1040.7ZM557.21 929.3L559.77 932.5L560.97 967.6L558.46 965.3ZM572.85 867L575.69 874L576.96 916.7L574.26 913.3ZM574.26 913.3L576.96 916.7L578.01 952.2L575.36 949.8ZM612.98 1002.8L616.15 1004.2L616.65 1028.6L613.5 1027.4ZM615.63 978.5L618.9 980.2L619.39 1005.5L616.15 1004.1ZM629.17 984.8L632.77 986.2L633.15 1010.6L629.58 1009.4ZM647.52 940.8L651.68 942.5L651.96 968.3L647.84 967ZM660.53 970.3L664.97 971.3L665.16 995.2L660.75 994.4ZM673.87 922.9L678.63 923.8L678.74 949.2L674 948.5ZM693.27 974.7L698.14 974.7L698.12 998.2L693.29 998.2ZM693.29 998.2L698.12 998.2L698.11 1020.7L693.29 1020.7ZM693.34 1113.2L698.03 1113.2L698.02 1127.2L693.34 1127.2ZM708.02 924.5L712.88 923.7L712.77 948.8L707.93 949.4ZM712.45 1020.3L717.14 1019.8L717.02 1041.8L712.35 1042.3ZM722.09 972.2L726.69 971.3L726.49 995.3L721.92 996.1ZM721.92 996.1L726.49 995.3L726.31 1018.4L721.77 1019.1ZM731.42 944.9L735.86 943.5L735.59 969.1L731.19 970.3ZM740.5 914.4L744.76 912.2L744.41 939.9L740.19 941.7ZM740.19 941.7L744.41 939.9L744.09 966.1L739.9 967.5ZM738.59 1081.7L742.65 1080.9L742.48 1095L738.43 1095.6ZM744.41 940L748.53 938.1L748.17 964.8L744.08 966.3ZM748.52 938.4L752.53 936.5L752.14 963.2L748.17 964.7ZM752.53 936.2L756.43 934.1L756.01 961.3L752.14 963ZM756.01 961.7L759.77 959.9L759.35 985.6L755.61 987ZM755.61 987L759.35 985.6L758.95 1010.2L755.24 1011.4ZM778.48 889.9L781.83 885.4L781.18 915.7L777.88 918.6ZM777.88 918.6L781.18 915.7L780.49 947.6L777.23 949.7ZM775.13 1050.7L778.28 1049.6L777.8 1071.6L774.68 1072.6ZM779.88 975.7L783.03 973.9L782.44 1000L779.32 1001.5ZM784.41 912.4L787.58 909.1L786.79 943L783.67 945.4ZM789.14 970.3L792.12 968.4L791.44 995.5L788.5 997.1ZM795.05 966L797.93 964L797.19 992.2L794.34 993.8ZM798.75 932.5L801.63 929.8L800.76 962.1L797.92 964.2ZM800.77 961.8L803.57 959.6L802.78 988.3L800.01 990.1ZM800.01 990.1L802.78 988.3L802.04 1014.9L799.3 1016.4ZM808.6 877.2L811.5 870.8L810.07 920.4L807.29 923.6ZM804.05 1038.2L806.7 1036.8L806.02 1060.4L803.39 1061.6ZM820.42 1003L822.95 1001.2L822.08 1027.8L819.57 1029.3ZM826.4 896L829.09 891.2L827.58 936.1L824.99 939.1ZM829.34 883.6L832.06 877.4L831.79 885.3L829.1 890.7ZM829.1 890.7L831.79 885.3L830.17 933L827.59 936ZM823.19 1067.6L825.63 1066.3L825.08 1082.4L822.65 1083.6ZM832.24 872.1L835.03 864L834.52 878.5L831.82 884.6ZM828.07 1064.5L830.48 1063.2L829.9 1079.7L827.5 1081ZM835.33 926L837.89 922.5L836.53 960.5L834.02 963ZM837.04 1075.8L839.41 1074.5L838.78 1091.1L836.43 1092.3ZM848.21 905.2L850.79 900.4L849.02 945.8L846.54 948.8ZM856.49 877.5L859.21 869.5L858.76 880.7L856.1 887.3ZM858.53 886.2L861.2 879.4L859.02 932L856.52 935.5ZM860.91 886.3L863.58 879.4L861.54 928L859.04 931.7ZM869.18 914.2L871.74 909.4L869.71 955.3L867.25 958.3ZM877.01 896.5L879.65 890.2L877.15 944.6L874.67 948ZM874.67 948L877.15 944.6L875.4 982.5L872.98 985.1ZM880.52 871.4L883.38 860.7L882.39 881.9L879.7 889.2ZM879.65 940.5L882.15 936.7L880.26 976.8L877.84 979.5ZM885.16 970.4L887.61 967.3L885.92 1001.7L883.53 1004.1ZM886.27 1040.7L888.62 1038.6L887.67 1057.7L885.33 1059.6ZM892.58 959.7L895.06 956.3L893.16 993.7L890.75 996.3ZM889.65 1018.2L892.03 1015.8L890.99 1036.5L888.63 1038.5ZM910.23 887.8L913.04 879.2L910.3 929.7L907.73 934.3ZM915.61 917.2L918.26 911.5L915.34 963.6L912.85 967.1ZM916.34 986.4L918.8 983.3L917.36 1008.5L914.94 1011.2ZM932.71 902.9L935.48 895.4L933.44 929.5L930.82 934.6ZM936.77 874L939.93 860.5L937.27 904.4L934.54 911.1ZM936.21 922L938.89 916L936.51 954.9L933.96 959.1ZM950.44 880.3L953.56 868L949.82 926.3L947.15 932ZM957.17 884.8L960.26 873.4L958.38 901.8L955.56 909.4ZM187.18 1017.5L190.89 1024.7L192.58 1037.6L189.28 1033.5ZM200.62 947.1L204.81 958L210.58 1004.4L206.82 996.7ZM217.09 942.8L221.24 953.7L226.69 999.1L222.96 991.4ZM246.16 1046.4L249.56 1051.9L252.19 1074.6L248.87 1069.7ZM243.05 971.4L246.83 979.8L250.73 1014L247.18 1007.3ZM258.08 1102L261.28 1106.2L263.19 1123L260.18 1120.2ZM256.74 1066.5L260.05 1071.5L262.41 1092.2L259.17 1087.8ZM257.59 1049.8L260.94 1055.1L263.45 1077.4L260.18 1072.6ZM254.99 952.3L258.86 961.7L263 999.1L259.41 991.9ZM274.37 1126.1L277.48 1129.9L278.36 1137.8L275.38 1135.2ZM257 866.7L262.05 886.7L265.76 921.1L261.41 907.3ZM277.88 1033.4L281.23 1038.9L283.61 1061.1L280.34 1056.2ZM286.54 1113.7L289.66 1117.5L291.47 1134.4L288.39 1130.9ZM289.76 1118.5L292.87 1122.2L294.61 1138.6L291.54 1135.1ZM287.11 1068.1L290.34 1072.7L292.33 1091.5L289.15 1087.3ZM308.04 1085L311.17 1089L312.92 1106.4L309.83 1102.7ZM311.26 1089.9L314.38 1093.8L316.06 1110.6L312.98 1107ZM310.77 1057.7L313.97 1062.2L315.84 1081L312.69 1076.9ZM335.67 1173.3L338.6 1176L339.76 1188.1L336.92 1186.2ZM330.12 1087.4L333.21 1091.1L334.71 1107L331.66 1103.5ZM336.34 1095.5L339.4 1099L340.89 1114.9L337.86 1111.6ZM350.37 1187.8L353.26 1190.3L353.96 1198L351.15 1196.2ZM335.66 999.3L338.97 1005L341.49 1032.5L338.28 1027.7ZM353.27 1190.4L356.15 1192.9L356.8 1200L353.99 1198.3ZM331.4 858.8L336.08 878.8L338.45 905.3L334.33 891.3ZM355.59 1035.4L358.75 1039.8L360.73 1062.6L357.64 1058.6ZM365.54 1117.8L368.51 1120.8L369.71 1134.7L366.76 1131.9ZM365.64 1087.6L368.66 1091L370.28 1109.9L367.29 1106.7ZM375.65 1141.1L378.57 1143.8L379.66 1156.7L376.76 1154.2ZM365.11 984.1L368.39 989.8L370.69 1017.3L367.51 1012.6ZM371.43 1059.1L374.49 1062.8L376.15 1082.7L373.13 1079.2ZM369.33 967.3L372.66 973.6L375.04 1002.5L371.82 997.4ZM380.77 1105.4L383.73 1108.4L385.2 1126.3L382.27 1123.5ZM372.76 974.7L376.05 980.6L378.29 1008.1L375.1 1003.2ZM383.76 1108.7L386.71 1111.7L388.13 1129.1L385.2 1126.3ZM366.16 859.2L370.67 879.2L371.2 885.7L366.85 867.6ZM376.15 981.9L379.4 987.4L381.55 1014L378.38 1009.3ZM385.28 1094.1L388.26 1097.2L389.7 1115.1L386.76 1112.2ZM388.15 1129.3L391.07 1132L392.11 1144.9L389.21 1142.4ZM391.25 1167.5L394.12 1169.8L395.08 1181.8L392.23 1179.5ZM392.23 1179.5L395.08 1181.8L396.05 1193.7L393.21 1191.6ZM385.17 1059L388.21 1062.6L389.76 1081.9L386.76 1078.6ZM394.22 1033.8L397.29 1037.7L398.9 1058.5L395.87 1055ZM383.74 862L388.1 881.1L390.06 906.8L386.31 895.3ZM404.97 1066L407.96 1069.3L409.33 1087.7L406.37 1084.7ZM407.71 1102.3L410.64 1105.1L411.9 1122L409 1119.4ZM418.57 1211L421.35 1212.9L422.17 1223.8L419.4 1222ZM433.98 1241.8L436.72 1243.4L436.85 1245.2L434.14 1244ZM432.95 1190.1L435.74 1191.9L436.5 1202.9L433.73 1201.1ZM425.01 1038.5L428.01 1042L429.28 1060.3L426.31 1057.2ZM434.18 1169.8L437 1171.8L437.75 1182.7L434.96 1180.8ZM432.8 1111.1L435.68 1113.6L436.77 1129.5L433.91 1127.2ZM434.61 1098L437.51 1100.5L438.59 1116.5L435.71 1114ZM445.53 1218.9L448.28 1220.5L448.98 1231L446.24 1229.4ZM445.35 1136.7L448.18 1138.8L449.13 1153.3L446.31 1151.2ZM449.94 1082.1L452.83 1084.7L453.84 1100.6L450.97 1098.2ZM459.92 1237.7L462.64 1239.2L463.27 1249.2L460.56 1247.7ZM456.68 1145.3L459.49 1147.2L460.4 1161.7L457.6 1159.8ZM463.26 1249L465.97 1250.5L466.43 1257.8L463.75 1256.7ZM461.42 1135L464.24 1137.1L465.13 1151.5L462.32 1149.6ZM462.32 1149.6L465.13 1151.5L465.98 1165.5L463.19 1163.6ZM468.67 1251.9L471.37 1253.2L471.78 1260.1L469.11 1259ZM464.26 1137.4L467.07 1139.4L467.92 1153.3L465.12 1151.4ZM465.98 1165.5L468.77 1167.3L469.58 1180.7L466.81 1179ZM463.46 1079.8L466.35 1082.2L467.27 1097.7L464.41 1095.4ZM471.55 1169.1L474.32 1170.8L475.12 1184.3L472.36 1182.6ZM479.26 1209.5L481.98 1211L482.56 1221L479.84 1219.5ZM481.97 1210.7L484.69 1212.2L485.26 1222.1L482.55 1220.7ZM485.27 1222.3L487.98 1223.7L488.55 1233.7L485.84 1232.3ZM479.64 1075.5L482.51 1077.8L483.56 1096.7L480.71 1094.5ZM480.71 1094.5L483.56 1096.7L484.36 1111.1L481.53 1109.1ZM485.4 1177.8L488.16 1179.4L488.88 1192.4L486.14 1190.9ZM482.5 1077.7L485.36 1080L486.4 1098.9L483.56 1096.8ZM485.15 1125.4L487.96 1127.3L488.7 1140.7L485.91 1138.9ZM492.09 1103.3L494.91 1105.3L495.62 1118.7L492.81 1116.9ZM496.4 1184.1L499.14 1185.5L499.82 1198.5L497.1 1197.1ZM500.36 1258.2L503.03 1259.4L503.53 1268.9L500.87 1267.7ZM499.82 1198.3L502.54 1199.7L503.19 1212.2L500.48 1210.9ZM501 1220.9L503.71 1222.2L504.2 1231.6L501.51 1230.4ZM497.71 1053.9L500.58 1056.2L501.54 1075.1L498.69 1073ZM505.92 1213.9L508.62 1215.2L509.1 1224.7L506.41 1223.5ZM508.85 1271L511.5 1272.1L511.62 1274.5L508.98 1273.7ZM514.55 1118.1L517.34 1119.7L517.95 1132.7L515.18 1131.1ZM521.22 1257.9L523.88 1258.9L524.31 1267.9L521.65 1266.9ZM522.11 1276.4L524.75 1277.4L524.79 1278.3L522.16 1277.5ZM517.35 1119.9L520.14 1121.6L520.74 1134.5L517.97 1133ZM523.01 1240.2L525.68 1241.3L526.1 1250.3L523.43 1249.2ZM524.75 1277.3L527.39 1278.2L527.43 1279.1L524.8 1278.4ZM520.73 1134.3L523.5 1135.8L524.09 1148.8L521.33 1147.4ZM524.68 1161.7L527.42 1163.1L527.98 1175.6L525.25 1174.3ZM531.84 1261.6L534.5 1262.6L534.91 1272.1L532.27 1271.2ZM527 1092.7L529.81 1094.4L530.54 1111.3L527.75 1109.8ZM530.16 1164.4L532.9 1165.7L533.44 1178.2L530.71 1176.9ZM543.61 1230.1L546.29 1231.1L546.66 1240.1L543.98 1239.1ZM541.69 1117.4L544.47 1118.8L545.1 1134.8L542.34 1133.4ZM545.32 1207.1L548.02 1208.1L548.5 1220.1L545.81 1219.1ZM546.29 1231.1L548.98 1232.1L549.33 1241.1L546.66 1240.1ZM552.98 1198.4L555.69 1199.4L556.13 1210.8L553.42 1209.9ZM553.42 1209.9L556.13 1210.8L556.58 1222.8L553.88 1221.9ZM555.72 1269.9L558.38 1270.8L558.72 1279.8L556.07 1279ZM552.21 1107L555.01 1108.3L555.6 1124.3L552.82 1123ZM552.82 1123L555.6 1124.3L556.19 1140.3L553.42 1139ZM557.96 1188.2L560.69 1189.3L561.13 1201.2L558.41 1200.3ZM563.7 1272.4L566.37 1273.1L566.69 1282.1L564.03 1281.4ZM565.41 1246L568.1 1246.9L568.41 1255.8L565.73 1255.1ZM569.35 1282.7L572.01 1283.4L572.23 1289.8L569.57 1289.3ZM566.77 1129.2L569.57 1130.4L570.09 1145.9L567.3 1144.8ZM569.06 1114.9L571.88 1116.1L572.39 1131.6L569.58 1130.5ZM584.95 1269.5L587.7 1270.1L587.95 1278.6L585.21 1278ZM585.21 1278L587.95 1278.6L588.21 1287.6L585.49 1287ZM588.03 1186.7L590.87 1187.5L591.19 1199L588.36 1198.2ZM589.94 1253.2L592.73 1253.9L592.97 1262.4L590.19 1261.7ZM590.69 1279.3L593.46 1279.9L593.71 1288.9L590.95 1288.3ZM594.67 1222.8L597.52 1223.5L597.82 1235L594.98 1234.3ZM597.52 1223.4L600.39 1224.1L600.69 1235.6L597.82 1234.9ZM601.43 1264.3L604.29 1264.9L604.52 1273.9L601.66 1273.3ZM603.5 1113L606.55 1113.9L606.9 1128.9L603.86 1128ZM604.56 1157L607.58 1157.8L607.85 1169.3L604.84 1168.5ZM610.51 1283.4L613.46 1283.9L613.66 1292.9L610.72 1292.4ZM611.41 1193L614.46 1193.7L614.7 1204.6L611.65 1204ZM611.91 1215.5L614.95 1216.1L615.2 1227.6L612.17 1227ZM616.24 1131.4L619.44 1132.2L619.73 1146.7L616.55 1145.9ZM619.46 1285L622.52 1285.5L622.69 1294L619.63 1293.5ZM630.22 1185.6L633.57 1186.2L633.76 1197.2L630.41 1196.6ZM638.57 1287.8L641.95 1288.2L642.08 1296.6L638.7 1296.3ZM648.91 1288.8L652.49 1289.2L652.59 1297.7L649.02 1297.4ZM652.19 1263.6L655.87 1263.9L655.96 1272.4L652.29 1272.1ZM655.42 1222.2L659.21 1222.5L659.31 1233.5L655.54 1233.2ZM655.54 1233.2L659.31 1233.5L659.42 1244.5L655.65 1244.2ZM658.53 1153.2L662.46 1153.6L662.58 1167.6L658.67 1167.2ZM659.61 1264.3L663.42 1264.6L663.5 1273L659.69 1272.8ZM662.58 1167.5L666.57 1167.9L666.65 1179.4L662.68 1179ZM663.16 1234L667.07 1234.3L667.16 1245.3L663.26 1245.1ZM667.5 1290.3L671.41 1290.5L671.47 1299L667.56 1298.8ZM671.3 1273.4L675.29 1273.6L675.34 1282.1L671.36 1281.9ZM671.36 1281.9L675.34 1282.1L675.39 1291.1L671.41 1290.9ZM675.14 1245.8L679.21 1246L679.26 1257L675.2 1256.8ZM675.25 1265.3L679.3 1265.5L679.33 1274L675.29 1273.8ZM687.59 1299.9L691.71 1300L691.71 1302.5L687.6 1302.4ZM691.61 1191.4L695.87 1191.4L695.86 1202.4L691.62 1202.4ZM704.19 1265.9L708.34 1265.8L708.31 1274.3L704.17 1274.4ZM708.65 1180.2L712.86 1180L712.81 1191L708.61 1191.2ZM708.37 1257.2L712.49 1257L712.45 1265.5L708.34 1265.7ZM716.48 1274L720.5 1273.8L720.44 1282.3L716.43 1282.5ZM716.43 1282.5L720.44 1282.3L720.38 1290.8L716.38 1291ZM729.04 1200.8L732.95 1200.4L732.84 1211.4L728.93 1211.8ZM732.84 1211.3L736.68 1210.9L736.55 1221.9L732.73 1222.3ZM732.5 1244.8L736.3 1244.4L736.17 1255.4L732.38 1255.8ZM737.5 1138.3L741.34 1137.7L741.16 1152.2L737.33 1152.8ZM735.79 1289.7L739.47 1289.3L739.36 1297.8L735.69 1298.2ZM740.57 1199.6L744.28 1199.2L744.13 1210.2L740.44 1210.6ZM743.84 1232.4L747.43 1231.9L747.28 1242.9L743.69 1243.4ZM743.43 1262.9L747 1262.4L746.87 1271.5L743.31 1271.9ZM750.8 1242.4L754.25 1241.9L754.06 1253.4L750.62 1253.9ZM761.57 1207.6L764.87 1207L764.66 1218L761.37 1218.6ZM771.07 1217L774.21 1216.3L773.97 1227.4L770.85 1228ZM769.66 1285.4L772.73 1284.9L772.55 1293.4L769.48 1293.9ZM773.72 1238.9L776.79 1238.4L776.55 1249.4L773.49 1249.9ZM782.13 1265.8L785.06 1265.2L784.85 1273.7L781.92 1274.3ZM787.18 1179.7L790.15 1178.9L789.86 1190.4L786.89 1191.1ZM793.4 1166.5L796.33 1165.7L796.02 1177.2L793.1 1178ZM790.37 1281.4L793.21 1280.8L792.98 1289.3L790.15 1289.9ZM796.34 1165.4L799.24 1164.6L798.92 1176.1L796.03 1176.9ZM795.09 1211.4L797.96 1210.6L797.64 1222.1L794.78 1222.9ZM798.6 1187.7L801.46 1186.8L801.13 1198.3L798.28 1199.1ZM797.64 1222.1L800.47 1221.4L800.14 1232.9L797.32 1233.6ZM799.81 1244.6L802.61 1243.9L802.35 1252.4L799.56 1253.1ZM799.56 1253.1L802.35 1252.4L802.09 1261.4L799.31 1262.1ZM814.35 1133L817.18 1131.9L816.69 1147L813.87 1148ZM813.13 1171.5L815.93 1170.5L815.54 1182.5L812.75 1183.4ZM818.18 1101L821.03 1099.7L820.52 1115.2L817.68 1116.4ZM821.1 1180.3L823.86 1179.4L823.44 1191.4L820.69 1192.3ZM817.59 1283.7L820.27 1283L820.03 1290.1L817.36 1290.6ZM820.27 1282.9L822.94 1282.2L822.69 1289.3L820.03 1289.8ZM828.93 1189.5L831.67 1188.5L831.22 1200.5L828.5 1201.4ZM826.59 1254.4L829.27 1253.6L828.94 1262.6L826.26 1263.4ZM826.26 1263.4L828.94 1262.6L828.61 1271.6L825.94 1272.4ZM830.8 1212.1L833.51 1211.1L833.06 1223.2L830.36 1224.1ZM829.93 1235.6L832.63 1234.7L832.29 1243.7L829.6 1244.5ZM834.86 1175.2L837.6 1174.1L837.14 1186.1L834.41 1187.2ZM838.92 1209.3L841.63 1208.3L841.15 1220.3L838.46 1221.3ZM841.63 1208.2L844.34 1207.1L843.85 1219.2L841.16 1220.1ZM841.16 1220.1L843.85 1219.2L843.37 1231.2L840.68 1232.1ZM849.28 1085L852.1 1083.3L851.41 1099.9L848.61 1101.4ZM851.81 1155.9L854.55 1154.6L854.02 1167.2L851.28 1168.4ZM849.76 1204.8L852.46 1203.7L851.95 1215.8L849.26 1216.8ZM847.58 1256.7L850.24 1255.8L849.86 1264.8L847.21 1265.7ZM862.82 1150.4L865.57 1149L864.98 1162L862.24 1163.3ZM859.49 1224.7L862.18 1223.6L861.75 1233.1L859.07 1234.2ZM857.84 1261.7L860.49 1260.7L860.06 1270.2L857.41 1271.2ZM857.01 1280.1L859.65 1279.2L859.6 1280.3L856.97 1281ZM866.59 1185.3L869.31 1184L868.72 1196.5L866.01 1197.7ZM866.68 1240L869.36 1238.9L868.91 1248.4L866.24 1249.5ZM870.85 1207.6L873.56 1206.4L872.95 1218.9L870.26 1220.1ZM869.81 1229.6L872.49 1228.5L872.03 1238L869.35 1239.1ZM876.01 1155.7L878.77 1154.2L878.13 1167.3L875.38 1168.7ZM886.39 1162.7L889.14 1161.2L888.47 1174.2L885.72 1175.7ZM887.8 1187L890.54 1185.6L889.85 1198.6L887.13 1200ZM901.42 1082.8L904.27 1080.6L903.25 1099.2L900.42 1101.2ZM893.57 1227.8L896.28 1226.5L895.73 1236.5L893.03 1237.8ZM908.23 1058.5L911.13 1056L910.02 1075.6L907.16 1077.9ZM912.98 1119.3L915.81 1117.3L914.99 1131.3L912.18 1133.3ZM916.15 1157.4L918.94 1155.6L918.13 1169.1L915.35 1170.8ZM921.5 1112.7L924.35 1110.5L923.46 1125.1L920.64 1127.1ZM918.94 1155.5L921.73 1153.7L920.91 1167.2L918.14 1169ZM914.11 1236.3L916.82 1234.9L916.21 1244.9L913.51 1246.3ZM930.16 1014.4L933.16 1010.9L931.71 1034.6L928.75 1037.7ZM924.36 1110.3L927.21 1108.1L926.29 1123.1L923.46 1125.2ZM928.4 1175.8L931.18 1174L930.32 1187.6L927.55 1189.3ZM923.71 1250.6L926.41 1249.2L925.89 1257.4L923.22 1258.5ZM933.9 1131.1L936.73 1129L935.8 1143.6L932.98 1145.6ZM946.76 1015.9L949.79 1012.2L948.17 1036.9L945.19 1040.2ZM933.83 1215.4L936.58 1213.7L935.89 1224.3L933.16 1225.8ZM943.46 1108.8L946.33 1106.4L945.3 1121.9L942.45 1124.2ZM942.45 1124.2L945.3 1121.9L944.3 1137L941.47 1139.1ZM947.4 1090.3L950.3 1087.7L949.22 1103.8L946.34 1106.2ZM942.38 1166L945.19 1164L944.25 1178.1L941.46 1179.9ZM938.65 1222.3L941.39 1220.7L940.69 1231.2L937.96 1232.8ZM955.97 1003.1L959.04 998.9L957.23 1025.7L954.21 1029.3ZM940.68 1231.3L943.42 1229.7L942.74 1239.7L940.01 1241.3ZM959.07 998.5L962.16 994.1L960.26 1021.9L957.23 1025.6ZM948.02 1161.8L950.83 1159.8L949.84 1174.3L947.04 1176.3ZM958.62 1046L961.61 1042.6L960.32 1061.3L957.36 1064.3ZM958.63 1124.8L961.5 1122.4L960.41 1138L957.55 1140.2ZM971.74 977.3L974.93 972.1L972.65 1004L969.56 1008.3ZM955.95 1201.1L958.73 1199.2L957.98 1209.8L955.21 1211.6ZM955.21 1211.6L957.98 1209.8L957.2 1220.8L954.44 1222.5ZM965.14 1184L967.95 1182L967.14 1193L964.34 1195ZM984.62 1030.5L987.69 1026.5L986.13 1047.2L983.1 1050.8ZM970.29 1221.9L973.06 1220.1L972.23 1231.1L969.47 1232.9ZM992.68 997.5L995.85 992.6L993.98 1016.9L990.87 1021.2ZM998.86 953.4L1002.23 946.5L999.13 986.4L995.93 991.6ZM987.89 1096L990.85 1093L989.48 1110.6L986.55 1113.4ZM995.44 1033.9L998.52 1029.9L996.82 1051.6L993.78 1055.2ZM993.84 1089.6L996.81 1086.5L995.38 1104.6L992.43 1107.5ZM992.43 1107.5L995.38 1104.6L994.02 1121.7L991.11 1124.4ZM991.11 1124.4L994.02 1121.7L992.71 1138.3L989.82 1140.9ZM983.37 1223L986.16 1221.1L985.5 1229.4L982.77 1230.8ZM992.73 1138.1L995.63 1135.5L994.63 1148.1L991.74 1150.6ZM1005.88 1109.2L1008.84 1106.1L1007.39 1123.7L1004.45 1126.5ZM1003.39 1139.5L1006.31 1136.8L1005.23 1149.9L1002.33 1152.4ZM1023.9 958.3L1027.33 951.1L1024.44 985.4L1021.17 991ZM1022.19 1012.2L1025.39 1007.2L1023.25 1032.5L1020.11 1036.8ZM1031.26 938.1L1034.85 929.3L1031.36 970L1028.01 976.4ZM1010.58 1212.8L1013.41 1210.7L1013.17 1213.5L1010.39 1215.1ZM1028.41 1099.9L1031.43 1096.5L1030.14 1111.1L1027.15 1114.3ZM1042.59 970.4L1046.02 963.5L1043.02 997.2L1039.73 1002.7ZM1030.15 1111L1033.15 1107.8L1031.85 1122.4L1028.87 1125.5ZM1031.75 1183.3L1034.64 1180.7L1033.49 1193.3L1030.62 1195.7ZM1042.66 1122.5L1045.66 1119.3L1044.31 1133.9L1041.33 1137ZM1058.04 1074.5L1061.16 1070.5L1059.52 1087.7L1056.44 1091.4ZM1075.79 976.3L1079.31 969L1075.77 1005.3L1072.42 1011.1ZM1072.42 1011.1L1075.77 1005.3L1072.84 1035.2L1069.6 1040.1ZM1065.9 1078.2L1069.03 1074.2L1067.36 1091.3L1064.26 1095.1ZM1083.09 987.7L1086.57 980.9L1083.11 1015.5L1079.78 1021.1ZM1093.74 909.2L1098.1 894.2L1096.27 912.4L1092.2 924.6ZM1080.96 1037.1L1084.24 1031.9L1082.1 1053.2L1078.89 1057.8ZM1078.16 1119.3L1081.23 1115.7L1079.64 1131.3L1076.6 1134.7ZM1094.08 989.9L1097.59 982.9L1094.71 1010.9L1091.33 1016.8ZM1094.87 1009.4L1098.3 1003.2L1095.67 1028.6L1092.34 1034ZM1087.34 1135.2L1090.4 1131.7L1088.76 1147.3L1085.73 1150.6ZM1110.34 994.9L1113.89 987.9L1110.78 1017L1107.37 1022.9ZM1118.58 944.1L1122.56 933.5L1117.81 977.5L1114.19 985.1ZM1118.21 973.9L1121.91 965.6L1118.19 999.9L1114.68 1006.5ZM1115.42 1025.5L1118.84 1019.5L1116.13 1044.4L1112.8 1049.6ZM1120.72 1052.8L1124.05 1047.6L1121.58 1069.9L1118.31 1074.6ZM1129.56 1072L1132.86 1067.2L1130.43 1088.4L1127.2 1092.8ZM1139.32 1034.8L1142.78 1028.8L1139.85 1054.2L1136.49 1059.5ZM1146.65 995.4L1150.33 987.8L1146.53 1020.4L1143.02 1026.7ZM1154.83 1020.8L1158.4 1014.1L1155.01 1042.6L1151.56 1048.3ZM1155.22 1040.8L1158.7 1034.8L1155.6 1060.7L1152.22 1065.9ZM1160.04 1069.4L1163.43 1064.1L1160.49 1088.1L1157.38 1091.3ZM1167.31 1054.9L1170.77 1049.1L1167.64 1074.4L1164.28 1079.5ZM1178.9 1005.9L1182.65 998.2L1178.38 1032.4L1174.82 1038.7ZM1200.01 949.9L1204.39 937.8L1199.82 973.3L1195.83 982.6ZM1202.87 1014.6L1206.65 1006.9L1203.46 1031.2L1200.16 1035.3ZM1211.94 988L1215.96 978.8L1210.39 1020.8L1207.04 1025.1ZM1215.25 1005.2L1219.15 997L1217.49 1009.3L1214.09 1013.9ZM1220.01 990.5L1224.05 981.3L1221.04 1003.6L1217.63 1008.3Z"/>
<path fill="#36aaff" d="M431.34 860.2L434.63 874.7L437.45 918.3L434.69 911.6ZM465.39 999.1L467.84 1002L469.22 1025.8L466.82 1023.3ZM465.44 880.6L468.28 889.4L469.05 903.1L466.32 895.9ZM478.71 993.5L481.15 996.3L482.43 1019.7L480.03 1017.2ZM482.41 1019.5L484.81 1021.9L485.97 1043.3L483.6 1041.1ZM480.62 901.6L483.28 907.8L484.95 939.3L482.41 934.9ZM489.78 898.4L492.43 904.6L495.05 956.3L492.57 952.8ZM506.6 1004.7L508.99 1007.1L509.96 1027.4L507.6 1025.3ZM502.34 867.8L505.14 877.3L506.57 907.6L503.97 902ZM507.66 880.8L510.35 888.1L510.42 889.6L507.73 882.4ZM509.47 869L512.24 878L513.09 896.6L510.45 890.4ZM517.93 952.2L520.39 955.4L521.94 990.5L519.54 988.1ZM517.23 884.1L519.88 890.7L520.91 914.3L518.36 909.5ZM520.39 955.4L522.84 958.4L524.33 992.6L521.93 990.2ZM521.93 990.2L524.33 992.6L525.63 1022.4L523.27 1020.4ZM526.28 874.1L528.97 881.7L531.04 931.8L528.54 928.1ZM537.51 975.7L539.94 978.1L541.14 1008.4L538.74 1006.5ZM542.75 866L545.48 874.1L546.97 914.1L544.41 910ZM548.48 954.9L550.97 957.5L552.14 989.7L549.7 987.6ZM555.96 962.9L558.46 965.3L559.51 995.6L557.05 993.7ZM567.29 1083.5L569.71 1084.7L570.22 1100.1L567.81 1099ZM571.64 1070L574.11 1071.2L574.6 1086.6L572.14 1085.5ZM570.12 944.9L572.74 947.5L573.7 978.7L571.13 976.7ZM584.21 986.2L586.9 988L587.65 1014.9L584.98 1013.4ZM584 882.9L586.89 887.9L588 929.4L585.2 926.5ZM595.12 1095.5L597.83 1096.5L598.21 1111.5L595.52 1110.6ZM600.93 996.9L603.86 998.5L604.44 1023.4L601.53 1022ZM603.85 998.1L606.83 999.7L607.4 1024.6L604.44 1023.2ZM605.6 944.9L608.7 947.1L609.31 975.4L606.25 973.6ZM651.97 968.4L656.2 969.6L656.44 993.5L652.23 992.5ZM683.93 1084.9L688.61 1085.1L688.63 1099L683.97 1098.9ZM703.01 974.1L707.85 973.8L707.78 997.3L702.96 997.6ZM722.7 883L727.42 880.5L727.1 920L722.44 921.4ZM736.14 916.3L740.5 914.2L740.19 941.9L735.86 943.5ZM748.92 909.3L752.96 906.6L752.53 936.5L748.52 938.4ZM752.14 963L756.01 961.3L755.62 986.9L751.78 988.3ZM764.5 897.3L768.16 893.7L767.54 927.3L763.93 929.7ZM763.93 929.7L767.54 927.3L767.02 956.1L763.44 958ZM771.74 889.4L775.24 885.1L774.51 921.9L771.07 924.6ZM775.25 884.8L778.68 880.1L777.87 919L774.51 921.8ZM787.99 891.2L791.14 886.7L790.69 905.7L787.57 909.1ZM791.49 872.2L794.66 865.5L793.76 902L790.69 905.7ZM790.69 905.7L793.76 902L792.86 938.1L789.85 940.6ZM796.79 897.6L799.77 893.4L798.75 932.7L795.83 935.3ZM794.34 993.8L797.19 992.2L796.52 1017.8L793.7 1019.2ZM797.92 964.2L800.76 962.1L800 990.3L797.19 992ZM809.07 954.9L811.78 952.6L810.88 982.8L808.21 984.7ZM807.43 1011.6L810.08 1010L809.32 1035.6L806.7 1036.9ZM814.47 949.8L817.12 947.3L816.14 979.1L813.52 981ZM817.85 1005.1L820.4 1003.4L819.56 1029.5L817.04 1031ZM823.71 900.8L826.39 896.3L824.99 939.2L822.38 942ZM831.52 965.1L834.03 962.7L832.93 993.9L830.45 995.8ZM837 878.8L839.72 871.8L837.89 922.5L835.33 926ZM834.02 963L836.53 960.5L835.4 991.8L832.94 993.8ZM832.3 1078.2L834.68 1076.9L834.08 1093.4L831.71 1094.6ZM837.87 989.7L840.32 987.6L839.26 1016.3L836.83 1018ZM843.98 889.2L846.63 883.2L845.61 910.1L843.05 914.2ZM844.04 951.9L846.52 949.1L845.23 982.9L842.78 985.1ZM851.8 874.5L854.54 866.1L853.41 894.7L850.81 899.9ZM849.02 945.8L851.51 942.8L850.11 978.1L847.67 980.5ZM851.53 942.3L854.02 939.1L852.56 975.5L850.12 977.9ZM857.45 970.1L859.89 967.5L858.53 999.7L856.13 1001.9ZM863.63 1041.2L865.98 1039.4L865.18 1057.5L862.85 1059.1ZM877.16 944.3L879.64 940.7L877.83 979.7L875.41 982.4ZM882.17 886.5L884.89 878.8L882.15 936.7L879.65 940.5ZM889.81 922.3L892.37 917.5L890.08 963.8L887.62 967ZM894.7 870.6L897.65 858.7L895 911.6L892.41 916.7ZM902.6 944L905.13 939.9L902.92 981.5L900.48 984.5ZM900.52 1026.7L902.9 1024.4L901.77 1045.5L899.41 1047.6ZM905.28 1022.2L907.67 1019.8L906.52 1040.9L904.15 1043.1ZM918.31 910.5L920.99 904.2L917.87 959.5L915.36 963.2ZM920.44 954.5L922.98 950.4L921.28 979.8L918.81 983.1ZM926.86 883.1L929.81 872.8L925.55 945.8L923 950.1ZM923 950.1L925.55 945.8L923.77 976.3L921.29 979.7ZM922.28 1002L924.72 999L923.3 1023.2L920.89 1025.8ZM929.69 991.9L932.16 988.6L930.6 1014.4L928.17 1017.1ZM944.06 869.9L947.4 853.9L944.58 899.2L941.79 906.6ZM939.15 949.2L941.74 944.6L939.72 977.1L937.21 980.7ZM944.72 896.9L947.59 888.3L944.39 939.2L941.78 944.1ZM953.34 871.5L956.72 855.6L952.62 919L949.91 925.1ZM952.69 917.9L955.44 911.2L952.63 954.3L950.04 958.8ZM955.32 948.3L957.95 943.3L955.65 977.9L953.12 981.7ZM969.9 869.5L973.51 851.1L969.16 914.4L966.37 921.2ZM142.32 873L147.93 893L155.78 950.4L151.18 937.5ZM184.21 951.6L188.44 962.4L194.6 1010.4L190.82 1002.6ZM189.54 971L193.56 980.4L198.79 1021.3L195.08 1014.1ZM199.21 1046.2L202.75 1052.2L202.78 1052.5L199.48 1048.3ZM198.82 999.7L202.59 1007.5L206.81 1040.8L203.24 1034.4ZM200.47 923.1L204.97 936.5L209.83 975.8L205.85 966.4ZM223.12 1015.8L226.71 1022.5L230.1 1050.5L226.64 1044.8ZM230.34 1052.5L233.76 1058.1L236.6 1081.8L233.27 1076.8ZM240.17 1088.8L243.46 1093.4L244.66 1103.6L241.59 1100.6ZM230.35 959.1L234.27 968.5L238.77 1006.9L235.13 999.7ZM246.97 1100.1L250.21 1104.5L250.88 1110.2L247.82 1107.3ZM239.16 986.3L242.86 994L246.48 1025.3L242.97 1019ZM248.87 1069.7L252.19 1074.6L254.65 1095.9L251.4 1091.4ZM255.75 1081.8L259.02 1086.4L261.28 1106.2L258.08 1102ZM267.94 1117.1L271.09 1121L272.3 1131.8L269.31 1129.2ZM274.34 1026.3L277.73 1032L280.23 1055.2L276.93 1050.1ZM275.08 1007.5L278.54 1013.8L281.23 1038.9L277.88 1033.4ZM292.91 1122.6L296 1126.2L297.73 1142.6L294.68 1139.2ZM283.18 1004.9L286.62 1011.2L289.25 1036.3L285.92 1030.8ZM292.44 1092.5L295.59 1096.6L297.41 1113.9L294.3 1110.2ZM313.97 977.3L317.44 984.2L320.66 1017.5L317.34 1012ZM321.21 994.2L324.58 1000.2L327.43 1030.3L324.17 1025.2ZM328.66 984.2L332.05 990.5L334.88 1021L331.61 1015.8ZM331.61 1015.8L334.88 1021L337.31 1047.1L334.13 1042.6ZM346.64 1147.6L349.59 1150.5L350.83 1164L347.9 1161.2ZM347.9 1161.2L350.83 1164L352.07 1177.4L349.16 1174.8ZM348.32 1136.7L351.28 1139.6L352.55 1153.6L349.61 1150.7ZM346.98 1062.5L350.09 1066.5L352 1087.8L348.95 1084.2ZM358.17 1095.8L361.19 1099.2L362.5 1114.1L359.51 1110.9ZM350.69 979.5L354.03 985.6L356.55 1014.6L353.33 1009.6ZM359.5 1079.8L362.54 1083.4L364.23 1102.7L361.22 1099.5ZM368.69 1091.4L371.7 1094.7L373.31 1113.5L370.33 1110.5ZM365.82 959L369.2 965.7L371.75 996.5L368.51 991.1ZM382.58 1159.6L385.46 1162.1L386.49 1174.5L383.62 1172.2ZM385.64 1196.2L388.47 1198.4L389.46 1210.4L386.64 1208.3ZM371.82 997.4L375.04 1002.5L377.1 1027.6L373.96 1023.2ZM387.35 1152.4L390.23 1154.9L391.25 1167.4L388.38 1165ZM388.38 1165L391.25 1167.4L392.22 1179.3L389.37 1177ZM383.77 935.9L387.2 943.6L390.38 984.5L387.15 979ZM407.33 1133L410.22 1135.5L411.39 1150.9L408.52 1148.5ZM412.12 1195.7L414.93 1197.7L415.76 1208.7L412.97 1206.7ZM392.34 860.9L396.65 880L401.15 940.7L397.76 933.2ZM400.91 975.2L404.12 980.6L406.45 1012.1L403.34 1007.7ZM417.75 1199.9L420.54 1201.9L421.35 1212.9L418.57 1211ZM408.1 1034.3L411.15 1038L412.6 1057.9L409.6 1054.5ZM423.34 1204L426.13 1205.9L426.92 1216.8L424.15 1215ZM421.98 1034.7L424.99 1038.3L426.31 1057.1L423.33 1053.9ZM423.21 1012.8L426.27 1016.7L428.01 1042L425.01 1038.5ZM434.96 1142.3L437.8 1144.5L438.82 1159.4L436 1157.3ZM437.77 1182.9L440.56 1184.8L441.31 1195.8L438.53 1194ZM429.37 1021.4L432.4 1025.1L434.04 1049.4L431.06 1046.1ZM439.65 1132.1L442.49 1134.3L443.5 1149.2L440.67 1147.1ZM444.81 1208.3L447.57 1210L448.28 1220.5L445.53 1218.9ZM446.19 1108.5L449.06 1110.8L450.06 1126.3L447.22 1124ZM445.94 1062.7L448.87 1065.5L449.92 1081.9L447.01 1079.3ZM448.87 1065.5L451.79 1068.3L452.83 1084.7L449.94 1082.1ZM464.87 1190.7L467.63 1192.4L468.28 1202.9L465.53 1201.3ZM468.05 1241.8L470.75 1243.3L471.37 1253.2L468.67 1251.9ZM461.52 1092.7L464.39 1095L465.29 1110L462.44 1107.8ZM476.52 1208L479.26 1209.5L479.84 1219.5L477.12 1218ZM479.84 1219.5L482.56 1221L483.14 1230.9L480.43 1229.6ZM483.88 1150.8L486.66 1152.5L487.41 1165.9L484.64 1164.3ZM491.23 1234.7L493.93 1236L494.47 1246L491.79 1244.7ZM486.4 1098.8L489.23 1100.9L489.99 1114.8L487.17 1112.9ZM495.01 1255.8L497.69 1257L498.2 1266.4L495.53 1265.3ZM487.22 1063.6L490.09 1066L491.1 1084.9L488.25 1082.7ZM492.95 1169.5L495.71 1171.1L496.4 1184.1L493.66 1182.6ZM499.13 1185.3L501.86 1186.7L502.54 1199.7L499.82 1198.3ZM496.78 1089L499.62 1091.1L500.54 1109L497.72 1107.1ZM505.7 1260.5L508.36 1261.6L508.85 1271.1L506.19 1270ZM500.59 1056.4L503.46 1058.7L504.38 1077.1L501.53 1075ZM512.26 1235.2L514.95 1236.4L515.41 1245.9L512.74 1244.8ZM509.63 1128.1L512.41 1129.8L513.04 1142.7L510.27 1141.2ZM513.05 1143L515.81 1144.5L516.43 1157.5L513.68 1156ZM516.71 1218.6L519.41 1219.8L519.86 1229.3L517.17 1228.2ZM521.33 1147.4L524.09 1148.8L524.68 1161.8L521.94 1160.4ZM520.59 1072L523.42 1073.9L524.2 1091.3L521.39 1089.5ZM534.49 1262.6L537.15 1263.5L537.56 1273L534.91 1272.1ZM538.64 1237.3L541.32 1238.3L541.69 1247.3L539.03 1246.3ZM542.84 1274.7L545.49 1275.6L545.83 1284L543.21 1283.3ZM542.84 1146L545.6 1147.2L546.1 1159.7L543.35 1158.5ZM544.35 1183L547.07 1184.2L547.55 1196.1L544.83 1195.1ZM555.23 1187.1L557.96 1188.2L558.4 1200.1L555.69 1199.2ZM560.72 1262.8L563.39 1263.6L563.69 1272.1L561.03 1271.4ZM566.05 1264.1L568.72 1264.8L569.04 1273.8L566.37 1273.1ZM576.51 1258.3L579.22 1259.1L579.51 1268.1L576.8 1267.3ZM579.8 1277L582.5 1277.7L582.77 1286.2L580.07 1285.5ZM579.24 1172.6L582.05 1173.5L582.39 1185L579.6 1184.1ZM580.42 1119.8L583.28 1120.8L583.72 1135.8L580.87 1134.8ZM588.21 1287.7L590.96 1288.3L591.11 1293.8L588.38 1293.3ZM589.35 1232.7L592.16 1233.4L592.48 1244.9L589.69 1244.2ZM589.89 1152.7L592.78 1153.6L593.09 1165.1L590.21 1164.2ZM594.35 1211.3L597.22 1212L597.52 1223.5L594.67 1222.8ZM596 1166.3L598.93 1167.2L599.22 1178.6L596.31 1177.8ZM598.35 1254.9L601.2 1255.6L601.43 1264.5L598.59 1263.9ZM600.48 1112.2L603.51 1113.2L603.86 1127.7L600.84 1126.7ZM603.58 1236.4L606.5 1237L606.76 1248L603.85 1247.4ZM606.49 1236.6L609.44 1237.2L609.7 1248.7L606.77 1248.1ZM609.44 1237.3L612.42 1238L612.68 1249.4L609.71 1248.9ZM610.31 1144.4L613.41 1145.2L613.73 1159.7L610.64 1158.9ZM610.64 1158.9L613.73 1159.7L613.96 1170.7L610.89 1170ZM614.46 1193.4L617.55 1194L617.79 1205.5L614.71 1204.9ZM615.69 1249.9L618.73 1250.5L618.91 1259L615.87 1258.4ZM620.47 1183.5L623.67 1184.2L623.89 1195.7L620.7 1195.1ZM622.69 1294.1L625.79 1294.6L625.86 1298.6L622.77 1298.2ZM623.23 1161.6L626.5 1162.3L626.71 1173.8L623.46 1173.1ZM627.74 1230L631 1230.5L631.19 1241.5L627.94 1241ZM627.94 1241L631.19 1241.5L631.38 1252.5L628.15 1252ZM630.02 1174.1L633.38 1174.7L633.57 1186.2L630.22 1185.6ZM631.83 1278.2L635.1 1278.6L635.25 1287.6L631.99 1287.2ZM647.91 1210.3L651.57 1210.7L651.7 1221.7L648.05 1221.3ZM659.21 1222.7L663.06 1223.1L663.16 1234.1L659.31 1233.7ZM662.34 1139.5L666.35 1139.9L666.46 1153.9L662.46 1153.5ZM667.56 1298.8L671.47 1299L671.49 1302L667.59 1301.8ZM671.19 1256.4L675.2 1256.6L675.24 1265.1L671.24 1264.9ZM683.45 1282.4L687.56 1282.5L687.57 1291L683.47 1290.9ZM691.67 1257.4L695.85 1257.4L695.85 1265.9L691.68 1265.9ZM695.87 1191.4L700.13 1191.4L700.11 1202.4L695.86 1202.4ZM695.86 1235.4L700.07 1235.4L700.05 1246.4L695.85 1246.4ZM695.85 1274.4L700.01 1274.4L700 1282.9L695.85 1282.9ZM704.29 1224.4L708.49 1224.3L708.45 1235.3L704.27 1235.4ZM712.29 1299.3L716.33 1299.1L716.31 1302.1L712.28 1302.3ZM724.54 1264.7L728.45 1264.4L728.37 1272.9L724.47 1273.2ZM732.38 1255.8L736.17 1255.4L736.08 1263.9L732.3 1264.2ZM737.33 1152.8L741.16 1152.2L740.98 1166.3L737.17 1166.7ZM736.08 1263.7L739.79 1263.3L739.68 1271.8L735.98 1272.2ZM751.48 1197.9L754.97 1197.4L754.79 1208.4L751.31 1208.9ZM758.79 1174.5L762.18 1173.9L761.98 1184.9L758.6 1185.5ZM757.44 1252.9L760.76 1252.4L760.61 1260.9L757.3 1261.4ZM761.97 1185.1L765.29 1184.5L765.08 1195.5L761.77 1196.1ZM761.37 1218.6L764.66 1218L764.44 1229.6L761.16 1230.1ZM766.54 1285.7L769.66 1285.2L769.49 1293.7L766.37 1294.1ZM770.38 1250.4L773.49 1249.9L773.29 1258.9L770.2 1259.4ZM769.48 1293.9L772.55 1293.4L772.45 1298L769.39 1298.3ZM773.49 1249.9L776.55 1249.4L776.35 1258.4L773.29 1258.9ZM778.56 1292.3L781.5 1291.8L781.39 1296.4L778.46 1296.8ZM782.82 1236.8L785.78 1236.2L785.49 1247.7L782.54 1248.3ZM789.29 1212.8L792.2 1212L791.9 1223.6L788.99 1224.2ZM787.74 1273.2L790.61 1272.6L790.37 1281.6L787.51 1282.2ZM795.4 1199.9L798.28 1199.1L797.96 1210.6L795.09 1211.4ZM793.45 1271.8L796.27 1271.2L796.02 1280.2L793.21 1280.8ZM797.96 1210.6L800.8 1209.9L800.47 1221.4L797.64 1222.1ZM796.51 1262.6L799.31 1261.9L799.05 1270.9L796.26 1271.6ZM810.34 1259.4L813.07 1258.6L812.8 1267.1L810.08 1267.8ZM814.79 1205.8L817.54 1204.9L817.16 1216.4L814.41 1217.2ZM819.9 1215.8L822.63 1214.9L822.23 1226.4L819.51 1227.3ZM823.44 1191.5L826.18 1190.6L825.78 1202.1L823.04 1203ZM823.58 1264.3L826.26 1263.5L825.93 1272.6L823.26 1273.3ZM831.66 1188.6L834.39 1187.6L833.96 1199.1L831.24 1200.1ZM831.94 1253.1L834.61 1252.2L834.27 1261.2L831.6 1262ZM839.97 1250.1L842.64 1249.2L842.27 1258.2L839.61 1259.1ZM847.54 1194L850.26 1192.9L849.75 1204.9L847.05 1206ZM846.56 1218L849.25 1216.9L848.75 1229L846.06 1230ZM846.83 1274.7L849.48 1273.8L849.09 1282.9L846.46 1283.6ZM855.08 1142.3L857.84 1140.9L857.3 1153.4L854.55 1154.7ZM849.47 1274L852.11 1273.1L851.72 1282.2L849.09 1282.9ZM859.84 1094.8L862.65 1093.1L861.9 1110.1L859.11 1111.7ZM853.72 1235.9L856.4 1234.9L855.98 1244.4L853.31 1245.4ZM863.4 1076L866.23 1074.1L865.47 1091.2L862.65 1092.9ZM854.77 1272L857.41 1271.1L857.01 1280.1L854.37 1281ZM858.66 1243.2L861.34 1242.2L860.9 1251.7L858.24 1252.7ZM857.41 1271.2L860.06 1270.2L859.65 1279.2L857.01 1280.1ZM859.64 1279.5L862.28 1278.5L862.23 1279.6L859.6 1280.4ZM876.76 1083.5L879.59 1081.6L878.72 1099.6L875.91 1101.4ZM871.45 1195.2L874.16 1193.9L873.56 1206.4L870.85 1207.6ZM868.02 1267L870.68 1266L870.22 1275.5L867.57 1276.5ZM874.71 1236.9L877.39 1235.8L876.92 1245.3L874.24 1246.4ZM873.34 1264.9L876 1263.8L875.52 1273.3L872.87 1274.3ZM891.94 1107.3L894.76 1105.4L894.02 1119.4L891.22 1121.2ZM889.2 1210.9L891.92 1209.6L891.38 1219.6L888.68 1220.9ZM892.52 1247.3L895.2 1246.1L894.68 1255.6L892.01 1256.8ZM907.16 1077.9L910.02 1075.6L908.95 1094.7L906.11 1096.8ZM896.83 1263.9L899.51 1262.6L899.22 1267.8L896.57 1268.7ZM911.81 1092.4L914.67 1090.1L913.83 1104.7L910.99 1106.8ZM902.19 1261.4L904.86 1260.1L904.54 1265.8L901.88 1266.7ZM904.85 1260.4L907.53 1259.2L907.2 1264.8L904.54 1265.8ZM915.81 1117.3L918.64 1115.2L917.81 1129.3L914.99 1131.2ZM927.15 1018.3L930.13 1014.9L928.73 1038.1L925.78 1041.1ZM925.78 1041.1L928.73 1038.1L927.42 1059.8L924.51 1062.5ZM917.3 1182.9L920.06 1181.3L919.27 1194.3L916.52 1195.9ZM916.82 1234.9L919.53 1233.5L918.92 1243.5L916.21 1244.9ZM916.21 1244.9L918.92 1243.5L918.3 1253.5L915.61 1254.9ZM915.61 1254.9L918.3 1253.5L917.86 1260.7L915.2 1261.7ZM933.15 1011L936.16 1007.4L934.69 1031.1L931.73 1034.3ZM922.86 1179.1L925.63 1177.4L924.79 1190.9L922.04 1192.6ZM933.3 1053.7L936.23 1050.8L934.91 1071.9L932 1074.5ZM931.08 1133L933.91 1130.9L932.99 1145.4L930.18 1147.4ZM926.41 1249.3L929.11 1247.9L928.56 1256.5L925.88 1257.6ZM934.54 1244.8L937.26 1243.3L936.62 1253L933.93 1254.1ZM954.78 978.9L957.91 974.1L955.94 1003.5L952.88 1007.5ZM945.19 1164L948 1162L947.05 1176.1L944.26 1178ZM951.08 1116.5L953.96 1114.1L952.89 1129.7L950.04 1131.9ZM957.36 1064.3L960.32 1061.3L959.1 1078.9L956.17 1081.7ZM949.68 1215.3L952.44 1213.5L951.67 1224.5L948.92 1226.2ZM955.5 1169.6L958.32 1167.6L957.5 1179.1L954.7 1181.1ZM950.21 1245.4L952.94 1243.8L952.79 1246L950.08 1247.2ZM956.73 1190.1L959.52 1188.2L958.73 1199.2L955.95 1201.1ZM969.75 1083.1L972.69 1080.1L971.41 1097.7L968.49 1100.5ZM972.7 1080L975.66 1077L974.37 1094.6L971.44 1097.4ZM967.93 1145.7L970.79 1143.4L969.65 1158.9L966.81 1161.1ZM969.66 1158.7L972.5 1156.5L971.65 1168.1L968.82 1170.2ZM968.82 1170.2L971.65 1168.1L970.79 1179.6L967.98 1181.6ZM977.33 1091.4L980.27 1088.5L978.99 1105.6L976.07 1108.3ZM966.7 1234.9L969.45 1233.1L969.1 1237.8L966.38 1239.1ZM971.11 1210.9L973.9 1209L973.06 1220.1L970.29 1221.9ZM989.49 1002.6L992.64 997.9L990.83 1021.7L987.74 1025.8ZM981.97 1102.2L984.91 1099.4L983.6 1116.5L980.69 1119.1ZM980.69 1119.1L983.6 1116.5L982.34 1133L979.45 1135.5ZM972.22 1231.2L974.99 1229.4L974.55 1235.1L971.83 1236.5ZM975.02 1229L977.79 1227.1L977.27 1233.9L974.54 1235.2ZM978.65 1216L981.44 1214L980.54 1225.6L977.77 1227.4ZM1002.37 944.7L1005.8 937.1L1002.42 980.2L999.19 985.6ZM1008.06 1014.8L1011.22 1010.1L1009.29 1033.9L1006.19 1038ZM1011.28 1009.3L1014.47 1004.4L1012.47 1028.7L1009.36 1033ZM996.47 1191.5L999.31 1189.3L998.32 1201.3L995.5 1203.4ZM1007.39 1090.8L1010.38 1087.5L1008.84 1106.1L1005.88 1109.2ZM1023.83 925L1027.5 915.1L1023.78 959.7L1020.41 966.4ZM1021.17 991L1024.44 985.4L1022.13 1012.8L1018.95 1017.6ZM1006.03 1172.4L1008.91 1170L1007.89 1182L1005.04 1184.3ZM1012.22 1130.6L1015.16 1127.8L1014.01 1141.3L1011.09 1144ZM1026.52 1026.6L1029.7 1021.9L1027.65 1045.7L1024.53 1049.8ZM1042.55 938.8L1046.19 929.7L1042.4 972.5L1039.03 978.9ZM1050.96 908.1L1055.02 894.7L1049.68 954.2L1046.18 961.7ZM1034.66 1180.6L1037.56 1178L1036.4 1190.5L1033.52 1193ZM1061.12 952.6L1064.74 944.2L1060.95 984.8L1057.56 991.1ZM1057.56 991.1L1060.95 984.8L1058 1016.3L1054.74 1021.5ZM1048.78 1114.9L1051.81 1111.6L1050.38 1126.7L1047.39 1129.8ZM1062.21 1030.5L1065.46 1025.5L1062.95 1051.8L1059.77 1056.2ZM1056.44 1091.4L1059.52 1087.7L1057.98 1103.8L1054.93 1107.3ZM1048.09 1179.4L1051.01 1176.7L1049.78 1189.6L1046.94 1191.5ZM1064.26 1095.1L1067.36 1091.3L1065.73 1107.9L1062.67 1111.4ZM1059.73 1141.7L1062.73 1138.6L1061.31 1153.2L1058.33 1156.2ZM1074.25 1049L1077.48 1044.2L1075.53 1063.9L1072.35 1068.3ZM1070.6 1086.1L1073.72 1082.1L1072.02 1099.2L1068.94 1102.9ZM1079.78 1021.1L1083.11 1015.5L1080.83 1038.3L1077.58 1043.3ZM1068.88 1131L1071.91 1127.6L1070.4 1142.7L1067.4 1145.9ZM1064.59 1174.2L1067.54 1171.4L1067 1176.8L1064.13 1178.8ZM1086.84 978.2L1090.39 970.8L1086.64 1008.1L1083.27 1013.9ZM1076.68 1107.1L1079.77 1103.4L1078.14 1119.5L1075.08 1123ZM1103.14 1113.7L1106.27 1109.8L1104.41 1126.9L1101.32 1130.5ZM1119.81 1036L1123.2 1030.3L1120.57 1054.2L1117.26 1059.2ZM1119.41 1089.3L1122.64 1084.8L1120.49 1104L1117.32 1108.1ZM1127.8 1038.8L1131.2 1033.1L1128.46 1057.5L1125.14 1062.5ZM1150.8 983.8L1154.57 975.5L1150.38 1011.3L1146.82 1018ZM1146.82 1018L1150.38 1011.3L1147.04 1039.8L1143.61 1045.5ZM1155.16 970.4L1159.07 961.2L1154.34 1001.3L1150.72 1008.4ZM1198.61 1025.9L1202.32 1018.8L1200.02 1036.3L1196.73 1040.4ZM1209.01 967.6L1213.22 957L1206.65 1006.9L1202.87 1014.6ZM1268.34 867.2L1274.09 847.2L1273.02 854.7L1267.28 874.7Z"/>
<path fill="#70c0ff" d="M403.31 863L406.74 877.9L410.1 924.9L407.29 918ZM412.79 864.1L416.13 878.3L417.78 902.2L414.83 893.2ZM440.82 861.3L444.02 875L445.42 897.4L442.55 888.8ZM460.44 992.3L462.9 995.4L464.38 1020.2L461.95 1017.5ZM468.85 980.2L471.32 983.5L472.73 1008.2L470.3 1005.4ZM473.81 987.2L476.26 990.3L477.59 1014.1L475.18 1011.4ZM484.18 880.6L486.95 888.8L490.03 948.2L487.52 944.2ZM490.04 948.5L492.54 952.2L494.52 990.8L492.09 988ZM492.09 988L494.52 990.8L495.66 1013.1L493.27 1010.7ZM493.27 1010.7L495.66 1013.1L496.73 1034L494.36 1031.8ZM487.93 862.4L490.86 873.7L492.43 904.6L489.78 898.4ZM495.67 1013.4L498.06 1015.7L499.09 1036.1L496.73 1034ZM491.38 883.8L494.1 891.4L495.1 911.4L492.49 905.8ZM495.08 956.9L497.55 960.3L499.36 996.4L496.95 993.8ZM493.21 873.6L495.99 882.5L497.71 917.1L495.13 911.9ZM499.38 996.7L501.78 999.3L502.84 1020.7L500.46 1018.4ZM505.22 1023L507.59 1025.1L508.52 1044.5L506.18 1042.6ZM507.96 937L510.45 940.8L512.25 979.3L509.82 976.5ZM512.27 979.6L514.68 982.3L516.15 1014.1L513.77 1011.9ZM512.96 944.8L515.43 948.2L517.12 985.3L514.7 982.7ZM513.13 897.6L515.73 903.2L517.9 951.6L515.43 948.3ZM515.43 948.3L517.9 951.6L519.52 987.7L517.11 985.2ZM514.84 883.4L517.5 890.2L518.33 908.8L515.75 903.7ZM518.89 868.1L521.64 876.8L523.47 919.2L520.93 914.8ZM521.69 878L524.37 885.2L526 923.7L523.48 919.5ZM523.69 869.2L526.42 877.5L528.52 927.8L526.01 923.9ZM531.05 932L533.54 935.6L535.07 973.1L532.64 970.5ZM546.98 914.3L549.53 918.1L550.97 957.5L548.48 954.9ZM550.97 957.7L553.46 960.2L554.58 991.5L552.13 989.4ZM558.15 884.9L560.82 890.3L562.36 936.1L559.79 933.1ZM568.87 905.2L571.55 909.1L572.74 947.5L570.12 944.9ZM574.61 1087.1L577.09 1088.2L577.57 1103.7L575.11 1102.6ZM572.74 947.5L575.37 950L576.3 980.7L573.7 978.7ZM576.29 980.6L578.91 982.5L579.72 1009.8L577.13 1008.2ZM584.98 1013.4L587.65 1014.9L588.32 1039.3L585.68 1038ZM599.55 940L602.55 942.4L603.23 971.6L600.27 969.8ZM625.2 957.2L628.74 959L629.17 984.8L625.66 983.4ZM644.14 990.2L648.13 991.4L648.42 1015.3L644.45 1014.3ZM648.13 991.6L652.23 992.7L652.49 1016.1L648.41 1015.2ZM649.55 1109.9L653.52 1110.5L653.67 1124.4L649.72 1123.9ZM660.08 919L664.59 920.6L664.78 946.4L660.31 945.2ZM725.56 1111.4L729.89 1110.9L729.76 1125.4L725.44 1125.9ZM742.3 1109.4L746.22 1108.7L746.03 1122.7L742.12 1123.4ZM762.99 984.3L766.53 982.8L766.08 1007.4L762.56 1008.7ZM766.53 982.6L769.99 981L769.51 1006.1L766.08 1007.5ZM787.57 909.1L790.69 905.7L789.85 940.7L786.79 943.1ZM793.76 901.7L796.78 897.8L795.83 935.5L792.86 938.1ZM800.33 872.1L803.36 865.2L802.73 888.9L799.77 893.4ZM810.07 920.4L812.83 917.1L811.78 952.6L809.07 954.9ZM811.77 952.8L814.45 950.3L813.52 981.1L810.88 983ZM824.14 887.4L826.87 881.8L826.39 896.3L823.71 900.8ZM822.38 942L824.99 939.2L823.89 972.5L821.33 974.7ZM823.9 972.2L826.45 970L825.46 999.7L822.94 1001.5ZM827.59 936L830.17 933L828.98 967.8L826.45 970.1ZM846.55 885.2L849.22 878.7L848.2 905.3L845.63 909.7ZM863.92 871.3L866.72 861.5L864.06 924L861.55 927.9ZM859.7 1026.6L862.07 1024.7L861.26 1043.3L858.91 1045ZM870.58 987.5L872.99 985L871.57 1016.3L869.19 1018.3ZM885.21 871.9L888.09 861L884.67 932.5L882.16 936.5ZM886.96 884.8L889.7 876.6L887.23 927.6L884.71 931.8ZM883.53 1004.1L885.92 1001.7L884.89 1022.8L882.52 1024.9ZM896.29 885.7L899.06 877.3L897.65 905.2L895.03 910.8ZM888.63 1038.5L890.99 1036.5L889.99 1056.1L887.66 1057.9ZM895.05 956.3L897.54 952.8L895.59 990.7L893.17 993.4ZM900.4 896.9L903.11 889.8L900.06 948.5L897.56 952.2ZM895.59 990.8L898.01 988L896.84 1010.7L894.44 1013.1ZM906.01 879.1L908.89 868.9L905.97 924L903.4 928.8ZM912.51 1014.2L914.92 1011.5L913.67 1033.7L911.29 1036ZM921.06 902.9L923.8 895.8L920.42 954.9L917.9 958.8ZM933.96 959.1L936.51 954.9L934.64 985.3L932.16 988.7ZM934.68 984.7L937.18 981.3L935.52 1008L933.07 1011ZM960.76 935.8L963.45 930.1L960.83 968.9L958.27 973ZM182.08 956.9L186.26 967.4L190.21 997.9L186.32 989.5ZM195.08 1014.1L198.79 1021.3L202.75 1052.2L199.21 1046.2ZM197.71 968.9L201.71 978.2L206.79 1018.6L203.1 1011.5ZM207.19 1021.9L210.81 1028.6L214.38 1057.1L210.9 1051.3ZM196.62 915.1L201.28 929.6L204.81 958L200.62 947.1ZM211.16 1031.4L214.72 1037.7L218.09 1064.8L214.65 1059.3ZM219.26 913.5L223.79 927.6L230.57 984.8L226.76 976.4ZM251.2 968.8L254.96 977.2L258.73 1010.9L255.19 1004.2ZM272.4 1108.5L275.56 1112.5L277.48 1129.9L274.37 1126.1ZM259.43 966.8L263.16 975.2L266.81 1008.3L263.29 1001.7ZM263.29 1001.7L266.81 1008.3L269.78 1035.4L266.39 1029.7ZM274.76 1080.6L277.98 1085L280.04 1103.8L276.87 1099.7ZM282.37 1023.6L285.74 1029.2L288.14 1051.9L284.85 1046.9ZM303.95 1150.6L306.96 1153.8L308 1163.8L305.09 1161.6ZM291.95 981.8L295.47 988.8L298.28 1016.2L294.89 1010.3ZM294.89 1010.3L298.28 1016.2L300.64 1039.4L297.34 1034.2ZM309.83 1102.7L312.92 1106.4L314.57 1122.8L311.51 1119.3ZM309.43 1071.7L312.59 1075.9L314.38 1093.8L311.26 1089.9ZM306.47 1014.7L309.81 1020.3L312.01 1042.5L308.75 1037.5ZM322.31 1119L325.36 1122.4L326.86 1137.8L323.85 1134.6ZM333.16 1119.1L336.18 1122.4L337.59 1137.3L334.6 1134.2ZM347.27 1095.7L350.31 1099.2L351.7 1114.6L348.69 1111.3ZM356.75 1170.2L359.65 1172.8L360.82 1185.7L357.93 1183.2ZM354.75 1118.3L357.73 1121.4L359.02 1135.8L356.06 1132.8ZM346.6 996.6L349.89 1002.2L352.29 1029.3L349.09 1024.6ZM354.14 986.9L357.44 992.7L359.82 1020.2L356.62 1015.4ZM356.62 1015.4L359.82 1020.2L361.95 1044.9L358.82 1040.7ZM373.82 1151.2L376.73 1153.8L377.83 1166.8L374.94 1164.3ZM380.94 1203.4L383.77 1205.5L384.77 1217.5L381.96 1215.4ZM380.32 1033.1L383.42 1037.2L385.14 1058.5L382.08 1054.8ZM376.95 957L380.3 963.6L382.72 993.9L379.5 988.6ZM391.1 1132.4L394.01 1135.1L395 1147.5L392.11 1145ZM382.77 994.4L385.96 999.5L387.92 1024.1L384.79 1019.8ZM386.02 1000.2L389.2 1005.1L391.06 1028.8L387.95 1024.6ZM378.93 874.4L383.04 890.1L387.2 943.6L383.77 935.9ZM400.81 1153.1L403.68 1155.4L404.65 1167.9L401.8 1165.6ZM381.56 871L385.71 887.5L390.7 952.3L387.33 945.3ZM407.52 1170.4L410.36 1172.6L411.24 1184.1L408.41 1182ZM403.52 1046.9L406.54 1050.5L407.96 1069.3L404.97 1066ZM419.42 1113.7L422.31 1116.2L423.46 1132.1L420.59 1129.7ZM415.85 1026.5L418.89 1030.3L420.31 1050.1L417.3 1046.7ZM425.67 1162.9L428.5 1165L429.32 1176.5L426.51 1174.4ZM416.98 1003.5L420.07 1007.8L421.96 1034.5L418.93 1030.8ZM424.61 1072L427.56 1075L428.74 1091.9L425.82 1089.1ZM441.48 1236.6L444.21 1238.2L444.9 1248.2L442.17 1246.6ZM451.83 1068.9L454.74 1071.6L455.74 1087.5L452.85 1085ZM463.42 1209.9L466.16 1211.5L466.81 1222L464.08 1220.4ZM459.58 1105.4L462.44 1107.7L463.35 1122.6L460.52 1120.5ZM470.78 1243.7L473.48 1245.1L474.06 1254.5L471.36 1253.2ZM468.76 1167.1L471.54 1168.9L472.34 1182.4L469.58 1180.7ZM471.44 1028.4L474.39 1031.4L475.6 1052.8L472.69 1050.1ZM480.3 1135.1L483.1 1136.9L483.88 1150.9L481.1 1149.1ZM492.84 1263.7L495.51 1264.9L495.73 1268.8L493.07 1267.9ZM493.94 1236.2L496.63 1237.5L497.15 1247L494.46 1245.7ZM491.93 1048.8L494.82 1051.3L495.83 1070.7L492.96 1068.4ZM501.87 1186.8L504.6 1188.2L505.27 1201.2L502.55 1199.9ZM504.21 1231.9L506.9 1233.2L507.39 1242.6L504.71 1241.4ZM516.35 1264.9L519 1266L519.46 1275.5L516.82 1274.4ZM518.56 1256.7L521.22 1257.8L521.65 1266.7L518.99 1265.7ZM523.88 1258.7L526.53 1259.8L526.95 1268.8L524.3 1267.8ZM527.49 1223.4L530.17 1224.5L530.6 1233.9L527.92 1232.9ZM530.71 1176.9L533.44 1178.2L533.96 1190.1L531.25 1188.9ZM531.25 1188.9L533.96 1190.1L534.5 1202.6L531.8 1201.5ZM535.04 1214.9L537.73 1216L538.24 1227.9L535.56 1226.9ZM534.02 1129.1L536.79 1130.5L537.34 1143.5L534.58 1142.1ZM540.2 1273.9L542.85 1274.8L543.2 1283.2L540.57 1282.5ZM540.41 1216.6L543.1 1217.7L543.59 1229.7L540.91 1228.7ZM543.84 1170.5L546.57 1171.7L547.07 1184.2L544.35 1183ZM546.66 1240.1L549.33 1241.1L549.69 1250L547.03 1249.1ZM550.78 1277.4L553.43 1278.2L553.74 1286.2L551.1 1285.5ZM549.79 1185.3L552.52 1186.3L552.98 1198.3L550.26 1197.3ZM554.34 1233.9L557.03 1234.8L557.37 1243.8L554.69 1242.9ZM554.69 1242.9L557.37 1243.8L557.7 1252.8L555.03 1251.9ZM564.51 1143.5L567.29 1144.6L567.7 1156.6L564.93 1155.5ZM568.12 1168.8L570.89 1169.8L571.27 1181.3L568.51 1180.3ZM568.51 1180.3L571.27 1181.3L571.67 1193.3L568.92 1192.4ZM576.07 1159.9L578.88 1160.9L579.23 1172.3L576.44 1171.4ZM578.51 1149.1L581.34 1150.1L581.68 1161.5L578.87 1160.6ZM584.41 1251.4L587.16 1252.1L587.43 1261.1L584.68 1260.5ZM584.52 1162.6L587.36 1163.5L587.69 1175L584.86 1174.1ZM586.23 1220.6L589.03 1221.4L589.36 1232.9L586.57 1232.2ZM587.43 1261.2L590.19 1261.9L590.45 1270.8L587.7 1270.2ZM589.48 1138.2L592.39 1139.1L592.78 1153.6L589.89 1152.7ZM601.88 1281.8L604.73 1282.4L604.95 1291.4L602.11 1290.8ZM604.94 1290.9L607.81 1291.5L607.93 1296.4L605.07 1296ZM608.39 1192.3L611.41 1193L611.65 1204L608.64 1203.3ZM611.65 1204L614.7 1204.6L614.95 1216.1L611.91 1215.5ZM612.17 1227L615.2 1227.6L615.44 1238.6L612.42 1238ZM618.26 1228L621.37 1228.6L621.6 1240.1L618.5 1239.5ZM619.28 1276.5L622.35 1277L622.52 1285.5L619.46 1285ZM620.02 1161L623.24 1161.7L623.46 1173.2L620.25 1172.5ZM621.15 1217.6L624.32 1218.2L624.53 1229.2L621.37 1228.6ZM621.83 1251.1L624.96 1251.6L625.13 1260.1L622 1259.6ZM628.3 1260.5L631.53 1261L631.69 1270L628.47 1269.5ZM629.57 1148.5L632.96 1149.2L633.2 1163.7L629.82 1163.1ZM629.82 1163.1L633.2 1163.7L633.38 1174.7L630.02 1174.1ZM634.83 1261.9L638.17 1262.3L638.3 1270.8L634.97 1270.4ZM634.97 1270.4L638.3 1270.8L638.44 1279.3L635.11 1278.9ZM636.19 1135.6L639.72 1136.3L639.93 1150.8L636.42 1150.1ZM641.7 1271.2L645.17 1271.6L645.28 1280L641.83 1279.7ZM654.94 1178.1L658.78 1178.6L658.88 1189.6L655.06 1189.2ZM662.78 1190L666.74 1190.4L666.82 1201.3L662.87 1201ZM663.57 1281.6L667.43 1281.8L667.5 1290.3L663.65 1290.1ZM666.9 1212.3L670.9 1212.5L670.97 1223.5L666.99 1223.3ZM687.46 1235.4L691.65 1235.5L691.66 1246.5L687.48 1246.4ZM704.27 1235.4L708.45 1235.3L708.41 1246.3L704.24 1246.4ZM708.61 1191.2L712.81 1191L712.76 1202L708.57 1202.2ZM717.27 1140.5L721.44 1140.2L721.34 1154.2L717.19 1154.5ZM725.44 1153.8L729.47 1153.4L729.34 1167.4L725.32 1167.8ZM729.6 1139.3L733.58 1138.9L733.44 1152.9L729.47 1153.3ZM732.95 1200.3L736.8 1199.9L736.68 1210.9L732.84 1211.3ZM735.69 1298.2L739.36 1297.8L739.33 1300.9L735.66 1301.1ZM767.44 1240.2L770.61 1239.6L770.38 1250.6L767.23 1251.2ZM778.06 1181.6L781.14 1180.9L780.87 1192.4L777.8 1193.1ZM780.87 1192.4L783.9 1191.7L783.63 1203.2L780.61 1203.9ZM778.75 1283.8L781.71 1283.3L781.5 1291.8L778.56 1292.3ZM815.55 1182.3L818.33 1181.4L817.93 1193.4L815.16 1194.3ZM817.92 1193.5L820.68 1192.5L820.29 1204.1L817.54 1205ZM822.82 1129.4L825.63 1128.3L825.09 1143.8L822.3 1144.9ZM818.2 1265.7L820.89 1265L820.58 1274L817.9 1274.7ZM825.36 1213.9L828.08 1213L827.65 1225L824.94 1225.9ZM824.94 1225.9L827.65 1225L827.23 1236.5L824.53 1237.4ZM828.5 1201.4L831.22 1200.5L830.8 1212L828.08 1212.9ZM835.31 1163.2L838.06 1162.1L837.6 1174.1L834.86 1175.2ZM843.37 1231.2L846.05 1230.2L845.68 1239.2L843 1240.2ZM854.92 1081.6L857.74 1079.9L857.03 1096.5L854.23 1098.1ZM850.26 1192.8L852.97 1191.7L852.46 1203.7L849.76 1204.8ZM857.76 1079.5L860.58 1077.7L859.84 1094.7L857.03 1096.4ZM850.25 1255.5L852.92 1254.6L852.53 1263.6L849.87 1264.5ZM865.45 1091.6L868.26 1089.8L867.49 1106.9L864.69 1108.5ZM864.88 1222.2L867.57 1221.1L867.13 1230.6L864.44 1231.7ZM880.46 1063.5L883.32 1061.4L882.41 1080L879.57 1082ZM883.27 1223.6L885.97 1222.3L885.47 1231.8L882.78 1233ZM893.83 1070.9L896.69 1068.7L895.71 1087.3L892.87 1089.3ZM885.47 1231.9L888.16 1230.7L887.66 1240.2L884.98 1241.4ZM888.83 1267.4L891.49 1266.3L891.27 1270.4L888.62 1271.3ZM894.63 1208.4L897.35 1207L896.8 1217L894.09 1218.4ZM909.37 1135.2L912.18 1133.3L911.37 1147.3L908.58 1149.1ZM909.26 1229.4L911.97 1228L911.38 1238.1L908.68 1239.4ZM912.55 1218.2L915.28 1216.7L914.68 1226.7L911.97 1228.2ZM918.31 1253.4L921.01 1252L920.53 1259.7L917.86 1260.7ZM927.04 1239.3L929.75 1237.8L929.11 1247.9L926.41 1249.3ZM943.71 1020.1L946.72 1016.5L945.15 1040.7L942.19 1043.9ZM933.1 1185.7L935.87 1183.9L935.19 1194.5L932.43 1196.2ZM954.21 1029.3L957.23 1025.7L955.59 1049.9L952.62 1053.1ZM964.42 961.2L967.63 955.4L965.31 989L962.2 993.6ZM959.74 1108.9L962.64 1106.3L961.5 1122.4L958.63 1124.8ZM978.45 1039L981.49 1035.3L980.03 1054.9L977.03 1058.3ZM966.33 1204.1L969.12 1202.2L968.3 1213.2L965.53 1215ZM986.17 1046.6L989.21 1043L987.67 1063.1L984.67 1066.5ZM976.48 1174.9L979.31 1172.7L978.43 1184.2L975.61 1186.3ZM999.45 908.7L1003.18 897.4L998.76 954.8L995.44 961.2ZM995.44 961.2L998.76 954.8L995.85 992.6L992.68 997.5ZM989.21 1042.9L992.27 1039.1L990.71 1059.3L987.7 1062.8ZM1009.27 964.8L1012.61 958.2L1010.1 989.4L1006.88 994.6ZM1014.66 932.8L1018.22 923.9L1016.15 949.4L1012.75 956.4ZM1004.45 1126.5L1007.39 1123.7L1006.31 1136.8L1003.39 1139.5ZM1014.03 1141.1L1016.96 1138.3L1015.84 1151.4L1012.93 1154ZM1030.9 1040.1L1034.04 1035.7L1032.01 1059L1028.91 1062.9ZM1039.65 1125.8L1042.64 1122.7L1041.3 1137.3L1038.34 1140.2ZM1069.33 925.6L1073.25 914.3L1069.03 958.7L1065.48 966.4ZM1065.48 966.4L1069.03 958.7L1068.21 967.3L1064.72 974.5ZM1061.54 1008.3L1064.87 1002.6L1062.07 1032L1058.85 1036.8ZM1065.81 1107.1L1068.88 1103.5L1067.3 1119.6L1064.26 1123ZM1071.95 1127.2L1075 1123.8L1073.48 1138.9L1070.46 1142.1ZM1091.33 1016.8L1094.71 1010.9L1092.21 1035.3L1088.92 1040.4ZM1104.85 1046.5L1108.17 1041.3L1105.84 1063.1L1102.59 1067.8ZM1113.83 1065.5L1117.11 1060.6L1114.83 1081.3L1111.61 1085.7ZM1123.39 1028.7L1126.82 1022.7L1124.05 1047.6L1120.72 1052.8ZM1151.03 1029.4L1154.55 1023.1L1151.3 1050.5L1147.9 1056ZM1149.51 1088.7L1152.81 1083.9L1151.02 1098.8L1147.94 1101.8ZM1168.15 956L1172.27 945.3L1166.53 992.8L1162.82 1000.5ZM1176.53 979.8L1180.46 970.7L1178.96 982.8L1175.13 991.2ZM1171.45 1065.8L1174.89 1060.3L1173.38 1072.4L1170.22 1075.8Z"/>
<path fill="#b8e0ff" d="M443.19 861.6L446.38 875.2L448.32 906.6L445.53 899.2ZM457.95 988.7L460.42 992L461.94 1017.3L459.51 1014.5ZM466.35 976.6L468.83 979.9L470.29 1005.2L467.85 1002.3ZM470.3 1005.4L472.73 1008.2L474.03 1031L471.64 1028.6ZM471.31 983.4L473.77 986.6L475.17 1011.4L472.75 1008.6ZM472.24 959.4L474.74 963.1L476.26 990.3L473.81 987.2ZM470.06 879.4L472.89 888.3L474.52 917.7L471.88 912ZM471.88 912L474.52 917.7L477.26 967.2L474.77 963.6ZM474.77 963.6L477.26 967.2L478.71 993.4L476.27 990.4ZM474.55 918.3L477.16 923.6L479.77 971.1L477.29 967.7ZM474.97 883.6L477.75 891.8L479.78 929.1L477.2 924.2ZM482.25 974.7L484.71 977.9L486.01 1002.1L483.59 999.4ZM478.9 869.5L481.79 879.7L483.28 907.8L480.62 901.6ZM484.98 939.9L487.51 944.1L489.63 984.5L487.19 981.5ZM487.52 944.2L490.03 948.2L492.07 987.6L489.64 984.8ZM485.54 861.6L488.48 873.1L489.73 897.4L487.03 890.4ZM487.03 890.4L489.73 897.4L492.54 952.2L490.04 948.5ZM496.95 993.8L499.36 996.4L500.46 1018.3L498.07 1016ZM498.25 880.7L500.97 888.4L502.86 927.3L500.31 922.8ZM502.5 967.5L504.95 970.6L506.58 1004.2L504.18 1001.8ZM507.39 973.6L509.82 976.5L511.37 1009.2L508.98 1006.9ZM504.9 872.1L507.66 880.7L510.45 940.8L507.96 937ZM517.11 985.2L519.52 987.7L520.9 1018.5L518.53 1016.4ZM522.84 958.5L525.29 961.4L526.74 995.1L524.34 992.8ZM529.15 997.7L531.55 999.9L532.73 1028.3L530.37 1026.4ZM528.94 881L531.59 887.6L533.54 935.6L531.05 932ZM536.63 894.4L539.23 899.6L541.01 945.6L538.53 942.5ZM560.83 890.6L563.5 895.5L564.93 939L562.36 936.1ZM579.68 920L582.42 923.1L583.39 957.2L580.69 954.9ZM615.07 1102L618.15 1102.9L618.44 1117.4L615.38 1116.6ZM630.97 1091.6L634.45 1092.4L634.69 1106.9L631.21 1106.2ZM645.68 1109L649.55 1109.6L649.72 1124.1L645.87 1123.5ZM665.94 1097.8L670.33 1098.2L670.42 1112.2L666.05 1111.8ZM688.61 1085.3L693.32 1085.4L693.33 1099.4L688.63 1099.3ZM712.55 997.3L717.27 996.8L717.14 1019.8L712.45 1020.3ZM716.61 1112.3L721.12 1111.9L721.03 1125.9L716.53 1126.3ZM722.26 947.3L726.89 946.2L726.69 971.3L722.09 972.2ZM726.49 995.1L730.97 994.2L730.75 1017.8L726.3 1018.6ZM751.42 1012.7L755.23 1011.5L754.88 1034.6L751.09 1035.6ZM782.04 875.8L785.36 869.8L784.4 912.7L781.17 915.8ZM786.79 943.1L789.85 940.7L789.15 970L786.12 971.9ZM792.5 1066.1L795.29 1064.9L794.88 1080.5L792.11 1081.5ZM799.3 1016.4L802.04 1014.9L801.37 1039.5L798.65 1040.8ZM803.57 959.5L806.33 957.3L805.51 986.5L802.78 988.3ZM812.83 916.8L815.57 913.3L814.45 950.3L811.77 952.8ZM812.69 1008.4L815.29 1006.7L814.5 1032.3L811.93 1033.8ZM821.59 886.6L824.35 881L823.69 901.2L821 905.3ZM843.05 914.2L845.61 910.1L844.04 951.8L841.55 954.6ZM841.55 954.6L844.04 951.8L842.78 985.1L840.33 987.3ZM864.09 923.2L866.62 919.1L864.78 961.7L862.33 964.6ZM866.62 919L869.16 914.6L867.25 958.3L864.8 961.2ZM870.87 875.4L873.65 866.2L871.74 909.4L869.18 914.2ZM882.16 936.5L884.67 932.5L882.71 973.6L880.28 976.4ZM887.25 927.1L889.8 922.6L887.61 967.3L885.16 970.4ZM894.44 1013.1L896.84 1010.7L895.74 1031.8L893.37 1034ZM908.76 871.4L911.79 858.7L907.7 934.9L905.16 939.2ZM928.18 940.2L930.77 935.4L928.81 968.5L926.3 972.1ZM938.46 884.8L941.45 874.2L938.89 916L936.21 922ZM952.68 953.5L955.29 948.7L953.08 982.3L950.56 985.9ZM962.45 875.6L965.78 861L964.83 875.1L961.73 886.4ZM964.84 875L968.2 859.9L963.45 930.1L960.76 935.8ZM210.9 1051.3L214.38 1057.1L215.93 1069.5L212.74 1066ZM214.65 1059.3L218.09 1064.8L219.2 1073.8L216.03 1070.3ZM226.11 1063L229.5 1068.3L232.05 1089.2L228.92 1086ZM229.72 1070.1L233.08 1075.2L235.19 1092.7L232.08 1089.6ZM215.82 908.6L220.46 923.6L226.1 970.8L222.15 961.4ZM243.61 1094.7L246.86 1099.2L247.77 1106.9L244.71 1104ZM241.85 1056.6L245.22 1061.9L247.83 1084.2L244.53 1079.4ZM244.53 1079.4L247.83 1084.2L250.21 1104.5L246.97 1100.1ZM260.18 1072.6L263.45 1077.4L265.75 1097.7L262.53 1093.3ZM266.96 1084.2L270.19 1088.7L272.29 1107.5L269.11 1103.4ZM287.01 1143L290.07 1146.4L290.28 1148.4L287.33 1146ZM282.57 1076.9L285.78 1081.3L287.8 1100.2L284.64 1096.1ZM306.69 988.9L310.13 995.3L313.23 1026.8L309.92 1021.4ZM341.08 1087.8L344.15 1091.4L345.56 1106.8L342.53 1103.4ZM373.34 1114L376.3 1117L377.43 1130.4L374.49 1127.5ZM373.96 1023.2L377.1 1027.6L378.93 1049.9L375.84 1046ZM377.6 1067.1L380.64 1070.7L382.22 1090.1L379.23 1086.8ZM384.79 1019.8L387.92 1024.1L389.68 1046.4L386.61 1042.5ZM403.53 1221.2L406.32 1223.1L406.85 1229.9L404.1 1228.4ZM387.15 979L390.38 984.5L392.41 1010.6L389.26 1005.9ZM392.8 1050.9L395.84 1054.6L397.34 1073.9L394.34 1070.6ZM387.02 867L391.23 884.4L393.92 920L390.34 910.4ZM403.34 1007.7L406.45 1012.1L408.11 1034.3L405.05 1030.5ZM429.9 1108.5L432.79 1111L433.89 1126.9L431.03 1124.6ZM436 1157.3L438.82 1159.4L439.81 1173.9L437 1171.9ZM437.81 1144.7L440.65 1146.8L441.62 1161.3L438.81 1159.2ZM432.42 1025.4L435.43 1029L437.03 1052.8L434.06 1049.6ZM438.59 1116.5L441.46 1118.9L442.49 1134.3L439.65 1132.1ZM433.69 1003L436.75 1007L438.46 1032.8L435.45 1029.3ZM446.14 1188.6L448.92 1190.4L449.64 1201.4L446.88 1199.7ZM457.18 1235.8L459.9 1237.4L460.54 1247.3L457.83 1245.9ZM457.6 1159.8L460.4 1161.7L461.24 1175.2L458.46 1173.4ZM459.35 1187.4L462.12 1189.1L462.77 1199.6L460.02 1197.9ZM461.32 1218.5L464.06 1220L464.71 1230.5L461.99 1229ZM453.46 1006.7L456.47 1010.4L457.93 1034.1L454.96 1031ZM472.36 1182.6L475.12 1184.3L475.92 1197.7L473.17 1196.1ZM465.5 1021.7L468.46 1024.9L469.74 1046.7L466.81 1043.8ZM473.53 1157.4L476.31 1159.2L477.1 1172.6L474.33 1170.9ZM494.46 1245.7L497.15 1247L497.69 1257L495.01 1255.8ZM495.04 1208.1L497.76 1209.5L498.29 1219.5L495.58 1218.1ZM498.19 1266.2L500.85 1267.4L501.03 1270.8L498.39 1269.9ZM501.22 1174.3L503.96 1175.8L504.6 1188.2L501.87 1186.8ZM506.9 1233L509.58 1234.2L510.06 1243.7L507.38 1242.5ZM514.29 1168.5L517.03 1169.9L517.65 1182.9L514.92 1181.6ZM523.67 1198L526.39 1199.2L526.93 1211.2L524.23 1210ZM525.67 1241.1L528.34 1242.1L528.77 1251.6L526.11 1250.6ZM527.38 1278.1L530.02 1279.1L530.06 1279.9L527.43 1279.2ZM526.37 1198.8L529.08 1200L529.64 1212.5L526.94 1211.3ZM527.42 1163L530.16 1164.3L530.71 1176.8L527.98 1175.5ZM539.4 1192.6L542.11 1193.7L542.6 1205.7L539.9 1204.6ZM543.98 1239.1L546.66 1240.1L547.02 1249.1L544.36 1248.1ZM545.81 1219.1L548.5 1220.1L548.98 1232.1L546.29 1231.1ZM547.53 1195.8L550.25 1196.9L550.71 1208.8L548.01 1207.8ZM557.52 1176.2L560.26 1177.3L560.69 1189.3L557.96 1188.2ZM559.82 1165.2L562.58 1166.3L563 1178.3L560.26 1177.2ZM560.63 1111.3L563.44 1112.6L563.97 1128.1L561.18 1126.8ZM572.02 1283.5L574.69 1284.2L574.9 1290.6L572.24 1290ZM569.58 1130.5L572.39 1131.6L572.89 1147.1L570.09 1146ZM581.4 1242.2L584.15 1242.9L584.41 1251.4L581.67 1250.7ZM582.39 1184.9L585.2 1185.7L585.55 1197.7L582.75 1196.9ZM583.1 1208.4L585.89 1209.2L586.23 1220.7L583.45 1219.9ZM583.8 1231.4L586.57 1232.2L586.91 1243.7L584.15 1242.9ZM585.21 1186.1L588.03 1186.9L588.37 1198.4L585.55 1197.6ZM587.03 1152.1L589.9 1153L590.22 1164.5L587.36 1163.6ZM594.9 1124.8L597.86 1125.7L598.24 1140.7L595.3 1139.8ZM600.1 1212.8L603.01 1213.5L603.29 1224.9L600.4 1224.3ZM624.1 1206.7L627.33 1207.2L627.54 1218.7L624.32 1218.2ZM624.32 1218.2L627.54 1218.7L627.74 1229.7L624.53 1229.2ZM634.12 1219.4L637.51 1219.9L637.69 1231.4L634.31 1230.9ZM637.34 1209.2L640.8 1209.7L640.96 1220.7L637.51 1220.2ZM655.3 1211.2L659.1 1211.5L659.21 1222.5L655.42 1222.2ZM670.9 1212.4L674.96 1212.6L675.02 1223.6L670.97 1223.4ZM675.34 1282.3L679.37 1282.5L679.41 1291L675.38 1290.8ZM700.04 1257L704.21 1256.9L704.19 1265.4L700.02 1265.5ZM740.99 1166.2L744.72 1165.6L744.58 1176.6L740.85 1177.1ZM775.96 1275.6L778.96 1275L778.76 1283.5L775.77 1284ZM786.89 1191.1L789.86 1190.4L789.58 1201.4L786.62 1202.1ZM784.42 1291L787.3 1290.5L787.17 1295.5L784.3 1296ZM788.7 1235.7L791.6 1235.1L791.29 1246.6L788.41 1247.2ZM788.41 1247.2L791.29 1246.6L791.07 1255.1L788.19 1255.7ZM796.26 1271.6L799.05 1270.9L798.81 1279.4L796.02 1280.1ZM804.31 1186.1L807.13 1185.3L806.79 1196.8L803.97 1197.6ZM822.23 1226.5L824.95 1225.6L824.52 1237.6L821.81 1238.5ZM836.67 1198.4L839.39 1197.4L838.92 1209.4L836.21 1210.4ZM836.59 1269.2L839.24 1268.4L838.88 1277.4L836.24 1278.2ZM854.11 1226.9L856.8 1225.9L856.4 1234.9L853.72 1235.9ZM859.07 1234.2L861.75 1233.1L861.34 1242.2L858.66 1243.2ZM873.91 1085.9L876.74 1084L875.93 1101.1L873.12 1102.9ZM877.62 1065.6L880.47 1063.5L879.59 1081.6L876.76 1083.5ZM879.12 1253.5L881.79 1252.3L881.31 1261.9L878.64 1263ZM882.3 1242.5L884.98 1241.3L884.49 1250.9L881.81 1252ZM889.34 1257.9L892.01 1256.8L891.49 1266.3L888.83 1267.4ZM896.03 1182.4L898.77 1180.9L898.06 1194L895.33 1195.4ZM913.81 1104.9L916.66 1102.7L915.81 1117.3L912.98 1119.3ZM911.01 1199.5L913.75 1198L913.16 1208L910.43 1209.5ZM910.23 1257.6L912.91 1256.3L912.51 1263L909.85 1264ZM925.26 1095.4L928.13 1093L927.21 1108.1L924.36 1110.3ZM926.31 1122.8L929.15 1120.7L928.24 1135.2L925.42 1137.2ZM948.49 989.3L951.58 984.8L949.79 1012.2L946.76 1015.9ZM952.13 1101.1L955.02 1098.5L953.96 1114.1L951.08 1116.5ZM969.56 1008.3L972.65 1004L970.7 1031.3L967.67 1035ZM959.96 1219L962.73 1217.2L961.96 1227.7L959.21 1229.5ZM985.25 907.4L988.91 896.6L986.17 933.9L982.8 941.2ZM988.19 1127.2L991.1 1124.6L989.8 1141.1L986.91 1143.6ZM1004.87 1019.8L1008.02 1015.3L1006.14 1038.5L1003.06 1042.5ZM1015.7 1023.3L1018.85 1018.8L1016.91 1042L1013.81 1046.1ZM1023.29 1031.9L1026.45 1027.5L1024.46 1050.7L1021.36 1054.7ZM1035.08 959.6L1038.54 952.2L1035.47 987.6L1032.17 993.3ZM1022.39 1168.5L1025.29 1165.9L1024.14 1179L1021.26 1181.4ZM1040.59 1024.4L1043.81 1019.5L1041.53 1044.8L1038.39 1049.1ZM1053.82 939.7L1057.5 930.4L1053.5 974.2L1050.09 980.8ZM1056.5 1119.2L1059.53 1115.9L1058.08 1131L1055.08 1134.1ZM1058.14 1130.4L1061.15 1127.1L1059.69 1142.2L1056.7 1145.3ZM1079.58 966.3L1083.18 958.3L1079.3 997.8L1075.91 1003.8ZM1083.27 1013.9L1086.64 1008.1L1084.24 1031.9L1080.96 1037.1ZM1138.82 965.6L1142.69 956.4L1138.19 996L1134.6 1003ZM1131.65 1101.5L1134.88 1097.1L1132.66 1116.3L1129.49 1120.3ZM1136.02 1110.7L1139.23 1106.5L1138.5 1112.7L1135.46 1115.5ZM1142.71 1100L1145.97 1095.5L1144.75 1105.8L1141.69 1108.7ZM1163.37 972.4L1167.29 963.2L1162.43 1003.7L1158.79 1010.9ZM1162.82 1023.6L1166.41 1016.9L1162.89 1045.9L1159.44 1051.6ZM1174.74 1017L1178.41 1009.8L1174.55 1040.9L1171.04 1046.9ZM1183.21 993.7L1187.06 985.4L1182.37 1022.7L1178.75 1029.4ZM1207.28 1002.2L1211.17 993.9L1206.86 1026.4L1203.54 1030.6ZM1210.8 1017.7L1214.6 1010.1L1213.92 1015.2L1210.55 1019.6ZM1240.79 857.4L1246.4 837.4L1239.63 887.3L1234.05 907.3Z"/>
<path fill="#ffffff" d="M397.34 877.5L400.55 889.4L400.68 891.2L397.5 879.7ZM398.48 861.2L401.97 876.9L404.03 905L401.04 896ZM401.55 871L404.83 884L407.13 915.9L404.25 908.1ZM406.3 871.9L409.55 884.6L412.98 932.9L410.22 926.6ZM409.33 881.5L412.43 892.3L415.78 939.8L413.06 934ZM411.49 879L414.61 890L418.53 946.2L415.85 940.8ZM414.83 893.2L417.78 902.2L421.25 952.2L418.6 947.2ZM415 862.1L418.37 876.8L420.84 912.8L417.99 905.1ZM417.99 905.1L420.84 912.8L423.97 958.3L421.35 953.6ZM417.42 863.1L420.75 877.4L423.76 921.6L420.98 914.8ZM420.98 914.8L423.76 921.6L426.62 963.5L424.02 958.9ZM420.28 870.5L423.46 882.9L426.6 929.3L423.87 923.1ZM423.87 923.1L426.6 929.3L429.24 968.4L426.66 964ZM426.69 930.6L429.38 936.3L431.84 973L429.28 968.9ZM425.54 878.9L428.58 889.5L432.09 942.3L429.43 937ZM429.43 937L432.09 942.3L434.44 977.7L431.89 973.7ZM426.9 864.1L430.14 877.8L431.6 899.8L428.69 891.1ZM428.69 891.1L431.6 899.8L434.8 948.4L432.17 943.5ZM432.17 943.5L434.8 948.4L437 981.9L434.46 978ZM429.35 865.7L432.55 878.8L434.59 910L431.77 902.5ZM431.77 902.5L434.59 910L437.47 954.1L434.86 949.4ZM434.86 949.4L437.47 954.1L439.55 986.1L437.03 982.4ZM434.69 911.6L437.45 918.3L440.09 959.2L437.51 954.7ZM437.51 954.7L440.09 959.2L442.1 990.2L439.59 986.7ZM434.02 865.2L437.2 878.2L440.25 925.8L437.54 919.7ZM437.54 919.7L440.25 925.8L442.69 963.8L440.12 959.6ZM440.12 959.6L442.69 963.8L444.62 993.9L442.12 990.5ZM437.01 875.2L440.04 886L442.98 932.4L440.32 926.8ZM440.32 926.8L442.98 932.4L445.29 968.7L442.74 964.6ZM442.74 964.6L445.29 968.7L447.14 997.8L444.65 994.5ZM439.47 877.1L442.46 887.5L445.67 938.4L443.03 933.2ZM443.03 933.2L445.67 938.4L447.83 972.7L445.3 968.8ZM445.3 968.8L447.83 972.7L449.63 1001.4L447.16 998.2ZM442.55 888.8L445.42 897.4L448.33 944.1L445.72 939.2ZM445.72 939.2L448.33 944.1L450.38 977L447.86 973.3ZM447.86 973.3L450.38 977L452.11 1004.7L449.65 1001.6ZM445.53 899.2L448.32 906.6L450.98 949.7L448.39 945.1ZM448.39 945.1L450.98 949.7L452.93 981.2L450.42 977.6ZM450.42 977.6L452.93 981.2L454.58 1007.9L452.12 1004.9ZM446.86 883L449.77 892.2L451.15 914.9L448.43 908.3ZM448.43 908.3L451.15 914.9L453.59 954.8L451.03 950.4ZM451.03 950.4L453.59 954.8L455.43 984.8L452.94 981.4ZM452.94 981.4L455.43 984.8L457.04 1011.1L454.59 1008.1ZM448.56 872.6L451.56 883.4L453.93 922.4L451.25 916.5ZM451.25 916.5L453.93 922.4L456.18 959.5L453.63 955.4ZM453.63 955.4L456.18 959.5L457.94 988.6L455.46 985.3ZM455.46 985.3L457.94 988.6L459.5 1014.4L457.07 1011.5ZM450.84 871.4L453.84 882.4L456.62 928.6L453.97 923.1ZM453.97 923.1L456.62 928.6L458.73 963.9L456.2 959.9ZM456.2 959.9L458.73 963.9L460.42 992L457.95 988.7ZM453.22 872L456.2 882.7L459.31 934.9L456.69 929.8ZM456.69 929.8L459.31 934.9L461.29 968.3L458.77 964.5ZM458.77 964.5L461.29 968.3L462.9 995.4L460.44 992.3ZM455.82 876.3L458.75 886.2L461.92 940.1L459.33 935.3ZM459.33 935.3L461.92 940.1L463.8 972.1L461.3 968.4ZM461.3 968.4L463.8 972.1L465.37 998.8L462.92 995.7ZM462.92 995.7L465.37 998.8L466.8 1023.1L464.39 1020.4ZM457.83 870.7L460.81 881.5L463.12 921.1L460.46 915.3ZM460.46 915.3L463.12 921.1L464.53 945.3L461.96 940.8ZM461.96 940.8L464.53 945.3L466.31 975.8L463.82 972.3ZM463.82 972.3L466.31 975.8L467.84 1002L465.39 999.1ZM459.87 865.3L462.9 877.2L463.26 883.4L460.32 873.1ZM460.32 873.1L463.26 883.4L467.13 950.4L464.58 946.1ZM464.58 946.1L467.13 950.4L468.83 979.9L466.35 976.6ZM467.85 1002.3L470.29 1005.2L471.63 1028.5L469.23 1026ZM463.18 881.9L466.02 890.7L466.23 894.4L463.42 886.2ZM463.42 886.2L466.23 894.4L469.68 954.9L467.15 950.8ZM467.15 950.8L469.68 954.9L471.32 983.5L468.85 980.2ZM466.32 895.9L469.05 903.1L472.21 958.9L469.69 955ZM469.69 955L472.21 958.9L473.77 986.6L471.31 983.4ZM472.75 1008.6L475.17 1011.4L476.44 1033.7L474.05 1031.3ZM467.61 877.6L470.47 886.9L471.82 910.9L469.14 904.6ZM469.14 904.6L471.82 910.9L474.74 963.1L472.24 959.4ZM475.18 1011.4L477.59 1014.1L478.81 1035.9L476.43 1033.6ZM476.27 990.4L478.71 993.4L480 1016.7L477.59 1014.1ZM471.58 864.7L474.56 876.1L477.16 923.6L474.55 918.3ZM477.29 967.7L479.77 971.1L481.15 996.3L478.71 993.5ZM477.2 924.2L479.78 929.1L482.26 974.8L479.79 971.5ZM479.79 971.5L482.26 974.8L483.6 999.6L481.17 996.8ZM479.83 930L482.39 934.6L484.71 977.9L482.25 974.7ZM483.59 999.4L486.01 1002.1L487.21 1024.5L484.82 1022.1ZM482.41 934.9L484.95 939.3L487.17 981.2L484.72 978.1ZM484.72 978.1L487.17 981.2L488.46 1005.4L486.04 1002.8ZM481.45 873.3L484.29 882.7L487.51 944.1L484.98 939.9ZM483.92 875.7L486.73 884.7L486.95 888.8L484.18 880.6ZM492.57 952.8L495.05 956.3L496.93 993.4L494.51 990.7ZM494.51 990.7L496.93 993.4L498.06 1015.7L495.67 1013.4ZM492.49 905.8L495.1 911.4L497.55 960.3L495.08 956.9ZM495.13 911.9L497.71 917.1L500.02 963.7L497.55 960.4ZM497.55 960.4L500.02 963.7L501.78 999.3L499.38 996.7ZM495.98 882.2L498.7 889.8L500.3 922.4L497.74 917.6ZM497.74 917.6L500.3 922.4L502.48 967.1L500.03 963.9ZM500.03 963.9L502.48 967.1L504.18 1001.8L501.78 999.3ZM500.31 922.8L502.86 927.3L504.95 970.6L502.5 967.5ZM502.88 927.8L505.4 932L507.38 973.3L504.94 970.4ZM504.94 970.4L507.38 973.3L508.99 1007.1L506.6 1004.7ZM503.97 902L506.57 907.6L507.94 936.5L505.43 932.6ZM505.43 932.6L507.94 936.5L509.82 976.5L507.39 973.6ZM504.45 862.7L507.3 873.1L507.66 880.7L504.9 872.1ZM509.82 976.5L512.25 979.3L513.75 1011.5L511.37 1009.3ZM510.45 890.4L513.09 896.6L515.43 948.2L512.96 944.8ZM516.14 1013.9L518.51 1016.1L519.4 1035.5L517.04 1033.5ZM515.75 903.7L518.33 908.8L520.39 955.4L517.93 952.2ZM518.36 909.5L520.91 914.3L522.84 958.4L520.39 955.4ZM526.75 995.5L529.15 997.7L530.38 1026.5L528.01 1024.6ZM530.19 967.6L532.63 970.2L533.94 1002L531.54 999.8ZM531.54 999.8L533.94 1002L535.11 1030.3L532.75 1028.5ZM536.05 939.3L538.53 942.5L539.94 978.1L537.51 975.7ZM539.25 900.3L541.83 905L543.52 949.1L541.04 946.2ZM562.95 878.7L565.67 884.5L566.18 900.3L563.51 895.8ZM567.51 941.7L570.11 944.4L571.13 976.6L568.57 974.6ZM570.33 1029.3L572.84 1030.8L573.61 1055.2L571.13 1053.9ZM579.73 1010.1L582.34 1011.7L583.06 1036.6L580.47 1035.2ZM578.61 883L581.43 888.1L582.42 923.1L579.68 920ZM582.34 1011.8L584.98 1013.3L585.68 1038.2L583.07 1036.9ZM590.34 1015.9L593.07 1017.4L593.71 1041.8L591 1040.5ZM597.82 1096.3L600.57 1097.2L600.94 1112.2L598.21 1111.3ZM611.73 1086.2L614.76 1087.2L615.08 1102.1L612.06 1101.3ZM624.25 1089.7L627.56 1090.6L627.83 1105.6L624.53 1104.8ZM624.53 1104.8L627.83 1105.6L628.08 1119.5L624.79 1118.8ZM630.72 1077.1L634.22 1078L634.45 1092.4L630.97 1091.6ZM670.33 1098.3L674.8 1098.7L674.88 1112.7L670.42 1112.4ZM683.67 997.8L688.46 998.1L688.5 1020.6L683.74 1020.4ZM712.16 1084.7L716.77 1084.4L716.69 1098.4L712.1 1098.7ZM717.7 922.7L722.44 921.5L722.26 947.1L717.55 948.1ZM726.89 946.3L731.42 945L731.19 970.2L726.69 971.2ZM731.67 918.2L736.14 916.3L735.86 943.5L731.42 944.9ZM731.19 970.3L735.59 969.1L735.34 993.2L730.97 994.2ZM735.86 943.5L740.19 941.9L739.89 967.6L735.6 968.9ZM739.9 967.5L744.09 966.1L743.77 991.2L739.61 992.4ZM746.42 1094.3L750.25 1093.6L750.04 1108.1L746.22 1108.8ZM756.44 933.9L760.24 931.7L759.77 959.9L756.01 961.7ZM757.6 1092.2L761.13 1091.3L760.88 1105.9L757.36 1106.7ZM764.83 1075.8L768.19 1074.8L767.92 1089.4L764.57 1090.3ZM764.57 1090.3L767.92 1089.4L767.64 1103.9L764.3 1104.7ZM771.07 924.6L774.51 921.9L773.91 951.8L770.51 953.8ZM770.51 953.8L773.91 951.8L773.36 979.4L769.99 981.1ZM772.38 1028.6L775.62 1027.3L775.14 1050.4L771.92 1051.5ZM781.88 1024.9L784.92 1023.5L784.37 1047.1L781.36 1048.3ZM807.29 923.6L810.07 920.4L809.07 954.8L806.34 957.1ZM804.75 1013.3L807.43 1011.7L806.7 1036.8L804.05 1038.2ZM813.64 889.6L816.44 884.5L815.57 913.3L812.83 916.8ZM819.02 885.8L821.8 880.2L821 905.5L818.29 909.4ZM826.45 970.1L828.98 967.8L827.97 997.6L825.47 999.4ZM825.47 999.4L827.97 997.6L827.04 1024.7L824.57 1026.3ZM845.23 982.9L847.67 980.6L846.51 1010.3L844.1 1012.2ZM842.42 1056L844.79 1054.5L844.12 1071.6L841.77 1073ZM845.47 1037.1L847.84 1035.5L847.15 1053L844.79 1054.6ZM856.1 887.3L858.76 880.7L856.51 935.8L854.02 939.2ZM852.57 975.3L855.01 972.8L853.73 1004L851.33 1006ZM856.13 1001.9L858.53 999.7L857.33 1028.4L854.96 1030.2ZM867.25 958.3L869.71 955.3L868.16 990.1L865.76 992.5ZM871.77 908.7L874.35 903.5L872.17 952L869.71 955.2ZM877.77 1029.5L880.13 1027.5L879.22 1046.6L876.88 1048.4ZM881.12 1006.9L883.51 1004.5L882.51 1025.1L880.14 1027.2ZM885.92 1001.7L888.32 999.2L887.28 1020.3L884.9 1022.5ZM921.29 979.7L923.77 976.3L922.24 1002.5L919.81 1005.4ZM919.81 1005.4L922.24 1002.5L920.89 1025.7L918.49 1028.2ZM929.17 883.6L932.12 873.3L928.15 940.7L925.58 945.2ZM932.16 988.7L934.64 985.3L933.07 1011.1L930.63 1013.9ZM940.69 886.6L943.66 876.4L941.69 908.2L938.96 914.8ZM937.21 980.7L939.72 977.1L937.98 1004.9L935.53 1007.9ZM939.72 977L942.24 973.2L940.46 1001.6L938 1004.7ZM182.85 1005.7L186.64 1013.4L189.16 1032.6L185.84 1028.5ZM186.32 989.5L190.21 997.9L194.95 1034.6L191.31 1027.8ZM195.3 1037.3L198.89 1043.7L199.37 1047.4L196.11 1043.6ZM218.29 1066.4L221.69 1071.7L222.44 1077.8L219.28 1074.4ZM215.12 1018.6L218.73 1025.3L222.23 1053.8L218.76 1048.1ZM218.76 1048.1L222.23 1053.8L225.27 1078.5L221.89 1073.4ZM225.5 1080.4L228.84 1085.4L228.88 1085.7L225.73 1082.3ZM233.27 1076.8L236.6 1081.8L238.35 1096.3L235.26 1093.2ZM234.56 1041.7L238.01 1047.5L240.87 1071.6L237.52 1066.5ZM235.02 1022.3L238.54 1028.6L241.62 1054.7L238.21 1049.2ZM239.12 1009.9L242.69 1016.6L245.95 1044.6L242.52 1038.9ZM253.25 1060.1L256.58 1065.2L259.02 1086.4L255.75 1081.8ZM259.17 1087.8L262.41 1092.2L264.55 1111.1L261.36 1106.9ZM251.29 994.4L254.9 1001.6L258.16 1030.5L254.71 1024.5ZM262.53 1093.3L265.75 1097.7L267.82 1116L264.65 1112ZM259.41 991.9L263 999.1L266.15 1027.5L262.71 1021.5ZM262.71 1021.5L266.15 1027.5L268.87 1052.1L265.53 1046.9ZM280.75 1135L283.83 1138.6L284.32 1143L281.36 1140.5ZM275.85 1065.5L279.11 1070.2L281.26 1090L278.06 1085.7ZM282.02 1122L285.13 1125.7L286.97 1142.6L283.9 1139.1ZM279.23 1071.4L282.47 1076L284.55 1095.3L281.37 1091.1ZM283.76 1062.5L287.01 1067.2L289.06 1086.5L285.87 1082.2ZM289.15 1087.3L292.33 1091.5L294.21 1109.3L291.09 1105.5ZM290.36 1020.3L293.73 1026L296.08 1048.7L292.8 1043.7ZM297.01 1084.1L300.17 1088.2L301.97 1105.6L298.85 1101.7ZM308.75 1037.5L312.01 1042.5L313.97 1062.2L310.77 1057.7ZM306.37 957.2L309.97 965.2L313.7 1003.2L310.3 997.1ZM316.75 1034.5L320 1039.4L321.92 1059.2L318.73 1054.7ZM320.1 1040.4L323.32 1045.1L325.18 1064.4L322.01 1060.1ZM328.47 1126.6L331.49 1129.9L332.93 1144.8L329.94 1141.7ZM332.96 1145.1L335.94 1148.2L337.27 1162.1L334.32 1159.2ZM334.6 1134.2L337.59 1137.3L338.92 1151.2L335.95 1148.2ZM328.2 1009L331.49 1014.5L334.03 1041.6L330.83 1036.9ZM339.29 1126.7L342.28 1129.8L343.59 1143.7L340.61 1140.7ZM336.35 1066.4L339.47 1070.4L341.03 1087.2L337.95 1083.5ZM343.65 1144.4L346.61 1147.3L347.86 1160.8L344.92 1158ZM342.44 1012.4L345.68 1017.6L347.99 1043.2L344.83 1038.8ZM349.09 1024.6L352.29 1029.3L354.39 1053L351.26 1048.8ZM362 1139.1L364.95 1141.9L366.13 1155.3L363.21 1152.6ZM353.33 1009.6L356.55 1014.6L358.75 1039.8L355.59 1035.4ZM357.64 1058.6L360.73 1062.6L362.54 1083.4L359.5 1079.8ZM361.22 1099.5L364.23 1102.7L365.53 1117.6L362.55 1114.6ZM367.27 1168.3L370.16 1170.9L371.29 1183.8L368.42 1181.4ZM376.76 1154.2L379.66 1156.7L380.7 1169.2L377.82 1166.7ZM375.1 1003.2L378.29 1008.1L380.25 1032.3L377.13 1028.1ZM377.13 1028.1L380.25 1032.3L382.07 1054.6L379 1050.8ZM373.4 948.1L376.81 955.2L379.4 987.4L376.15 981.9ZM386.61 1042.5L389.68 1046.4L391.29 1066.7L388.26 1063.2ZM380.05 924.9L383.57 933.4L387.07 978.1L383.81 972.3ZM387.95 1024.6L391.06 1028.8L392.76 1050.5L389.71 1046.8ZM387.33 945.3L390.7 952.3L393.68 990.9L390.48 985.7ZM386.31 895.3L390.06 906.8L394.14 960.3L390.82 953.8ZM390.82 953.8L394.14 960.3L396.91 996.5L393.73 991.6ZM397.36 1038.6L400.42 1042.4L401.93 1062.3L398.92 1058.8ZM401.79 1096.1L404.74 1099L406.03 1115.9L403.11 1113.2ZM390.34 910.4L393.92 920L397.53 967.7L394.25 961.7ZM394.25 961.7L397.53 967.7L400.13 1002.1L396.97 997.3ZM404.76 1099.3L407.7 1102.1L408.98 1119L406.06 1116.4ZM390.74 877.9L394.7 892.4L397.62 931.3L394.15 923ZM394.15 923L397.62 931.3L400.85 974.5L397.61 968.8ZM400.19 1002.9L403.32 1007.4L404.99 1029.7L401.91 1025.7ZM397.76 933.2L401.15 940.7L404.12 980.6L400.91 975.2ZM396.51 878.1L400.43 892.3L404.64 949.6L401.31 942.8ZM401.31 942.8L404.64 949.6L407.37 986.7L404.19 981.6ZM404.19 981.6L407.37 986.7L409.62 1017.3L406.53 1013.1ZM410.98 1073.1L413.95 1076.2L415.27 1094.1L412.33 1091.2ZM413.6 1108.3L416.51 1111L417.68 1126.9L414.79 1124.4ZM400.62 894.9L404.3 906L408.02 957.1L404.73 950.8ZM404.73 950.8L408.02 957.1L410.59 992.3L407.43 987.5ZM407.43 987.5L410.59 992.3L412.7 1021.4L409.63 1017.4ZM409.63 1017.4L412.7 1021.4L414.22 1042.2L411.19 1038.6ZM404.54 909.3L408.07 918.6L411.34 963.9L408.09 958ZM408.09 958L411.34 963.9L413.78 997.8L410.64 993.1ZM410.64 993.1L413.78 997.8L415.8 1025.9L412.74 1022ZM422.85 1160.9L425.68 1163L426.51 1174.5L423.69 1172.4ZM408.23 920.9L411.66 929L414.64 970.7L411.43 965.2ZM411.43 965.2L414.64 970.7L416.92 1002.7L413.81 998.2ZM413.81 998.2L416.92 1002.7L418.89 1030.3L415.85 1026.5ZM428.93 1208L431.7 1209.8L432.45 1220.3L429.69 1218.6ZM411.81 931L415.16 938.3L417.88 976.8L414.7 971.5ZM414.7 971.5L417.88 976.8L420.07 1007.8L416.98 1003.5ZM415.26 939.7L418.56 946.3L421.09 982.5L417.93 977.5ZM417.93 977.5L421.09 982.5L423.16 1012.1L420.08 1007.9ZM420.08 1007.9L423.16 1012.1L424.99 1038.3L421.98 1034.7ZM418.66 947.7L421.92 953.8L424.29 988.1L421.15 983.4ZM421.15 983.4L424.29 988.1L426.27 1016.7L423.21 1012.8ZM434.96 1180.8L437.75 1182.7L438.51 1193.7L435.73 1191.8ZM421.99 955L425.22 960.8L427.43 993.1L424.32 988.6ZM424.32 988.6L427.43 993.1L429.33 1020.8L426.28 1017ZM426.28 1017L429.33 1020.8L431.02 1045.6L428.03 1042.2ZM433.91 1127.2L436.77 1129.5L437.8 1144.5L434.96 1142.3ZM425.27 961.5L428.46 967L430.56 997.9L427.46 993.6ZM427.46 993.6L430.56 997.9L432.4 1025.1L429.37 1021.4ZM431.06 1046.1L434.04 1049.4L435.25 1067.2L432.3 1064.3ZM432.3 1064.3L435.25 1067.2L436.4 1084.1L433.48 1081.4ZM428.5 967.6L431.66 972.8L433.68 1002.8L430.6 998.6ZM430.6 998.6L433.68 1002.8L435.43 1029L432.42 1025.4ZM431.72 973.6L434.85 978.5L436.75 1007L433.69 1003ZM444.46 1163.5L447.26 1165.5L448.22 1180L445.43 1178.1ZM434.88 978.9L438 983.6L439.84 1011.7L436.8 1007.8ZM436.8 1007.8L439.84 1011.7L441.47 1036.4L438.48 1033.1ZM438.48 1033.1L441.47 1036.4L442.96 1059.2L440.01 1056.2ZM438.02 983.9L441.11 988.4L442.88 1015.5L439.85 1011.8ZM439.85 1011.8L442.88 1015.5L444.45 1039.8L441.47 1036.5ZM448.17 1138.6L451 1140.7L451.97 1155.6L449.16 1153.7ZM441.15 989L444.23 993.2L445.91 1019.4L442.89 1015.8ZM457.83 1245.9L460.54 1247.3L461.07 1255.6L458.39 1254.6ZM444.27 993.9L447.33 998L448.93 1023.2L445.93 1019.7ZM457.25 1196.1L460.01 1197.8L460.67 1208.3L457.92 1206.6ZM447.35 998.3L450.39 1002.2L451.94 1026.9L448.95 1023.6ZM461.99 1229L464.71 1230.5L465.34 1240.5L462.63 1239ZM450.42 1002.8L453.45 1006.6L454.95 1030.8L451.98 1027.5ZM457.66 1118.1L460.5 1120.3L461.43 1135.2L458.61 1133.2ZM467.42 1231.8L470.14 1233.3L470.75 1243.3L468.05 1241.8ZM456.49 1010.6L459.48 1014.1L460.9 1037.4L457.94 1034.3ZM459.5 1014.3L462.48 1017.7L463.85 1040.5L460.9 1037.5ZM464.41 1095.4L467.27 1097.7L468.17 1112.6L465.32 1110.4ZM474.97 1226.2L477.69 1227.6L478.28 1237.6L475.57 1236.2ZM476.17 1246.3L478.87 1247.6L479.46 1257.6L476.77 1256.3ZM477.12 1218L479.84 1219.5L480.42 1229.5L477.71 1228.1ZM470.95 1067.5L473.84 1070L474.99 1089.9L472.13 1087.6ZM482.13 1258.6L484.81 1259.9L485.12 1265.2L482.46 1264.3ZM483.13 1230.8L485.83 1232.1L486.4 1242.1L483.7 1240.8ZM484.25 1250.3L486.94 1251.6L487.51 1261.6L484.83 1260.3ZM484.83 1260.3L487.51 1261.6L487.76 1265.9L485.1 1265ZM487.5 1261.4L490.18 1262.6L490.42 1267L487.77 1266ZM482.32 1123.2L485.14 1125.1L485.91 1139L483.12 1137.2ZM489.1 1243.5L491.79 1244.8L492.32 1254.2L489.64 1253ZM489.59 1205.1L492.31 1206.5L492.86 1216.5L490.14 1215.1ZM490.14 1215.1L492.86 1216.5L493.41 1226.5L490.7 1225.2ZM492.32 1254.2L494.99 1255.4L495.51 1264.9L492.84 1263.7ZM498.81 1229.2L501.51 1230.4L502.01 1239.9L499.32 1238.7ZM499.83 1248.2L502.51 1249.4L503.03 1259.4L500.36 1258.2ZM500.87 1267.7L503.53 1268.9L503.69 1271.7L501.04 1270.9ZM502.01 1239.9L504.69 1241.1L505.19 1250.6L502.51 1249.4ZM503.51 1268.5L506.17 1269.6L506.32 1272.5L503.68 1271.6ZM504.71 1241.4L507.39 1242.6L507.88 1252.1L505.2 1251ZM505.25 1200.9L507.97 1202.2L508.62 1215.2L505.92 1213.9ZM509.6 1234.4L512.28 1235.6L512.75 1245.1L510.08 1243.9ZM508.79 1165.6L511.54 1167.1L512.18 1180L509.44 1178.6ZM514.16 1273.3L516.81 1274.3L516.88 1275.7L514.24 1274.9ZM512.8 1192.8L515.52 1194.1L516.13 1206.6L513.42 1205.3ZM514.48 1226.9L517.17 1228L517.63 1237.5L514.95 1236.4ZM519.45 1275.2L522.1 1276.2L522.17 1277.6L519.53 1276.8ZM519.78 1171.6L522.52 1172.9L523.09 1185.4L520.37 1184.1ZM520.37 1184.1L523.09 1185.4L523.67 1197.9L520.96 1196.6ZM522.56 1230.7L525.24 1231.8L525.68 1241.3L523.01 1240.2ZM523.43 1249.2L526.1 1250.3L526.53 1259.8L523.88 1258.7ZM524.3 1267.8L526.95 1268.8L527.39 1278.2L524.75 1277.3ZM524.81 1222.5L527.5 1223.6L527.91 1232.6L525.23 1231.5ZM526.53 1259.6L529.18 1260.6L529.61 1270.1L526.97 1269.1ZM525.82 1186.8L528.54 1188L529.08 1200L526.37 1198.8ZM527.92 1232.9L530.6 1233.9L531.02 1243.4L528.35 1242.4ZM529.61 1269.9L532.26 1270.9L532.68 1280.3L530.05 1279.5ZM527.75 1109.8L530.54 1111.3L531.26 1127.8L528.48 1126.3ZM529.06 1139.3L531.82 1140.7L532.36 1153.2L529.61 1151.9ZM532.33 1213.5L535.02 1214.6L535.54 1226.6L532.86 1225.5ZM531.82 1140.7L534.58 1142.1L535.11 1154.6L532.36 1153.3ZM532.9 1165.8L535.64 1167L536.15 1179L533.43 1177.8ZM540.1 1144.9L542.85 1146.2L543.34 1158.2L540.59 1157ZM542.62 1206.1L545.32 1207.1L545.81 1219.1L543.12 1218.1ZM548.14 1276.7L550.79 1277.5L551.1 1285.4L548.47 1284.8ZM549.69 1249.9L552.35 1250.8L552.72 1260.3L550.06 1259.4ZM552.01 1241.9L554.68 1242.8L555.03 1251.7L552.36 1250.9ZM553.42 1139L556.19 1140.3L556.63 1152.2L553.88 1151.1ZM553.88 1151.1L556.63 1152.2L557.08 1164.2L554.33 1163.1ZM556.63 1152.2L559.39 1153.3L559.83 1165.3L557.08 1164.2ZM557.08 1164.2L559.83 1165.3L560.26 1177.3L557.52 1176.2ZM559.39 1153.2L562.15 1154.3L562.58 1166.3L559.82 1165.2ZM562.72 1245.3L565.41 1246.2L565.73 1255.2L563.05 1254.3ZM565.35 1167.6L568.11 1168.6L568.52 1180.6L565.76 1179.6ZM574.39 1275.2L577.08 1275.9L577.37 1284.9L574.69 1284.2ZM575.18 1217.3L577.92 1218.1L578.29 1229.6L575.55 1228.8ZM580.69 1219.2L583.45 1219.9L583.8 1231.4L581.04 1230.7ZM587.36 1163.6L590.22 1164.5L590.55 1176L587.7 1175.1ZM590.19 1261.7L592.97 1262.4L593.22 1271.4L590.45 1270.8ZM591.84 1222.3L594.67 1223L594.97 1234L592.15 1233.3ZM594.98 1234.3L597.82 1235L598.13 1246.5L595.3 1245.8ZM595.3 1139.8L598.24 1140.7L598.63 1155.7L595.7 1154.8ZM607.85 1169.3L610.89 1170L611.15 1181.5L608.12 1180.8ZM611.15 1181.5L614.21 1182.2L614.46 1193.7L611.41 1193ZM613.97 1170.8L617.08 1171.5L617.32 1183L614.22 1182.3ZM616.07 1267.4L619.1 1268L619.28 1276.4L616.25 1275.9ZM621.6 1239.6L624.74 1240.1L624.96 1251.6L621.83 1251.1ZM631.54 1261.1L634.82 1261.6L634.96 1270.1L631.68 1269.7ZM635.11 1278.9L638.44 1279.3L638.57 1287.8L635.25 1287.4ZM638.04 1253.7L641.45 1254.2L641.58 1262.7L638.17 1262.2ZM639.72 1136.5L643.32 1137.2L643.51 1151.1L639.93 1150.6ZM645.04 1262.7L648.58 1263.1L648.7 1272.1L645.17 1271.7ZM648.59 1263.3L652.19 1263.7L652.29 1272.2L648.69 1271.8ZM648.69 1271.8L652.29 1272.2L652.39 1280.7L648.8 1280.3ZM651.96 1244.1L655.66 1244.4L655.77 1255.4L652.09 1255.1ZM659.94 1298.3L663.72 1298.5L663.75 1302L659.98 1301.8ZM662.68 1179L666.65 1179.4L666.74 1190.4L662.78 1190ZM662.87 1201L666.82 1201.3L666.9 1212.3L662.97 1212ZM666.99 1223.3L670.97 1223.5L671.05 1234.5L667.07 1234.3ZM667.24 1256.3L671.19 1256.5L671.25 1265L667.3 1264.8ZM670.61 1168.4L674.72 1168.6L674.78 1179.6L670.69 1179.4ZM675.43 1299.3L679.44 1299.5L679.46 1302.5L675.45 1302.4ZM683.19 1201.9L687.39 1202L687.41 1213L683.22 1212.9ZM687.41 1213.4L691.63 1213.5L691.64 1224.5L687.44 1224.4ZM708.85 1126.7L713.12 1126.5L713.05 1140.5L708.8 1140.7ZM712.81 1190.8L716.97 1190.6L716.91 1201.6L712.76 1201.8ZM717.11 1168.5L721.24 1168.2L721.17 1179.2L717.04 1179.5ZM716.91 1201.5L721.01 1201.2L720.93 1212.2L716.84 1212.5ZM728.83 1222.8L732.73 1222.4L732.61 1233.4L728.73 1233.8ZM732.61 1233.8L736.42 1233.4L736.3 1244.4L732.5 1244.8ZM743.69 1243.4L747.28 1242.9L747.12 1253.9L743.54 1254.4ZM750.23 1279.4L753.65 1279L753.51 1287.5L750.1 1287.9ZM763.86 1260.4L767.05 1259.8L766.89 1268.4L763.7 1268.9ZM766.71 1277.2L769.84 1276.7L769.66 1285.2L766.54 1285.7ZM775.18 1171L778.31 1170.3L778.06 1181.8L774.94 1182.5ZM777.8 1193.1L780.87 1192.4L780.6 1203.9L777.55 1204.6ZM788.99 1224.2L791.9 1223.6L791.6 1235.1L788.7 1235.7ZM801.12 1198.6L803.96 1197.8L803.62 1209.3L800.8 1210.1ZM805 1162.7L807.84 1161.7L807.48 1173.8L804.64 1174.6ZM807.07 1277.4L809.8 1276.7L809.51 1285.7L806.79 1286.4ZM815.21 1275.4L817.9 1274.6L817.59 1283.7L814.91 1284.4ZM827.65 1224.9L830.36 1224L829.93 1235.5L827.24 1236.4ZM833.06 1223.1L835.76 1222.2L835.32 1233.7L832.63 1234.6ZM837.13 1186.4L839.86 1185.3L839.39 1197.4L836.67 1198.4ZM834.97 1242.8L837.65 1241.9L837.3 1250.9L834.63 1251.8ZM833.92 1270.3L836.58 1269.5L836.23 1278.5L833.57 1279.3ZM839.39 1197.3L842.11 1196.3L841.63 1208.3L838.92 1209.3ZM846.8 1146.3L849.56 1145L849.06 1157.1L846.31 1158.3ZM844.34 1207.2L847.04 1206.2L846.55 1218.2L843.85 1219.2ZM843.85 1219.2L846.55 1218.2L846.05 1230.2L843.37 1231.2ZM847.21 1265.7L849.86 1264.8L849.48 1273.8L846.83 1274.7ZM856.31 1113.3L859.1 1111.8L858.41 1127.8L855.63 1129.3ZM852.98 1191.6L855.69 1190.5L855.17 1202.5L852.47 1203.6ZM858.39 1128.1L861.17 1126.7L860.62 1139.2L857.85 1140.6ZM857.34 1213.6L860.04 1212.5L859.5 1224.5L856.81 1225.6ZM862.73 1211.6L865.43 1210.4L864.87 1222.4L862.18 1223.5ZM861.75 1233L864.43 1231.9L863.99 1241.5L861.32 1242.5ZM861.32 1242.5L863.99 1241.5L863.58 1250.5L860.91 1251.5ZM871.91 1070.1L874.75 1068.1L873.92 1085.7L871.1 1087.6ZM874.24 1246.4L876.92 1245.3L876.47 1254.3L873.8 1255.4ZM877.41 1235.4L880.1 1234.2L879.61 1243.8L876.94 1244.9ZM888.11 1075.5L890.96 1073.3L890.04 1091.4L887.21 1093.4ZM885.72 1175.7L888.47 1174.2L887.79 1187.2L885.06 1188.6ZM888.18 1230.4L890.87 1229.1L890.34 1239.1L887.65 1240.4ZM886.65 1259.3L889.32 1258.2L888.82 1267.7L886.15 1268.8ZM899.58 1066L902.45 1063.7L901.42 1082.8L898.57 1084.9ZM893.28 1184.1L896.02 1182.6L895.31 1195.6L892.58 1197.1ZM892.58 1197.1L895.31 1195.6L894.64 1208.2L891.92 1209.5ZM891.49 1266.3L894.16 1265.1L893.91 1269.7L891.26 1270.6ZM896.27 1226.6L898.98 1225.3L898.42 1235.3L895.72 1236.6ZM898.44 1234.9L901.14 1233.6L900.58 1243.6L897.89 1244.9ZM902.8 1204L905.53 1202.5L904.96 1212.6L902.24 1214ZM900.03 1253.4L902.71 1252.1L902.17 1261.7L899.49 1262.9ZM936.21 1006.6L939.24 1002.8L937.69 1027.6L934.71 1030.9ZM931.02 1090.5L933.9 1088L932.92 1103.6L930.06 1105.9ZM932.95 1103.1L935.82 1100.8L934.83 1116.3L931.99 1118.5ZM934.84 1116.2L937.7 1113.9L936.73 1129L933.9 1131.1ZM931.21 1173.5L934 1171.7L933.1 1185.7L930.33 1187.4ZM930.41 1227.6L933.14 1226L932.49 1236.1L929.77 1237.6ZM940.73 1190.9L943.51 1189.1L942.8 1199.6L940.04 1201.4ZM950.32 1087.4L953.24 1084.7L952.11 1101.3L949.22 1103.8ZM942.82 1199.4L945.59 1197.6L944.84 1208.7L942.09 1210.4ZM962.2 993.6L965.31 989L963.35 1017.4L960.31 1021.2ZM952.67 1171.9L955.48 1169.9L954.71 1180.9L951.92 1182.8ZM964.63 1038.9L967.65 1035.3L966.3 1054.5L963.32 1057.7ZM957.2 1220.8L959.96 1219.1L959.2 1229.6L956.45 1231.3ZM979.03 992.9L982.19 988.1L979.99 1018L976.92 1022ZM980.01 1017.7L983.1 1013.5L981.49 1035.3L978.45 1039ZM963.95 1236.5L966.7 1234.8L966.35 1239.5L963.64 1240.8ZM989.13 932.2L992.58 924.1L991.78 934.8L988.39 942.2ZM974.86 1124.8L977.75 1122.2L976.55 1138.3L973.68 1140.7ZM968.32 1212.9L971.1 1211L970.28 1222.1L967.51 1223.9ZM986.32 1007.8L989.45 1003.2L987.69 1026.5L984.62 1030.5ZM977.77 1227.4L980.54 1225.6L980.02 1232.3L977.29 1233.7ZM986.03 1189.2L988.86 1187L987.94 1198.6L985.13 1200.6ZM985.13 1200.6L987.94 1198.6L987.03 1210.1L984.23 1212.1ZM988.96 1219L991.76 1217L991.01 1226.3L988.27 1227.7ZM1010.2 988.2L1013.45 982.6L1011.22 1010.1L1008.06 1014.8ZM1017.86 997.2L1021.1 991.9L1018.85 1018.8L1015.7 1023.3ZM1011.89 1102.3L1014.87 1099.1L1013.35 1117.2L1010.39 1120.1ZM1008.96 1169.4L1011.84 1166.9L1010.77 1179.5L1007.91 1181.8ZM1028.01 976.4L1031.36 970L1028.7 1001.1L1025.47 1006.3ZM1025.47 1006.3L1028.7 1001.1L1026.45 1027.5L1023.29 1031.9ZM1046.57 988.8L1049.93 982.6L1047.16 1013.1L1043.92 1018.2ZM1053.67 972.3L1057.14 965.2L1053.94 1000L1050.64 1005.6ZM1057.32 963.3L1060.85 955.6L1057.38 993L1054.04 998.9ZM1047 1075.4L1050.1 1071.5L1048.56 1088.1L1045.49 1091.8ZM1052.05 1137.6L1055.05 1134.5L1053.65 1149.1L1050.69 1152ZM1072.32 953.9L1075.97 945.2L1071.91 987.4L1068.5 993.7ZM1056.7 1145.3L1059.69 1142.2L1058.32 1156.3L1055.36 1159.2ZM1068.94 1102.9L1072.02 1099.2L1070.38 1115.9L1067.32 1119.3ZM1061.6 1177.5L1064.54 1174.7L1064.1 1179.1L1061.24 1181.1ZM1072.08 1098.7L1075.18 1094.9L1073.52 1111.5L1070.45 1115.1ZM1077.01 1076.6L1080.17 1072.4L1078.34 1090.6L1075.23 1094.5ZM1073.58 1164.5L1076.56 1161.5L1075.7 1169.9L1072.81 1172ZM1086.24 1093.3L1089.39 1089.3L1087.56 1106.9L1084.46 1110.7ZM1087.65 1106.1L1090.76 1102.3L1088.98 1119.4L1085.9 1123ZM1100.33 1037.1L1103.66 1031.7L1101.31 1054L1098.05 1058.8ZM1094.05 1096.9L1097.2 1092.9L1095.34 1110.5L1092.23 1114.3ZM1098.59 1105.4L1101.73 1101.5L1099.84 1119.1L1096.74 1122.8ZM1112.8 1049.6L1116.13 1044.4L1113.7 1066.6L1110.44 1071.3ZM1109.55 1104.6L1112.72 1100.5L1110.78 1118.1L1107.66 1121.9ZM1126.37 976.3L1130.1 968L1126.24 1002.9L1122.73 1009.5ZM1110.84 1117.6L1113.98 1113.7L1112.08 1130.9L1108.98 1134.5ZM1122.76 1083.8L1126.01 1079.2L1123.79 1098.9L1120.59 1103.1ZM1131.39 1031.5L1134.84 1025.5L1131.96 1050.9L1128.61 1056.1ZM1148.7 1072.5L1152.05 1067.4L1149.39 1089.6L1146.12 1094.2ZM1179.62 977.5L1183.58 968.3L1178.41 1009.8L1174.74 1017ZM1194.59 1035.6L1198.23 1028.9L1196.62 1041.3L1193.34 1045.2Z"/>
</g>
<g clip-path="url(#pc)" fill="none" stroke="#fff">
<path d="M695.65 669.90L695.65 75.40M701.34 670.65L855.21 96.41M706.65 672.85L1003.90 158.00M711.21 676.34L1131.58 255.97M714.70 680.90L1229.55 383.65M716.90 686.21L1291.14 532.34M717.65 691.90L1312.15 691.90M716.90 697.59L1291.14 851.46M714.70 702.90L1229.55 1000.15M711.21 707.46L1131.58 1127.83M706.65 710.95L1003.90 1225.80M701.34 713.15L855.21 1287.39M695.65 713.90L695.65 1308.40M689.96 713.15L536.09 1287.39M684.65 710.95L387.40 1225.80M680.09 707.46L259.72 1127.83M676.60 702.90L161.75 1000.15M674.40 697.59L100.16 851.46M673.65 691.90L79.15 691.90M674.40 686.21L100.16 532.34M676.60 680.90L161.75 383.65M680.09 676.34L259.72 255.97M684.65 672.85L387.40 158.00M689.96 670.65L536.09 96.41" stroke-width="3.1" stroke-dasharray="3.5 7.52"/>
<circle cx="695.65" cy="691.9" r="160.0" stroke-width="3.7" stroke-dasharray="3.7 7.28" transform="rotate(-90 695.65 691.9)"/>
<circle cx="695.65" cy="691.9" r="318.0" stroke-width="3.7" stroke-dasharray="3.7 7.28" transform="rotate(-90 695.65 691.9)"/>
<circle cx="695.65" cy="691.9" r="471.1" stroke-width="3.7" stroke-dasharray="3.7 7.28" transform="rotate(-90 695.65 691.9)"/>
<circle cx="695.65" cy="691.9" r="615.8" stroke-width="3.7" stroke-dasharray="3.7 7.28" transform="rotate(-90 695.65 691.9)"/>
<circle cx="695.65" cy="691.9" r="12.4" stroke-width="3.6"/>
<circle cx="695.65" cy="691.9" r="3.5" fill="#fff" stroke="none"/>
<path d="M695.65 692.9V1309" stroke="#d93d08" stroke-width="4.6"/>
</g>
<g fill="#000" font-size="50.3">
<text x="693.9" y="55" text-anchor="middle">24:00</text>
<text x="695.1" y="1362" text-anchor="middle">12:00</text>
<text transform="translate(57 692.8) rotate(-90)" text-anchor="middle">06:00</text>
<text transform="translate(1330.2 687.6) rotate(90)" text-anchor="middle">18:00</text>
</g>
<g fill="#fff" font-size="36.2">
<text x="858.3" y="958">-70<tspan font-size="12.6" dx="2.2" dy="-16.4">o</tspan></text>
<text x="1038.3" y="1196.8">-50<tspan font-size="12.6" dx="2.2" dy="-16.4">o</tspan></text>
</g>
<rect x="1338.4" y="1000.1" width="47.40000000000005" height="307.59999999999985" fill="url(#cb)" stroke="#000" stroke-width="1.8"/>
<path d="M1338.5 1305.7h4.6M1385.7 1305.7h-4.6M1338.5 1243.5h2.3M1385.7 1243.5h-2.3M1338.5 1207.1h2.3M1385.7 1207.1h-2.3M1338.5 1181.3h2.3M1385.7 1181.3h-2.3M1338.5 1161.3h2.3M1385.7 1161.3h-2.3M1338.5 1144.9h2.3M1385.7 1144.9h-2.3M1338.5 1131.1h2.3M1385.7 1131.1h-2.3M1338.5 1119.1h2.3M1385.7 1119.1h-2.3M1338.5 1108.6h2.3M1385.7 1108.6h-2.3M1338.5 1099.1h4.6M1385.7 1099.1h-4.6M1338.5 1036.9h2.3M1385.7 1036.9h-2.3M1338.5 1000.5h2.3M1385.7 1000.5h-2.3M1339.3 1000.2v2.2M1341.6 1000.2v2.2M1344.0 1000.2v2.2M1346.3 1000.2v2.2M1348.7 1000.2v4.2M1351.0 1000.2v2.2M1353.4 1000.2v2.2M1355.7 1000.2v2.2M1358.1 1000.2v4.2M1360.4 1000.2v2.2M1362.8 1000.2v2.2M1365.1 1000.2v2.2M1367.5 1000.2v4.2M1369.8 1000.2v2.2M1372.2 1000.2v2.2M1374.5 1000.2v2.2M1376.9 1000.2v4.2M1379.2 1000.2v2.2M1381.6 1000.2v2.2M1383.9 1000.2v2.2" stroke="#000" stroke-width="1.5" fill="none"/>
<g fill="#000">
<text x="1315.9" y="984.5" font-size="37.3">kR H<tspan font-size="15.2" dy="5">2</tspan></text>
<text x="1394.6" y="1108.8" font-size="30.4">10</text>
<text x="1394.6" y="1307.7" font-size="30.4">1</text>
</g>
</svg>
</body></html>
